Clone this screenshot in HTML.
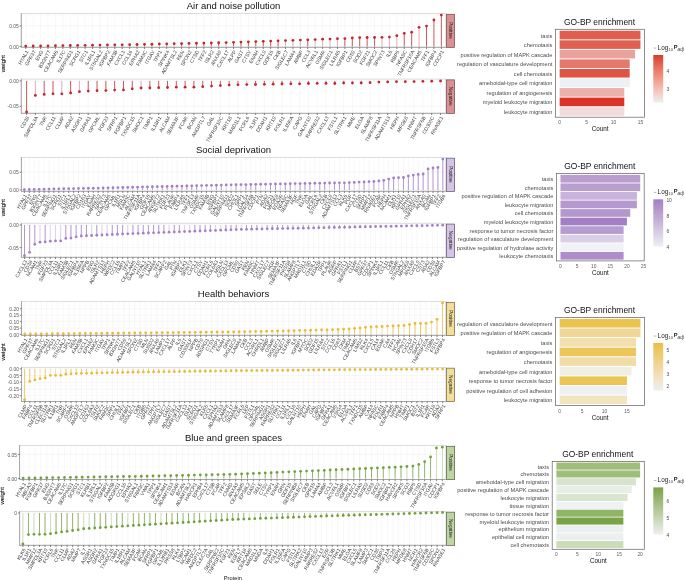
<!DOCTYPE html>
<html><head><meta charset="utf-8"><style>
html,body{margin:0;padding:0;background:#fff;}
body{width:685px;height:581px;overflow:hidden;font-family:"Liberation Sans", sans-serif;}
svg{display:block;}
#w{will-change:transform;}
</style></head><body>
<div id="w"><svg width="685" height="581" viewBox="0 0 685 581" font-family='"Liberation Sans", sans-serif'>
<rect width="685" height="581" fill="#ffffff"/>
<text x="233.50" y="8.80" font-size="9.5" text-anchor="middle" fill="#111" >Air and noise pollution</text>
<rect x="21.3" y="13.5" width="424.50" height="33.80" fill="#ffffff"/>
<line x1="21.3" x2="445.8" y1="15.65" y2="15.65" stroke="#f8f8f8" stroke-width="0.5"/>
<line x1="21.3" x2="445.8" y1="36.15" y2="36.15" stroke="#f8f8f8" stroke-width="0.5"/>
<line x1="21.3" x2="445.8" y1="25.90" y2="25.90" stroke="#f0f0f0" stroke-width="0.55"/>
<line x1="21.3" x2="445.8" y1="46.40" y2="46.40" stroke="#f0f0f0" stroke-width="0.55"/>
<line x1="25.75" x2="25.75" y1="13.5" y2="47.3" stroke="#f0f0f0" stroke-width="0.5"/>
<line x1="33.17" x2="33.17" y1="13.5" y2="47.3" stroke="#f0f0f0" stroke-width="0.5"/>
<line x1="40.60" x2="40.60" y1="13.5" y2="47.3" stroke="#f0f0f0" stroke-width="0.5"/>
<line x1="48.02" x2="48.02" y1="13.5" y2="47.3" stroke="#f0f0f0" stroke-width="0.5"/>
<line x1="55.44" x2="55.44" y1="13.5" y2="47.3" stroke="#f0f0f0" stroke-width="0.5"/>
<line x1="62.86" x2="62.86" y1="13.5" y2="47.3" stroke="#f0f0f0" stroke-width="0.5"/>
<line x1="70.28" x2="70.28" y1="13.5" y2="47.3" stroke="#f0f0f0" stroke-width="0.5"/>
<line x1="77.70" x2="77.70" y1="13.5" y2="47.3" stroke="#f0f0f0" stroke-width="0.5"/>
<line x1="85.12" x2="85.12" y1="13.5" y2="47.3" stroke="#f0f0f0" stroke-width="0.5"/>
<line x1="92.54" x2="92.54" y1="13.5" y2="47.3" stroke="#f0f0f0" stroke-width="0.5"/>
<line x1="99.97" x2="99.97" y1="13.5" y2="47.3" stroke="#f0f0f0" stroke-width="0.5"/>
<line x1="107.39" x2="107.39" y1="13.5" y2="47.3" stroke="#f0f0f0" stroke-width="0.5"/>
<line x1="114.81" x2="114.81" y1="13.5" y2="47.3" stroke="#f0f0f0" stroke-width="0.5"/>
<line x1="122.23" x2="122.23" y1="13.5" y2="47.3" stroke="#f0f0f0" stroke-width="0.5"/>
<line x1="129.65" x2="129.65" y1="13.5" y2="47.3" stroke="#f0f0f0" stroke-width="0.5"/>
<line x1="137.07" x2="137.07" y1="13.5" y2="47.3" stroke="#f0f0f0" stroke-width="0.5"/>
<line x1="144.49" x2="144.49" y1="13.5" y2="47.3" stroke="#f0f0f0" stroke-width="0.5"/>
<line x1="151.92" x2="151.92" y1="13.5" y2="47.3" stroke="#f0f0f0" stroke-width="0.5"/>
<line x1="159.34" x2="159.34" y1="13.5" y2="47.3" stroke="#f0f0f0" stroke-width="0.5"/>
<line x1="166.76" x2="166.76" y1="13.5" y2="47.3" stroke="#f0f0f0" stroke-width="0.5"/>
<line x1="174.18" x2="174.18" y1="13.5" y2="47.3" stroke="#f0f0f0" stroke-width="0.5"/>
<line x1="181.60" x2="181.60" y1="13.5" y2="47.3" stroke="#f0f0f0" stroke-width="0.5"/>
<line x1="189.02" x2="189.02" y1="13.5" y2="47.3" stroke="#f0f0f0" stroke-width="0.5"/>
<line x1="196.44" x2="196.44" y1="13.5" y2="47.3" stroke="#f0f0f0" stroke-width="0.5"/>
<line x1="203.86" x2="203.86" y1="13.5" y2="47.3" stroke="#f0f0f0" stroke-width="0.5"/>
<line x1="211.29" x2="211.29" y1="13.5" y2="47.3" stroke="#f0f0f0" stroke-width="0.5"/>
<line x1="218.71" x2="218.71" y1="13.5" y2="47.3" stroke="#f0f0f0" stroke-width="0.5"/>
<line x1="226.13" x2="226.13" y1="13.5" y2="47.3" stroke="#f0f0f0" stroke-width="0.5"/>
<line x1="233.55" x2="233.55" y1="13.5" y2="47.3" stroke="#f0f0f0" stroke-width="0.5"/>
<line x1="240.97" x2="240.97" y1="13.5" y2="47.3" stroke="#f0f0f0" stroke-width="0.5"/>
<line x1="248.39" x2="248.39" y1="13.5" y2="47.3" stroke="#f0f0f0" stroke-width="0.5"/>
<line x1="255.81" x2="255.81" y1="13.5" y2="47.3" stroke="#f0f0f0" stroke-width="0.5"/>
<line x1="263.24" x2="263.24" y1="13.5" y2="47.3" stroke="#f0f0f0" stroke-width="0.5"/>
<line x1="270.66" x2="270.66" y1="13.5" y2="47.3" stroke="#f0f0f0" stroke-width="0.5"/>
<line x1="278.08" x2="278.08" y1="13.5" y2="47.3" stroke="#f0f0f0" stroke-width="0.5"/>
<line x1="285.50" x2="285.50" y1="13.5" y2="47.3" stroke="#f0f0f0" stroke-width="0.5"/>
<line x1="292.92" x2="292.92" y1="13.5" y2="47.3" stroke="#f0f0f0" stroke-width="0.5"/>
<line x1="300.34" x2="300.34" y1="13.5" y2="47.3" stroke="#f0f0f0" stroke-width="0.5"/>
<line x1="307.76" x2="307.76" y1="13.5" y2="47.3" stroke="#f0f0f0" stroke-width="0.5"/>
<line x1="315.18" x2="315.18" y1="13.5" y2="47.3" stroke="#f0f0f0" stroke-width="0.5"/>
<line x1="322.61" x2="322.61" y1="13.5" y2="47.3" stroke="#f0f0f0" stroke-width="0.5"/>
<line x1="330.03" x2="330.03" y1="13.5" y2="47.3" stroke="#f0f0f0" stroke-width="0.5"/>
<line x1="337.45" x2="337.45" y1="13.5" y2="47.3" stroke="#f0f0f0" stroke-width="0.5"/>
<line x1="344.87" x2="344.87" y1="13.5" y2="47.3" stroke="#f0f0f0" stroke-width="0.5"/>
<line x1="352.29" x2="352.29" y1="13.5" y2="47.3" stroke="#f0f0f0" stroke-width="0.5"/>
<line x1="359.71" x2="359.71" y1="13.5" y2="47.3" stroke="#f0f0f0" stroke-width="0.5"/>
<line x1="367.13" x2="367.13" y1="13.5" y2="47.3" stroke="#f0f0f0" stroke-width="0.5"/>
<line x1="374.56" x2="374.56" y1="13.5" y2="47.3" stroke="#f0f0f0" stroke-width="0.5"/>
<line x1="381.98" x2="381.98" y1="13.5" y2="47.3" stroke="#f0f0f0" stroke-width="0.5"/>
<line x1="389.40" x2="389.40" y1="13.5" y2="47.3" stroke="#f0f0f0" stroke-width="0.5"/>
<line x1="396.82" x2="396.82" y1="13.5" y2="47.3" stroke="#f0f0f0" stroke-width="0.5"/>
<line x1="404.24" x2="404.24" y1="13.5" y2="47.3" stroke="#f0f0f0" stroke-width="0.5"/>
<line x1="411.66" x2="411.66" y1="13.5" y2="47.3" stroke="#f0f0f0" stroke-width="0.5"/>
<line x1="419.08" x2="419.08" y1="13.5" y2="47.3" stroke="#f0f0f0" stroke-width="0.5"/>
<line x1="426.50" x2="426.50" y1="13.5" y2="47.3" stroke="#f0f0f0" stroke-width="0.5"/>
<line x1="433.93" x2="433.93" y1="13.5" y2="47.3" stroke="#f0f0f0" stroke-width="0.5"/>
<line x1="441.35" x2="441.35" y1="13.5" y2="47.3" stroke="#f0f0f0" stroke-width="0.5"/>
<rect x="21.3" y="13.5" width="424.50" height="33.80" fill="none" stroke="#d9d9d9" stroke-width="0.9"/>
<line x1="21.3" x2="21.3" y1="13.05" y2="47.75" stroke="#a0a0a0" stroke-width="0.9"/>
<line x1="21.3" x2="445.8" y1="47.3" y2="47.3" stroke="#a0a0a0" stroke-width="0.9"/>
<line x1="25.75" x2="25.75" y1="46.40" y2="46.10" stroke="#c43c42" stroke-width="0.85"/>
<line x1="33.17" x2="33.17" y1="46.40" y2="46.00" stroke="#c43c42" stroke-width="0.85"/>
<line x1="40.60" x2="40.60" y1="46.40" y2="45.90" stroke="#c43c42" stroke-width="0.85"/>
<line x1="48.02" x2="48.02" y1="46.40" y2="45.80" stroke="#c43c42" stroke-width="0.85"/>
<line x1="55.44" x2="55.44" y1="46.40" y2="45.70" stroke="#c43c42" stroke-width="0.85"/>
<line x1="62.86" x2="62.86" y1="46.40" y2="45.60" stroke="#c43c42" stroke-width="0.85"/>
<line x1="70.28" x2="70.28" y1="46.40" y2="45.50" stroke="#e2a0a3" stroke-width="0.85"/>
<line x1="77.70" x2="77.70" y1="46.40" y2="45.40" stroke="#e2a0a3" stroke-width="0.85"/>
<line x1="85.12" x2="85.12" y1="46.40" y2="45.30" stroke="#c43c42" stroke-width="0.85"/>
<line x1="92.54" x2="92.54" y1="46.40" y2="45.20" stroke="#c43c42" stroke-width="0.85"/>
<line x1="99.97" x2="99.97" y1="46.40" y2="45.10" stroke="#c43c42" stroke-width="0.85"/>
<line x1="107.39" x2="107.39" y1="46.40" y2="45.00" stroke="#e2a0a3" stroke-width="0.85"/>
<line x1="114.81" x2="114.81" y1="46.40" y2="44.90" stroke="#c43c42" stroke-width="0.85"/>
<line x1="122.23" x2="122.23" y1="46.40" y2="44.80" stroke="#c43c42" stroke-width="0.85"/>
<line x1="129.65" x2="129.65" y1="46.40" y2="44.64" stroke="#c43c42" stroke-width="0.85"/>
<line x1="137.07" x2="137.07" y1="46.40" y2="44.49" stroke="#c43c42" stroke-width="0.85"/>
<line x1="144.49" x2="144.49" y1="46.40" y2="44.33" stroke="#c43c42" stroke-width="0.85"/>
<line x1="151.92" x2="151.92" y1="46.40" y2="44.17" stroke="#c43c42" stroke-width="0.85"/>
<line x1="159.34" x2="159.34" y1="46.40" y2="44.01" stroke="#e2a0a3" stroke-width="0.85"/>
<line x1="166.76" x2="166.76" y1="46.40" y2="43.86" stroke="#c43c42" stroke-width="0.85"/>
<line x1="174.18" x2="174.18" y1="46.40" y2="43.70" stroke="#e2a0a3" stroke-width="0.85"/>
<line x1="181.60" x2="181.60" y1="46.40" y2="43.54" stroke="#c43c42" stroke-width="0.85"/>
<line x1="189.02" x2="189.02" y1="46.40" y2="43.39" stroke="#e2a0a3" stroke-width="0.85"/>
<line x1="196.44" x2="196.44" y1="46.40" y2="43.23" stroke="#c43c42" stroke-width="0.85"/>
<line x1="203.86" x2="203.86" y1="46.40" y2="43.07" stroke="#c43c42" stroke-width="0.85"/>
<line x1="211.29" x2="211.29" y1="46.40" y2="42.91" stroke="#c43c42" stroke-width="0.85"/>
<line x1="218.71" x2="218.71" y1="46.40" y2="42.76" stroke="#c43c42" stroke-width="0.85"/>
<line x1="226.13" x2="226.13" y1="46.40" y2="42.60" stroke="#e2a0a3" stroke-width="0.85"/>
<line x1="233.55" x2="233.55" y1="46.40" y2="42.35" stroke="#c43c42" stroke-width="0.85"/>
<line x1="240.97" x2="240.97" y1="46.40" y2="42.09" stroke="#c43c42" stroke-width="0.85"/>
<line x1="248.39" x2="248.39" y1="46.40" y2="41.84" stroke="#c43c42" stroke-width="0.85"/>
<line x1="255.81" x2="255.81" y1="46.40" y2="41.58" stroke="#c43c42" stroke-width="0.85"/>
<line x1="263.24" x2="263.24" y1="46.40" y2="41.33" stroke="#c43c42" stroke-width="0.85"/>
<line x1="270.66" x2="270.66" y1="46.40" y2="41.08" stroke="#c43c42" stroke-width="0.85"/>
<line x1="278.08" x2="278.08" y1="46.40" y2="40.82" stroke="#c43c42" stroke-width="0.85"/>
<line x1="285.50" x2="285.50" y1="46.40" y2="40.57" stroke="#e2a0a3" stroke-width="0.85"/>
<line x1="292.92" x2="292.92" y1="46.40" y2="40.32" stroke="#e2a0a3" stroke-width="0.85"/>
<line x1="300.34" x2="300.34" y1="46.40" y2="40.06" stroke="#e2a0a3" stroke-width="0.85"/>
<line x1="307.76" x2="307.76" y1="46.40" y2="39.81" stroke="#c43c42" stroke-width="0.85"/>
<line x1="315.18" x2="315.18" y1="46.40" y2="39.55" stroke="#e2a0a3" stroke-width="0.85"/>
<line x1="322.61" x2="322.61" y1="46.40" y2="39.20" stroke="#e2a0a3" stroke-width="0.85"/>
<line x1="330.03" x2="330.03" y1="46.40" y2="39.10" stroke="#e2a0a3" stroke-width="0.85"/>
<line x1="337.45" x2="337.45" y1="46.40" y2="38.70" stroke="#e2a0a3" stroke-width="0.85"/>
<line x1="344.87" x2="344.87" y1="46.40" y2="38.60" stroke="#c43c42" stroke-width="0.85"/>
<line x1="352.29" x2="352.29" y1="46.40" y2="37.90" stroke="#c43c42" stroke-width="0.85"/>
<line x1="359.71" x2="359.71" y1="46.40" y2="37.60" stroke="#c43c42" stroke-width="0.85"/>
<line x1="367.13" x2="367.13" y1="46.40" y2="37.50" stroke="#c43c42" stroke-width="0.85"/>
<line x1="374.56" x2="374.56" y1="46.40" y2="37.50" stroke="#c43c42" stroke-width="0.85"/>
<line x1="381.98" x2="381.98" y1="46.40" y2="37.30" stroke="#e2a0a3" stroke-width="0.85"/>
<line x1="389.40" x2="389.40" y1="46.40" y2="37.10" stroke="#e2a0a3" stroke-width="0.85"/>
<line x1="396.82" x2="396.82" y1="46.40" y2="35.70" stroke="#e2a0a3" stroke-width="0.85"/>
<line x1="404.24" x2="404.24" y1="46.40" y2="33.30" stroke="#c43c42" stroke-width="0.85"/>
<line x1="411.66" x2="411.66" y1="46.40" y2="32.20" stroke="#c43c42" stroke-width="0.85"/>
<line x1="419.08" x2="419.08" y1="46.40" y2="27.30" stroke="#e2a0a3" stroke-width="0.85"/>
<line x1="426.50" x2="426.50" y1="46.40" y2="26.10" stroke="#c43c42" stroke-width="0.85"/>
<line x1="433.93" x2="433.93" y1="46.40" y2="20.00" stroke="#c43c42" stroke-width="0.85"/>
<line x1="441.35" x2="441.35" y1="46.40" y2="15.10" stroke="#c43c42" stroke-width="0.85"/>
<circle cx="25.75" cy="46.10" r="1.4" fill="#c2262c"/>
<circle cx="33.17" cy="46.00" r="1.4" fill="#c2262c"/>
<circle cx="40.60" cy="45.90" r="1.4" fill="#c2262c"/>
<circle cx="48.02" cy="45.80" r="1.4" fill="#c2262c"/>
<circle cx="55.44" cy="45.70" r="1.4" fill="#c2262c"/>
<circle cx="62.86" cy="45.60" r="1.4" fill="#c2262c"/>
<circle cx="70.28" cy="45.50" r="1.4" fill="#c2262c"/>
<circle cx="77.70" cy="45.40" r="1.4" fill="#c2262c"/>
<circle cx="85.12" cy="45.30" r="1.4" fill="#c2262c"/>
<circle cx="92.54" cy="45.20" r="1.4" fill="#c2262c"/>
<circle cx="99.97" cy="45.10" r="1.4" fill="#c2262c"/>
<circle cx="107.39" cy="45.00" r="1.4" fill="#c2262c"/>
<circle cx="114.81" cy="44.90" r="1.4" fill="#c2262c"/>
<circle cx="122.23" cy="44.80" r="1.4" fill="#c2262c"/>
<circle cx="129.65" cy="44.64" r="1.4" fill="#c2262c"/>
<circle cx="137.07" cy="44.49" r="1.4" fill="#c2262c"/>
<circle cx="144.49" cy="44.33" r="1.4" fill="#c2262c"/>
<circle cx="151.92" cy="44.17" r="1.4" fill="#c2262c"/>
<circle cx="159.34" cy="44.01" r="1.4" fill="#c2262c"/>
<circle cx="166.76" cy="43.86" r="1.4" fill="#c2262c"/>
<circle cx="174.18" cy="43.70" r="1.4" fill="#c2262c"/>
<circle cx="181.60" cy="43.54" r="1.4" fill="#c2262c"/>
<circle cx="189.02" cy="43.39" r="1.4" fill="#c2262c"/>
<circle cx="196.44" cy="43.23" r="1.4" fill="#c2262c"/>
<circle cx="203.86" cy="43.07" r="1.4" fill="#c2262c"/>
<circle cx="211.29" cy="42.91" r="1.4" fill="#c2262c"/>
<circle cx="218.71" cy="42.76" r="1.4" fill="#c2262c"/>
<circle cx="226.13" cy="42.60" r="1.4" fill="#c2262c"/>
<circle cx="233.55" cy="42.35" r="1.4" fill="#c2262c"/>
<circle cx="240.97" cy="42.09" r="1.4" fill="#c2262c"/>
<circle cx="248.39" cy="41.84" r="1.4" fill="#c2262c"/>
<circle cx="255.81" cy="41.58" r="1.4" fill="#c2262c"/>
<circle cx="263.24" cy="41.33" r="1.4" fill="#c2262c"/>
<circle cx="270.66" cy="41.08" r="1.4" fill="#c2262c"/>
<circle cx="278.08" cy="40.82" r="1.4" fill="#c2262c"/>
<circle cx="285.50" cy="40.57" r="1.4" fill="#c2262c"/>
<circle cx="292.92" cy="40.32" r="1.4" fill="#c2262c"/>
<circle cx="300.34" cy="40.06" r="1.4" fill="#c2262c"/>
<circle cx="307.76" cy="39.81" r="1.4" fill="#c2262c"/>
<circle cx="315.18" cy="39.55" r="1.4" fill="#c2262c"/>
<circle cx="322.61" cy="39.20" r="1.4" fill="#c2262c"/>
<circle cx="330.03" cy="39.10" r="1.4" fill="#c2262c"/>
<circle cx="337.45" cy="38.70" r="1.4" fill="#c2262c"/>
<circle cx="344.87" cy="38.60" r="1.4" fill="#c2262c"/>
<circle cx="352.29" cy="37.90" r="1.4" fill="#c2262c"/>
<circle cx="359.71" cy="37.60" r="1.4" fill="#c2262c"/>
<circle cx="367.13" cy="37.50" r="1.4" fill="#c2262c"/>
<circle cx="374.56" cy="37.50" r="1.4" fill="#c2262c"/>
<circle cx="381.98" cy="37.30" r="1.4" fill="#c2262c"/>
<circle cx="389.40" cy="37.10" r="1.4" fill="#c2262c"/>
<circle cx="396.82" cy="35.70" r="1.4" fill="#c2262c"/>
<circle cx="404.24" cy="33.30" r="1.4" fill="#c2262c"/>
<circle cx="411.66" cy="32.20" r="1.4" fill="#c2262c"/>
<circle cx="419.08" cy="27.30" r="1.4" fill="#c2262c"/>
<circle cx="426.50" cy="26.10" r="1.4" fill="#c2262c"/>
<circle cx="433.93" cy="20.00" r="1.4" fill="#c2262c"/>
<circle cx="441.35" cy="15.10" r="1.4" fill="#c2262c"/>
<line x1="19.60" x2="21.3" y1="25.9" y2="25.9" stroke="#333" stroke-width="0.6"/>
<text x="18.70" y="28.00" font-size="4.9" text-anchor="end" fill="#555555" >0.05</text>
<line x1="19.60" x2="21.3" y1="46.4" y2="46.4" stroke="#333" stroke-width="0.6"/>
<text x="18.70" y="48.50" font-size="4.9" text-anchor="end" fill="#555555" >0.00</text>
<line x1="25.75" x2="25.75" y1="47.3" y2="49.00" stroke="#333" stroke-width="0.6"/>
<text transform="translate(28.65,51.70) rotate(-60)" font-size="5.0" text-anchor="end" fill="#444444">HYAL1</text>
<line x1="33.17" x2="33.17" y1="47.3" y2="49.00" stroke="#333" stroke-width="0.6"/>
<text transform="translate(36.07,51.70) rotate(-60)" font-size="5.0" text-anchor="end" fill="#444444">GPR37</text>
<line x1="40.60" x2="40.60" y1="47.3" y2="49.00" stroke="#333" stroke-width="0.6"/>
<text transform="translate(43.50,51.70) rotate(-60)" font-size="5.0" text-anchor="end" fill="#444444">ENG</text>
<line x1="48.02" x2="48.02" y1="47.3" y2="49.00" stroke="#333" stroke-width="0.6"/>
<text transform="translate(50.92,51.70) rotate(-60)" font-size="5.0" text-anchor="end" fill="#444444">B3GNT7</text>
<line x1="55.44" x2="55.44" y1="47.3" y2="49.00" stroke="#333" stroke-width="0.6"/>
<text transform="translate(58.34,51.70) rotate(-60)" font-size="5.0" text-anchor="end" fill="#444444">CEACAM6</text>
<line x1="62.86" x2="62.86" y1="47.3" y2="49.00" stroke="#333" stroke-width="0.6"/>
<text transform="translate(65.76,51.70) rotate(-60)" font-size="5.0" text-anchor="end" fill="#444444">IL17C</text>
<line x1="70.28" x2="70.28" y1="47.3" y2="49.00" stroke="#333" stroke-width="0.6"/>
<text transform="translate(73.18,51.70) rotate(-60)" font-size="5.0" text-anchor="end" fill="#444444">SERPING1</text>
<line x1="77.70" x2="77.70" y1="47.3" y2="49.00" stroke="#333" stroke-width="0.6"/>
<text transform="translate(80.60,51.70) rotate(-60)" font-size="5.0" text-anchor="end" fill="#444444">SCRG1</text>
<line x1="85.12" x2="85.12" y1="47.3" y2="49.00" stroke="#333" stroke-width="0.6"/>
<text transform="translate(88.02,51.70) rotate(-60)" font-size="5.0" text-anchor="end" fill="#444444">STC1</text>
<line x1="92.54" x2="92.54" y1="47.3" y2="49.00" stroke="#333" stroke-width="0.6"/>
<text transform="translate(95.44,51.70) rotate(-60)" font-size="5.0" text-anchor="end" fill="#444444">IL1RL1</text>
<line x1="99.97" x2="99.97" y1="47.3" y2="49.00" stroke="#333" stroke-width="0.6"/>
<text transform="translate(102.87,51.70) rotate(-60)" font-size="5.0" text-anchor="end" fill="#444444">ST6GAL2</text>
<line x1="107.39" x2="107.39" y1="47.3" y2="49.00" stroke="#333" stroke-width="0.6"/>
<text transform="translate(110.29,51.70) rotate(-60)" font-size="5.0" text-anchor="end" fill="#444444">IGFBP2</text>
<line x1="114.81" x2="114.81" y1="47.3" y2="49.00" stroke="#333" stroke-width="0.6"/>
<text transform="translate(117.71,51.70) rotate(-60)" font-size="5.0" text-anchor="end" fill="#444444">FAM3B</text>
<line x1="122.23" x2="122.23" y1="47.3" y2="49.00" stroke="#333" stroke-width="0.6"/>
<text transform="translate(125.13,51.70) rotate(-60)" font-size="5.0" text-anchor="end" fill="#444444">CXCL1</text>
<line x1="129.65" x2="129.65" y1="47.3" y2="49.00" stroke="#333" stroke-width="0.6"/>
<text transform="translate(132.55,51.70) rotate(-60)" font-size="5.0" text-anchor="end" fill="#444444">CCL16</text>
<line x1="137.07" x2="137.07" y1="47.3" y2="49.00" stroke="#333" stroke-width="0.6"/>
<text transform="translate(139.97,51.70) rotate(-60)" font-size="5.0" text-anchor="end" fill="#444444">EPHA2</text>
<line x1="144.49" x2="144.49" y1="47.3" y2="49.00" stroke="#333" stroke-width="0.6"/>
<text transform="translate(147.39,51.70) rotate(-60)" font-size="5.0" text-anchor="end" fill="#444444">FAM3C</text>
<line x1="151.92" x2="151.92" y1="47.3" y2="49.00" stroke="#333" stroke-width="0.6"/>
<text transform="translate(154.82,51.70) rotate(-60)" font-size="5.0" text-anchor="end" fill="#444444">ITGAV</text>
<line x1="159.34" x2="159.34" y1="47.3" y2="49.00" stroke="#333" stroke-width="0.6"/>
<text transform="translate(162.24,51.70) rotate(-60)" font-size="5.0" text-anchor="end" fill="#444444">TPP1</text>
<line x1="166.76" x2="166.76" y1="47.3" y2="49.00" stroke="#333" stroke-width="0.6"/>
<text transform="translate(169.66,51.70) rotate(-60)" font-size="5.0" text-anchor="end" fill="#444444">SPINK4</text>
<line x1="174.18" x2="174.18" y1="47.3" y2="49.00" stroke="#333" stroke-width="0.6"/>
<text transform="translate(177.08,51.70) rotate(-60)" font-size="5.0" text-anchor="end" fill="#444444">ADAMTSL2</text>
<line x1="181.60" x2="181.60" y1="47.3" y2="49.00" stroke="#333" stroke-width="0.6"/>
<text transform="translate(184.50,51.70) rotate(-60)" font-size="5.0" text-anchor="end" fill="#444444">REN</text>
<line x1="189.02" x2="189.02" y1="47.3" y2="49.00" stroke="#333" stroke-width="0.6"/>
<text transform="translate(191.92,51.70) rotate(-60)" font-size="5.0" text-anchor="end" fill="#444444">SPON2</text>
<line x1="196.44" x2="196.44" y1="47.3" y2="49.00" stroke="#333" stroke-width="0.6"/>
<text transform="translate(199.34,51.70) rotate(-60)" font-size="5.0" text-anchor="end" fill="#444444">CTSD</text>
<line x1="203.86" x2="203.86" y1="47.3" y2="49.00" stroke="#333" stroke-width="0.6"/>
<text transform="translate(206.76,51.70) rotate(-60)" font-size="5.0" text-anchor="end" fill="#444444">TFF2</text>
<line x1="211.29" x2="211.29" y1="47.3" y2="49.00" stroke="#333" stroke-width="0.6"/>
<text transform="translate(214.19,51.70) rotate(-60)" font-size="5.0" text-anchor="end" fill="#444444">ISLR2</text>
<line x1="218.71" x2="218.71" y1="47.3" y2="49.00" stroke="#333" stroke-width="0.6"/>
<text transform="translate(221.61,51.70) rotate(-60)" font-size="5.0" text-anchor="end" fill="#444444">ANXA9</text>
<line x1="226.13" x2="226.13" y1="47.3" y2="49.00" stroke="#333" stroke-width="0.6"/>
<text transform="translate(229.03,51.70) rotate(-60)" font-size="5.0" text-anchor="end" fill="#444444">CXCL17</text>
<line x1="233.55" x2="233.55" y1="47.3" y2="49.00" stroke="#333" stroke-width="0.6"/>
<text transform="translate(236.45,51.70) rotate(-60)" font-size="5.0" text-anchor="end" fill="#444444">ALPP</text>
<line x1="240.97" x2="240.97" y1="47.3" y2="49.00" stroke="#333" stroke-width="0.6"/>
<text transform="translate(243.87,51.70) rotate(-60)" font-size="5.0" text-anchor="end" fill="#444444">GAST</text>
<line x1="248.39" x2="248.39" y1="47.3" y2="49.00" stroke="#333" stroke-width="0.6"/>
<text transform="translate(251.29,51.70) rotate(-60)" font-size="5.0" text-anchor="end" fill="#444444">CTSV</text>
<line x1="255.81" x2="255.81" y1="47.3" y2="49.00" stroke="#333" stroke-width="0.6"/>
<text transform="translate(258.71,51.70) rotate(-60)" font-size="5.0" text-anchor="end" fill="#444444">ENAH</text>
<line x1="263.24" x2="263.24" y1="47.3" y2="49.00" stroke="#333" stroke-width="0.6"/>
<text transform="translate(266.14,51.70) rotate(-60)" font-size="5.0" text-anchor="end" fill="#444444">CXCL9</text>
<line x1="270.66" x2="270.66" y1="47.3" y2="49.00" stroke="#333" stroke-width="0.6"/>
<text transform="translate(273.56,51.70) rotate(-60)" font-size="5.0" text-anchor="end" fill="#444444">GDF15</text>
<line x1="278.08" x2="278.08" y1="47.3" y2="49.00" stroke="#333" stroke-width="0.6"/>
<text transform="translate(280.98,51.70) rotate(-60)" font-size="5.0" text-anchor="end" fill="#444444">CKB</text>
<line x1="285.50" x2="285.50" y1="47.3" y2="49.00" stroke="#333" stroke-width="0.6"/>
<text transform="translate(288.40,51.70) rotate(-60)" font-size="5.0" text-anchor="end" fill="#444444">SIGLEC7</text>
<line x1="292.92" x2="292.92" y1="47.3" y2="49.00" stroke="#333" stroke-width="0.6"/>
<text transform="translate(295.82,51.70) rotate(-60)" font-size="5.0" text-anchor="end" fill="#444444">LAMA4</text>
<line x1="300.34" x2="300.34" y1="47.3" y2="49.00" stroke="#333" stroke-width="0.6"/>
<text transform="translate(303.24,51.70) rotate(-60)" font-size="5.0" text-anchor="end" fill="#444444">AMBP</text>
<line x1="307.76" x2="307.76" y1="47.3" y2="49.00" stroke="#333" stroke-width="0.6"/>
<text transform="translate(310.66,51.70) rotate(-60)" font-size="5.0" text-anchor="end" fill="#444444">CCL3</text>
<line x1="315.18" x2="315.18" y1="47.3" y2="49.00" stroke="#333" stroke-width="0.6"/>
<text transform="translate(318.08,51.70) rotate(-60)" font-size="5.0" text-anchor="end" fill="#444444">ACVRL1</text>
<line x1="322.61" x2="322.61" y1="47.3" y2="49.00" stroke="#333" stroke-width="0.6"/>
<text transform="translate(325.51,51.70) rotate(-60)" font-size="5.0" text-anchor="end" fill="#444444">OSMR</text>
<line x1="330.03" x2="330.03" y1="47.3" y2="49.00" stroke="#333" stroke-width="0.6"/>
<text transform="translate(332.93,51.70) rotate(-60)" font-size="5.0" text-anchor="end" fill="#444444">SIGLEC1</text>
<line x1="337.45" x2="337.45" y1="47.3" y2="49.00" stroke="#333" stroke-width="0.6"/>
<text transform="translate(340.35,51.70) rotate(-60)" font-size="5.0" text-anchor="end" fill="#444444">LILRA5</text>
<line x1="344.87" x2="344.87" y1="47.3" y2="49.00" stroke="#333" stroke-width="0.6"/>
<text transform="translate(347.77,51.70) rotate(-60)" font-size="5.0" text-anchor="end" fill="#444444">IGFBP1</text>
<line x1="352.29" x2="352.29" y1="47.3" y2="49.00" stroke="#333" stroke-width="0.6"/>
<text transform="translate(355.19,51.70) rotate(-60)" font-size="5.0" text-anchor="end" fill="#444444">CD59</text>
<line x1="359.71" x2="359.71" y1="47.3" y2="49.00" stroke="#333" stroke-width="0.6"/>
<text transform="translate(362.61,51.70) rotate(-60)" font-size="5.0" text-anchor="end" fill="#444444">SOD2</text>
<line x1="367.13" x2="367.13" y1="47.3" y2="49.00" stroke="#333" stroke-width="0.6"/>
<text transform="translate(370.03,51.70) rotate(-60)" font-size="5.0" text-anchor="end" fill="#444444">FGF21</text>
<line x1="374.56" x2="374.56" y1="47.3" y2="49.00" stroke="#333" stroke-width="0.6"/>
<text transform="translate(377.46,51.70) rotate(-60)" font-size="5.0" text-anchor="end" fill="#444444">SMOC2</text>
<line x1="381.98" x2="381.98" y1="47.3" y2="49.00" stroke="#333" stroke-width="0.6"/>
<text transform="translate(384.88,51.70) rotate(-60)" font-size="5.0" text-anchor="end" fill="#444444">SPINT3</text>
<line x1="389.40" x2="389.40" y1="47.3" y2="49.00" stroke="#333" stroke-width="0.6"/>
<text transform="translate(392.30,51.70) rotate(-60)" font-size="5.0" text-anchor="end" fill="#444444">IL6</text>
<line x1="396.82" x2="396.82" y1="47.3" y2="49.00" stroke="#333" stroke-width="0.6"/>
<text transform="translate(399.72,51.70) rotate(-60)" font-size="5.0" text-anchor="end" fill="#444444">RBP5</text>
<line x1="404.24" x2="404.24" y1="47.3" y2="49.00" stroke="#333" stroke-width="0.6"/>
<text transform="translate(407.14,51.70) rotate(-60)" font-size="5.0" text-anchor="end" fill="#444444">NFASC</text>
<line x1="411.66" x2="411.66" y1="47.3" y2="49.00" stroke="#333" stroke-width="0.6"/>
<text transform="translate(414.56,51.70) rotate(-60)" font-size="5.0" text-anchor="end" fill="#444444">TNFRSF10A</text>
<line x1="419.08" x2="419.08" y1="47.3" y2="49.00" stroke="#333" stroke-width="0.6"/>
<text transform="translate(421.98,51.70) rotate(-60)" font-size="5.0" text-anchor="end" fill="#444444">CEACAM5</text>
<line x1="426.50" x2="426.50" y1="47.3" y2="49.00" stroke="#333" stroke-width="0.6"/>
<text transform="translate(429.40,51.70) rotate(-60)" font-size="5.0" text-anchor="end" fill="#444444">TFF1</text>
<line x1="433.93" x2="433.93" y1="47.3" y2="49.00" stroke="#333" stroke-width="0.6"/>
<text transform="translate(436.83,51.70) rotate(-60)" font-size="5.0" text-anchor="end" fill="#444444">IGFBP4</text>
<line x1="441.35" x2="441.35" y1="47.3" y2="49.00" stroke="#333" stroke-width="0.6"/>
<text transform="translate(444.25,51.70) rotate(-60)" font-size="5.0" text-anchor="end" fill="#444444">CDCP1</text>
<rect x="446.55" y="14.25" width="8.00" height="33.10" fill="#d99194" stroke="#6b4546" stroke-width="0.7"/>
<text transform="translate(448.95,30.40) rotate(90)" font-size="4.8" text-anchor="middle" fill="#1a1a1a">Positive</text>
<rect x="21.3" y="79.1" width="424.50" height="34.20" fill="#ffffff"/>
<line x1="21.3" x2="445.8" y1="93.60" y2="93.60" stroke="#f8f8f8" stroke-width="0.5"/>
<line x1="21.3" x2="445.8" y1="80.90" y2="80.90" stroke="#f0f0f0" stroke-width="0.55"/>
<line x1="21.3" x2="445.8" y1="106.30" y2="106.30" stroke="#f0f0f0" stroke-width="0.55"/>
<line x1="26.58" x2="26.58" y1="79.1" y2="113.3" stroke="#f0f0f0" stroke-width="0.5"/>
<line x1="35.39" x2="35.39" y1="79.1" y2="113.3" stroke="#f0f0f0" stroke-width="0.5"/>
<line x1="44.20" x2="44.20" y1="79.1" y2="113.3" stroke="#f0f0f0" stroke-width="0.5"/>
<line x1="53.01" x2="53.01" y1="79.1" y2="113.3" stroke="#f0f0f0" stroke-width="0.5"/>
<line x1="61.81" x2="61.81" y1="79.1" y2="113.3" stroke="#f0f0f0" stroke-width="0.5"/>
<line x1="70.62" x2="70.62" y1="79.1" y2="113.3" stroke="#f0f0f0" stroke-width="0.5"/>
<line x1="79.43" x2="79.43" y1="79.1" y2="113.3" stroke="#f0f0f0" stroke-width="0.5"/>
<line x1="88.23" x2="88.23" y1="79.1" y2="113.3" stroke="#f0f0f0" stroke-width="0.5"/>
<line x1="97.04" x2="97.04" y1="79.1" y2="113.3" stroke="#f0f0f0" stroke-width="0.5"/>
<line x1="105.85" x2="105.85" y1="79.1" y2="113.3" stroke="#f0f0f0" stroke-width="0.5"/>
<line x1="114.65" x2="114.65" y1="79.1" y2="113.3" stroke="#f0f0f0" stroke-width="0.5"/>
<line x1="123.46" x2="123.46" y1="79.1" y2="113.3" stroke="#f0f0f0" stroke-width="0.5"/>
<line x1="132.27" x2="132.27" y1="79.1" y2="113.3" stroke="#f0f0f0" stroke-width="0.5"/>
<line x1="141.08" x2="141.08" y1="79.1" y2="113.3" stroke="#f0f0f0" stroke-width="0.5"/>
<line x1="149.88" x2="149.88" y1="79.1" y2="113.3" stroke="#f0f0f0" stroke-width="0.5"/>
<line x1="158.69" x2="158.69" y1="79.1" y2="113.3" stroke="#f0f0f0" stroke-width="0.5"/>
<line x1="167.50" x2="167.50" y1="79.1" y2="113.3" stroke="#f0f0f0" stroke-width="0.5"/>
<line x1="176.30" x2="176.30" y1="79.1" y2="113.3" stroke="#f0f0f0" stroke-width="0.5"/>
<line x1="185.11" x2="185.11" y1="79.1" y2="113.3" stroke="#f0f0f0" stroke-width="0.5"/>
<line x1="193.92" x2="193.92" y1="79.1" y2="113.3" stroke="#f0f0f0" stroke-width="0.5"/>
<line x1="202.73" x2="202.73" y1="79.1" y2="113.3" stroke="#f0f0f0" stroke-width="0.5"/>
<line x1="211.53" x2="211.53" y1="79.1" y2="113.3" stroke="#f0f0f0" stroke-width="0.5"/>
<line x1="220.34" x2="220.34" y1="79.1" y2="113.3" stroke="#f0f0f0" stroke-width="0.5"/>
<line x1="229.15" x2="229.15" y1="79.1" y2="113.3" stroke="#f0f0f0" stroke-width="0.5"/>
<line x1="237.95" x2="237.95" y1="79.1" y2="113.3" stroke="#f0f0f0" stroke-width="0.5"/>
<line x1="246.76" x2="246.76" y1="79.1" y2="113.3" stroke="#f0f0f0" stroke-width="0.5"/>
<line x1="255.57" x2="255.57" y1="79.1" y2="113.3" stroke="#f0f0f0" stroke-width="0.5"/>
<line x1="264.37" x2="264.37" y1="79.1" y2="113.3" stroke="#f0f0f0" stroke-width="0.5"/>
<line x1="273.18" x2="273.18" y1="79.1" y2="113.3" stroke="#f0f0f0" stroke-width="0.5"/>
<line x1="281.99" x2="281.99" y1="79.1" y2="113.3" stroke="#f0f0f0" stroke-width="0.5"/>
<line x1="290.80" x2="290.80" y1="79.1" y2="113.3" stroke="#f0f0f0" stroke-width="0.5"/>
<line x1="299.60" x2="299.60" y1="79.1" y2="113.3" stroke="#f0f0f0" stroke-width="0.5"/>
<line x1="308.41" x2="308.41" y1="79.1" y2="113.3" stroke="#f0f0f0" stroke-width="0.5"/>
<line x1="317.22" x2="317.22" y1="79.1" y2="113.3" stroke="#f0f0f0" stroke-width="0.5"/>
<line x1="326.02" x2="326.02" y1="79.1" y2="113.3" stroke="#f0f0f0" stroke-width="0.5"/>
<line x1="334.83" x2="334.83" y1="79.1" y2="113.3" stroke="#f0f0f0" stroke-width="0.5"/>
<line x1="343.64" x2="343.64" y1="79.1" y2="113.3" stroke="#f0f0f0" stroke-width="0.5"/>
<line x1="352.45" x2="352.45" y1="79.1" y2="113.3" stroke="#f0f0f0" stroke-width="0.5"/>
<line x1="361.25" x2="361.25" y1="79.1" y2="113.3" stroke="#f0f0f0" stroke-width="0.5"/>
<line x1="370.06" x2="370.06" y1="79.1" y2="113.3" stroke="#f0f0f0" stroke-width="0.5"/>
<line x1="378.87" x2="378.87" y1="79.1" y2="113.3" stroke="#f0f0f0" stroke-width="0.5"/>
<line x1="387.67" x2="387.67" y1="79.1" y2="113.3" stroke="#f0f0f0" stroke-width="0.5"/>
<line x1="396.48" x2="396.48" y1="79.1" y2="113.3" stroke="#f0f0f0" stroke-width="0.5"/>
<line x1="405.29" x2="405.29" y1="79.1" y2="113.3" stroke="#f0f0f0" stroke-width="0.5"/>
<line x1="414.09" x2="414.09" y1="79.1" y2="113.3" stroke="#f0f0f0" stroke-width="0.5"/>
<line x1="422.90" x2="422.90" y1="79.1" y2="113.3" stroke="#f0f0f0" stroke-width="0.5"/>
<line x1="431.71" x2="431.71" y1="79.1" y2="113.3" stroke="#f0f0f0" stroke-width="0.5"/>
<line x1="440.52" x2="440.52" y1="79.1" y2="113.3" stroke="#f0f0f0" stroke-width="0.5"/>
<rect x="21.3" y="79.1" width="424.50" height="34.20" fill="none" stroke="#d9d9d9" stroke-width="0.9"/>
<line x1="21.3" x2="21.3" y1="78.64999999999999" y2="113.75" stroke="#a0a0a0" stroke-width="0.9"/>
<line x1="21.3" x2="445.8" y1="113.3" y2="113.3" stroke="#a0a0a0" stroke-width="0.9"/>
<line x1="26.58" x2="26.58" y1="80.90" y2="111.90" stroke="#c43c42" stroke-width="0.85"/>
<line x1="35.39" x2="35.39" y1="80.90" y2="95.40" stroke="#e2a0a3" stroke-width="0.85"/>
<line x1="44.20" x2="44.20" y1="80.90" y2="94.40" stroke="#c43c42" stroke-width="0.85"/>
<line x1="53.01" x2="53.01" y1="80.90" y2="93.80" stroke="#c43c42" stroke-width="0.85"/>
<line x1="61.81" x2="61.81" y1="80.90" y2="93.80" stroke="#e2a0a3" stroke-width="0.85"/>
<line x1="70.62" x2="70.62" y1="80.90" y2="93.00" stroke="#c43c42" stroke-width="0.85"/>
<line x1="79.43" x2="79.43" y1="80.90" y2="91.70" stroke="#e2a0a3" stroke-width="0.85"/>
<line x1="88.23" x2="88.23" y1="80.90" y2="91.10" stroke="#c43c42" stroke-width="0.85"/>
<line x1="97.04" x2="97.04" y1="80.90" y2="90.70" stroke="#c43c42" stroke-width="0.85"/>
<line x1="105.85" x2="105.85" y1="80.90" y2="90.60" stroke="#c43c42" stroke-width="0.85"/>
<line x1="114.65" x2="114.65" y1="80.90" y2="90.10" stroke="#c43c42" stroke-width="0.85"/>
<line x1="123.46" x2="123.46" y1="80.90" y2="89.90" stroke="#c43c42" stroke-width="0.85"/>
<line x1="132.27" x2="132.27" y1="80.90" y2="88.80" stroke="#c43c42" stroke-width="0.85"/>
<line x1="141.08" x2="141.08" y1="80.90" y2="88.00" stroke="#e2a0a3" stroke-width="0.85"/>
<line x1="149.88" x2="149.88" y1="80.90" y2="88.00" stroke="#c43c42" stroke-width="0.85"/>
<line x1="158.69" x2="158.69" y1="80.90" y2="87.70" stroke="#c43c42" stroke-width="0.85"/>
<line x1="167.50" x2="167.50" y1="80.90" y2="87.50" stroke="#c43c42" stroke-width="0.85"/>
<line x1="176.30" x2="176.30" y1="80.90" y2="87.20" stroke="#c43c42" stroke-width="0.85"/>
<line x1="185.11" x2="185.11" y1="80.90" y2="87.20" stroke="#c43c42" stroke-width="0.85"/>
<line x1="193.92" x2="193.92" y1="80.90" y2="87.20" stroke="#c43c42" stroke-width="0.85"/>
<line x1="202.73" x2="202.73" y1="80.90" y2="86.70" stroke="#c43c42" stroke-width="0.85"/>
<line x1="211.53" x2="211.53" y1="80.90" y2="86.10" stroke="#c43c42" stroke-width="0.85"/>
<line x1="220.34" x2="220.34" y1="80.90" y2="85.60" stroke="#c43c42" stroke-width="0.85"/>
<line x1="229.15" x2="229.15" y1="80.90" y2="85.10" stroke="#c43c42" stroke-width="0.85"/>
<line x1="237.95" x2="237.95" y1="80.90" y2="84.80" stroke="#c43c42" stroke-width="0.85"/>
<line x1="246.76" x2="246.76" y1="80.90" y2="84.60" stroke="#e2a0a3" stroke-width="0.85"/>
<line x1="255.57" x2="255.57" y1="80.90" y2="84.50" stroke="#c43c42" stroke-width="0.85"/>
<line x1="264.37" x2="264.37" y1="80.90" y2="84.30" stroke="#c43c42" stroke-width="0.85"/>
<line x1="273.18" x2="273.18" y1="80.90" y2="84.20" stroke="#c43c42" stroke-width="0.85"/>
<line x1="281.99" x2="281.99" y1="80.90" y2="84.00" stroke="#c43c42" stroke-width="0.85"/>
<line x1="290.80" x2="290.80" y1="80.90" y2="83.80" stroke="#c43c42" stroke-width="0.85"/>
<line x1="299.60" x2="299.60" y1="80.90" y2="83.80" stroke="#e2a0a3" stroke-width="0.85"/>
<line x1="308.41" x2="308.41" y1="80.90" y2="83.50" stroke="#c43c42" stroke-width="0.85"/>
<line x1="317.22" x2="317.22" y1="80.90" y2="83.40" stroke="#e2a0a3" stroke-width="0.85"/>
<line x1="326.02" x2="326.02" y1="80.90" y2="83.40" stroke="#c43c42" stroke-width="0.85"/>
<line x1="334.83" x2="334.83" y1="80.90" y2="83.50" stroke="#c43c42" stroke-width="0.85"/>
<line x1="343.64" x2="343.64" y1="80.90" y2="83.00" stroke="#c43c42" stroke-width="0.85"/>
<line x1="352.45" x2="352.45" y1="80.90" y2="83.00" stroke="#e2a0a3" stroke-width="0.85"/>
<line x1="361.25" x2="361.25" y1="80.90" y2="83.00" stroke="#c43c42" stroke-width="0.85"/>
<line x1="370.06" x2="370.06" y1="80.90" y2="82.70" stroke="#e2a0a3" stroke-width="0.85"/>
<line x1="378.87" x2="378.87" y1="80.90" y2="82.10" stroke="#c43c42" stroke-width="0.85"/>
<line x1="387.67" x2="387.67" y1="80.90" y2="81.90" stroke="#e2a0a3" stroke-width="0.85"/>
<line x1="396.48" x2="396.48" y1="80.90" y2="81.70" stroke="#e2a0a3" stroke-width="0.85"/>
<line x1="405.29" x2="405.29" y1="80.90" y2="81.70" stroke="#e2a0a3" stroke-width="0.85"/>
<line x1="414.09" x2="414.09" y1="80.90" y2="81.60" stroke="#c43c42" stroke-width="0.85"/>
<line x1="422.90" x2="422.90" y1="80.90" y2="81.30" stroke="#c43c42" stroke-width="0.85"/>
<line x1="431.71" x2="431.71" y1="80.90" y2="81.20" stroke="#c43c42" stroke-width="0.85"/>
<line x1="440.52" x2="440.52" y1="80.90" y2="81.00" stroke="#e2a0a3" stroke-width="0.85"/>
<circle cx="26.58" cy="111.90" r="1.4" fill="#c2262c"/>
<circle cx="35.39" cy="95.40" r="1.4" fill="#c2262c"/>
<circle cx="44.20" cy="94.40" r="1.4" fill="#c2262c"/>
<circle cx="53.01" cy="93.80" r="1.4" fill="#c2262c"/>
<circle cx="61.81" cy="93.80" r="1.4" fill="#c2262c"/>
<circle cx="70.62" cy="93.00" r="1.4" fill="#c2262c"/>
<circle cx="79.43" cy="91.70" r="1.4" fill="#c2262c"/>
<circle cx="88.23" cy="91.10" r="1.4" fill="#c2262c"/>
<circle cx="97.04" cy="90.70" r="1.4" fill="#c2262c"/>
<circle cx="105.85" cy="90.60" r="1.4" fill="#c2262c"/>
<circle cx="114.65" cy="90.10" r="1.4" fill="#c2262c"/>
<circle cx="123.46" cy="89.90" r="1.4" fill="#c2262c"/>
<circle cx="132.27" cy="88.80" r="1.4" fill="#c2262c"/>
<circle cx="141.08" cy="88.00" r="1.4" fill="#c2262c"/>
<circle cx="149.88" cy="88.00" r="1.4" fill="#c2262c"/>
<circle cx="158.69" cy="87.70" r="1.4" fill="#c2262c"/>
<circle cx="167.50" cy="87.50" r="1.4" fill="#c2262c"/>
<circle cx="176.30" cy="87.20" r="1.4" fill="#c2262c"/>
<circle cx="185.11" cy="87.20" r="1.4" fill="#c2262c"/>
<circle cx="193.92" cy="87.20" r="1.4" fill="#c2262c"/>
<circle cx="202.73" cy="86.70" r="1.4" fill="#c2262c"/>
<circle cx="211.53" cy="86.10" r="1.4" fill="#c2262c"/>
<circle cx="220.34" cy="85.60" r="1.4" fill="#c2262c"/>
<circle cx="229.15" cy="85.10" r="1.4" fill="#c2262c"/>
<circle cx="237.95" cy="84.80" r="1.4" fill="#c2262c"/>
<circle cx="246.76" cy="84.60" r="1.4" fill="#c2262c"/>
<circle cx="255.57" cy="84.50" r="1.4" fill="#c2262c"/>
<circle cx="264.37" cy="84.30" r="1.4" fill="#c2262c"/>
<circle cx="273.18" cy="84.20" r="1.4" fill="#c2262c"/>
<circle cx="281.99" cy="84.00" r="1.4" fill="#c2262c"/>
<circle cx="290.80" cy="83.80" r="1.4" fill="#c2262c"/>
<circle cx="299.60" cy="83.80" r="1.4" fill="#c2262c"/>
<circle cx="308.41" cy="83.50" r="1.4" fill="#c2262c"/>
<circle cx="317.22" cy="83.40" r="1.4" fill="#c2262c"/>
<circle cx="326.02" cy="83.40" r="1.4" fill="#c2262c"/>
<circle cx="334.83" cy="83.50" r="1.4" fill="#c2262c"/>
<circle cx="343.64" cy="83.00" r="1.4" fill="#c2262c"/>
<circle cx="352.45" cy="83.00" r="1.4" fill="#c2262c"/>
<circle cx="361.25" cy="83.00" r="1.4" fill="#c2262c"/>
<circle cx="370.06" cy="82.70" r="1.4" fill="#c2262c"/>
<circle cx="378.87" cy="82.10" r="1.4" fill="#c2262c"/>
<circle cx="387.67" cy="81.90" r="1.4" fill="#c2262c"/>
<circle cx="396.48" cy="81.70" r="1.4" fill="#c2262c"/>
<circle cx="405.29" cy="81.70" r="1.4" fill="#c2262c"/>
<circle cx="414.09" cy="81.60" r="1.4" fill="#c2262c"/>
<circle cx="422.90" cy="81.30" r="1.4" fill="#c2262c"/>
<circle cx="431.71" cy="81.20" r="1.4" fill="#c2262c"/>
<circle cx="440.52" cy="81.00" r="1.4" fill="#c2262c"/>
<line x1="19.60" x2="21.3" y1="80.9" y2="80.9" stroke="#333" stroke-width="0.6"/>
<text x="18.70" y="83.00" font-size="4.9" text-anchor="end" fill="#555555" >0.00</text>
<line x1="19.60" x2="21.3" y1="106.3" y2="106.3" stroke="#333" stroke-width="0.6"/>
<text x="18.70" y="108.40" font-size="4.9" text-anchor="end" fill="#555555" >-0.05</text>
<line x1="26.58" x2="26.58" y1="113.3" y2="115.00" stroke="#333" stroke-width="0.6"/>
<text transform="translate(29.48,117.70) rotate(-60)" font-size="5.0" text-anchor="end" fill="#444444">CD38</text>
<line x1="35.39" x2="35.39" y1="113.3" y2="115.00" stroke="#333" stroke-width="0.6"/>
<text transform="translate(38.29,117.70) rotate(-60)" font-size="5.0" text-anchor="end" fill="#444444">SMPDL3A</text>
<line x1="44.20" x2="44.20" y1="113.3" y2="115.00" stroke="#333" stroke-width="0.6"/>
<text transform="translate(47.10,117.70) rotate(-60)" font-size="5.0" text-anchor="end" fill="#444444">TNR</text>
<line x1="53.01" x2="53.01" y1="113.3" y2="115.00" stroke="#333" stroke-width="0.6"/>
<text transform="translate(55.91,117.70) rotate(-60)" font-size="5.0" text-anchor="end" fill="#444444">CCL11</text>
<line x1="61.81" x2="61.81" y1="113.3" y2="115.00" stroke="#333" stroke-width="0.6"/>
<text transform="translate(64.71,117.70) rotate(-60)" font-size="5.0" text-anchor="end" fill="#444444">CLMP</text>
<line x1="70.62" x2="70.62" y1="113.3" y2="115.00" stroke="#333" stroke-width="0.6"/>
<text transform="translate(73.52,117.70) rotate(-60)" font-size="5.0" text-anchor="end" fill="#444444">ADA2</text>
<line x1="79.43" x2="79.43" y1="113.3" y2="115.00" stroke="#333" stroke-width="0.6"/>
<text transform="translate(82.33,117.70) rotate(-60)" font-size="5.0" text-anchor="end" fill="#444444">ASGR1</text>
<line x1="88.23" x2="88.23" y1="113.3" y2="115.00" stroke="#333" stroke-width="0.6"/>
<text transform="translate(91.13,117.70) rotate(-60)" font-size="5.0" text-anchor="end" fill="#444444">GFRA1</text>
<line x1="97.04" x2="97.04" y1="113.3" y2="115.00" stroke="#333" stroke-width="0.6"/>
<text transform="translate(99.94,117.70) rotate(-60)" font-size="5.0" text-anchor="end" fill="#444444">OPCML</text>
<line x1="105.85" x2="105.85" y1="113.3" y2="115.00" stroke="#333" stroke-width="0.6"/>
<text transform="translate(108.75,117.70) rotate(-60)" font-size="5.0" text-anchor="end" fill="#444444">FGF23</text>
<line x1="114.65" x2="114.65" y1="113.3" y2="115.00" stroke="#333" stroke-width="0.6"/>
<text transform="translate(117.55,117.70) rotate(-60)" font-size="5.0" text-anchor="end" fill="#444444">SFRP1</text>
<line x1="123.46" x2="123.46" y1="113.3" y2="115.00" stroke="#333" stroke-width="0.6"/>
<text transform="translate(126.36,117.70) rotate(-60)" font-size="5.0" text-anchor="end" fill="#444444">FGFBP1</text>
<line x1="132.27" x2="132.27" y1="113.3" y2="115.00" stroke="#333" stroke-width="0.6"/>
<text transform="translate(135.17,117.70) rotate(-60)" font-size="5.0" text-anchor="end" fill="#444444">TXNDC15</text>
<line x1="141.08" x2="141.08" y1="113.3" y2="115.00" stroke="#333" stroke-width="0.6"/>
<text transform="translate(143.98,117.70) rotate(-60)" font-size="5.0" text-anchor="end" fill="#444444">SMOC1</text>
<line x1="149.88" x2="149.88" y1="113.3" y2="115.00" stroke="#333" stroke-width="0.6"/>
<text transform="translate(152.78,117.70) rotate(-60)" font-size="5.0" text-anchor="end" fill="#444444">TIMP1</text>
<line x1="158.69" x2="158.69" y1="113.3" y2="115.00" stroke="#333" stroke-width="0.6"/>
<text transform="translate(161.59,117.70) rotate(-60)" font-size="5.0" text-anchor="end" fill="#444444">IL18R1</text>
<line x1="167.50" x2="167.50" y1="113.3" y2="115.00" stroke="#333" stroke-width="0.6"/>
<text transform="translate(170.40,117.70) rotate(-60)" font-size="5.0" text-anchor="end" fill="#444444">ALCAM</text>
<line x1="176.30" x2="176.30" y1="113.3" y2="115.00" stroke="#333" stroke-width="0.6"/>
<text transform="translate(179.20,117.70) rotate(-60)" font-size="5.0" text-anchor="end" fill="#444444">SEMA3F</text>
<line x1="185.11" x2="185.11" y1="113.3" y2="115.00" stroke="#333" stroke-width="0.6"/>
<text transform="translate(188.01,117.70) rotate(-60)" font-size="5.0" text-anchor="end" fill="#444444">FCAR</text>
<line x1="193.92" x2="193.92" y1="113.3" y2="115.00" stroke="#333" stroke-width="0.6"/>
<text transform="translate(196.82,117.70) rotate(-60)" font-size="5.0" text-anchor="end" fill="#444444">BCAN</text>
<line x1="202.73" x2="202.73" y1="113.3" y2="115.00" stroke="#333" stroke-width="0.6"/>
<text transform="translate(205.63,117.70) rotate(-60)" font-size="5.0" text-anchor="end" fill="#444444">ANGPTL7</text>
<line x1="211.53" x2="211.53" y1="113.3" y2="115.00" stroke="#333" stroke-width="0.6"/>
<text transform="translate(214.43,117.70) rotate(-60)" font-size="5.0" text-anchor="end" fill="#444444">GAL</text>
<line x1="220.34" x2="220.34" y1="113.3" y2="115.00" stroke="#333" stroke-width="0.6"/>
<text transform="translate(223.24,117.70) rotate(-60)" font-size="5.0" text-anchor="end" fill="#444444">TNFRSF10C</text>
<line x1="229.15" x2="229.15" y1="113.3" y2="115.00" stroke="#333" stroke-width="0.6"/>
<text transform="translate(232.05,117.70) rotate(-60)" font-size="5.0" text-anchor="end" fill="#444444">KRT18</text>
<line x1="237.95" x2="237.95" y1="113.3" y2="115.00" stroke="#333" stroke-width="0.6"/>
<text transform="translate(240.85,117.70) rotate(-60)" font-size="5.0" text-anchor="end" fill="#444444">MAD1L1</text>
<line x1="246.76" x2="246.76" y1="113.3" y2="115.00" stroke="#333" stroke-width="0.6"/>
<text transform="translate(249.66,117.70) rotate(-60)" font-size="5.0" text-anchor="end" fill="#444444">FCRL6</text>
<line x1="255.57" x2="255.57" y1="113.3" y2="115.00" stroke="#333" stroke-width="0.6"/>
<text transform="translate(258.47,117.70) rotate(-60)" font-size="5.0" text-anchor="end" fill="#444444">IL1R1</text>
<line x1="264.37" x2="264.37" y1="113.3" y2="115.00" stroke="#333" stroke-width="0.6"/>
<text transform="translate(267.27,117.70) rotate(-60)" font-size="5.0" text-anchor="end" fill="#444444">DDAH1</text>
<line x1="273.18" x2="273.18" y1="113.3" y2="115.00" stroke="#333" stroke-width="0.6"/>
<text transform="translate(276.08,117.70) rotate(-60)" font-size="5.0" text-anchor="end" fill="#444444">KRT19</text>
<line x1="281.99" x2="281.99" y1="113.3" y2="115.00" stroke="#333" stroke-width="0.6"/>
<text transform="translate(284.89,117.70) rotate(-60)" font-size="5.0" text-anchor="end" fill="#444444">FOLR1</text>
<line x1="290.80" x2="290.80" y1="113.3" y2="115.00" stroke="#333" stroke-width="0.6"/>
<text transform="translate(293.70,117.70) rotate(-60)" font-size="5.0" text-anchor="end" fill="#444444">IL15RA</text>
<line x1="299.60" x2="299.60" y1="113.3" y2="115.00" stroke="#333" stroke-width="0.6"/>
<text transform="translate(302.50,117.70) rotate(-60)" font-size="5.0" text-anchor="end" fill="#444444">CAPG</text>
<line x1="308.41" x2="308.41" y1="113.3" y2="115.00" stroke="#333" stroke-width="0.6"/>
<text transform="translate(311.31,117.70) rotate(-60)" font-size="5.0" text-anchor="end" fill="#444444">GALNT10</text>
<line x1="317.22" x2="317.22" y1="113.3" y2="115.00" stroke="#333" stroke-width="0.6"/>
<text transform="translate(320.12,117.70) rotate(-60)" font-size="5.0" text-anchor="end" fill="#444444">RARRES2</text>
<line x1="326.02" x2="326.02" y1="113.3" y2="115.00" stroke="#333" stroke-width="0.6"/>
<text transform="translate(328.92,117.70) rotate(-60)" font-size="5.0" text-anchor="end" fill="#444444">CXCL13</text>
<line x1="334.83" x2="334.83" y1="113.3" y2="115.00" stroke="#333" stroke-width="0.6"/>
<text transform="translate(337.73,117.70) rotate(-60)" font-size="5.0" text-anchor="end" fill="#444444">FSTL1</text>
<line x1="343.64" x2="343.64" y1="113.3" y2="115.00" stroke="#333" stroke-width="0.6"/>
<text transform="translate(346.54,117.70) rotate(-60)" font-size="5.0" text-anchor="end" fill="#444444">SLITRK1</text>
<line x1="352.45" x2="352.45" y1="113.3" y2="115.00" stroke="#333" stroke-width="0.6"/>
<text transform="translate(355.35,117.70) rotate(-60)" font-size="5.0" text-anchor="end" fill="#444444">MME</text>
<line x1="361.25" x2="361.25" y1="113.3" y2="115.00" stroke="#333" stroke-width="0.6"/>
<text transform="translate(364.15,117.70) rotate(-60)" font-size="5.0" text-anchor="end" fill="#444444">ELOA</text>
<line x1="370.06" x2="370.06" y1="113.3" y2="115.00" stroke="#333" stroke-width="0.6"/>
<text transform="translate(372.96,117.70) rotate(-60)" font-size="5.0" text-anchor="end" fill="#444444">SLAMF8</text>
<line x1="378.87" x2="378.87" y1="113.3" y2="115.00" stroke="#333" stroke-width="0.6"/>
<text transform="translate(381.77,117.70) rotate(-60)" font-size="5.0" text-anchor="end" fill="#444444">TNFRSF11A</text>
<line x1="387.67" x2="387.67" y1="113.3" y2="115.00" stroke="#333" stroke-width="0.6"/>
<text transform="translate(390.57,117.70) rotate(-60)" font-size="5.0" text-anchor="end" fill="#444444">ADAMTS13</text>
<line x1="396.48" x2="396.48" y1="113.3" y2="115.00" stroke="#333" stroke-width="0.6"/>
<text transform="translate(399.38,117.70) rotate(-60)" font-size="5.0" text-anchor="end" fill="#444444">HEPH</text>
<line x1="405.29" x2="405.29" y1="113.3" y2="115.00" stroke="#333" stroke-width="0.6"/>
<text transform="translate(408.19,117.70) rotate(-60)" font-size="5.0" text-anchor="end" fill="#444444">MFGE8</text>
<line x1="414.09" x2="414.09" y1="113.3" y2="115.00" stroke="#333" stroke-width="0.6"/>
<text transform="translate(416.99,117.70) rotate(-60)" font-size="5.0" text-anchor="end" fill="#444444">HNMT</text>
<line x1="422.90" x2="422.90" y1="113.3" y2="115.00" stroke="#333" stroke-width="0.6"/>
<text transform="translate(425.80,117.70) rotate(-60)" font-size="5.0" text-anchor="end" fill="#444444">TNFRSF6B</text>
<line x1="431.71" x2="431.71" y1="113.3" y2="115.00" stroke="#333" stroke-width="0.6"/>
<text transform="translate(434.61,117.70) rotate(-60)" font-size="5.0" text-anchor="end" fill="#444444">CD300C</text>
<line x1="440.52" x2="440.52" y1="113.3" y2="115.00" stroke="#333" stroke-width="0.6"/>
<text transform="translate(443.42,117.70) rotate(-60)" font-size="5.0" text-anchor="end" fill="#444444">RNASE1</text>
<rect x="446.55" y="79.85" width="8.00" height="33.50" fill="#d99194" stroke="#6b4546" stroke-width="0.7"/>
<text transform="translate(448.95,96.20) rotate(90)" font-size="4.8" text-anchor="middle" fill="#1a1a1a">Negative</text>
<text transform="translate(5.35,63.70) rotate(-90)" font-size="6.0" text-anchor="middle" fill="#000" stroke="#000" stroke-width="0.08">weight</text>
<text x="599.55" y="24.80" font-size="8.45" text-anchor="middle" fill="#111" >GO-BP enrichment</text>
<rect x="555.6" y="29.3" width="88.90" height="87.90" fill="#fff"/>
<rect x="559.64" y="30.73" width="80.82" height="8.60" fill="#e0604f"/>
<text x="552.40" y="37.53" font-size="5.65" text-anchor="end" fill="#4d4d4d" >taxis</text>
<rect x="559.64" y="40.29" width="80.82" height="8.60" fill="#e0604f"/>
<text x="552.40" y="47.09" font-size="5.65" text-anchor="end" fill="#4d4d4d" >chemotaxis</text>
<rect x="559.64" y="49.84" width="75.43" height="8.60" fill="#e8a49c"/>
<text x="552.40" y="56.64" font-size="5.65" text-anchor="end" fill="#4d4d4d" >positive regulation of MAPK cascade</text>
<rect x="559.64" y="59.40" width="70.04" height="8.60" fill="#e3786c"/>
<text x="552.40" y="66.20" font-size="5.65" text-anchor="end" fill="#4d4d4d" >regulation of vasculature development</text>
<rect x="559.64" y="68.95" width="70.04" height="8.60" fill="#df5545"/>
<text x="552.40" y="75.75" font-size="5.65" text-anchor="end" fill="#4d4d4d" >cell chemotaxis</text>
<rect x="559.64" y="78.50" width="70.04" height="8.60" fill="#eef0f3"/>
<text x="552.40" y="85.30" font-size="5.65" text-anchor="end" fill="#4d4d4d" >ameboidal-type cell migration</text>
<rect x="559.64" y="88.06" width="64.65" height="8.60" fill="#eab0aa"/>
<text x="552.40" y="94.86" font-size="5.65" text-anchor="end" fill="#4d4d4d" >regulation of angiogenesis</text>
<rect x="559.64" y="97.61" width="64.65" height="8.60" fill="#da3327"/>
<text x="552.40" y="104.41" font-size="5.65" text-anchor="end" fill="#4d4d4d" >myeloid leukocyte migration</text>
<rect x="559.64" y="107.17" width="64.65" height="8.60" fill="#efdcdb"/>
<text x="552.40" y="113.97" font-size="5.65" text-anchor="end" fill="#4d4d4d" >leukocyte migration</text>
<rect x="555.6" y="29.3" width="88.90" height="87.90" fill="none" stroke="#6a6a6a" stroke-width="0.75"/>
<text x="559.64" y="124.30" font-size="4.9" text-anchor="middle" fill="#5e5e5e" >0</text>
<text x="586.58" y="124.30" font-size="4.9" text-anchor="middle" fill="#5e5e5e" >5</text>
<text x="613.52" y="124.30" font-size="4.9" text-anchor="middle" fill="#5e5e5e" >10</text>
<text x="640.46" y="124.30" font-size="4.9" text-anchor="middle" fill="#5e5e5e" >15</text>
<text x="600.15" y="131.20" font-size="6.3" text-anchor="middle" fill="#111" >Count</text>
<line x1="653.8" x2="656.4" y1="48.10" y2="48.10" stroke="#8a8a8a" stroke-width="0.6"/>
<text x="657.60" y="49.90" font-size="6.4" text-anchor="start" fill="#1a1a1a" >Log</text>
<text x="668.50" y="50.90" font-size="3.9" text-anchor="start" fill="#333" >10</text>
<text x="673.70" y="48.90" font-size="5.7" text-anchor="start" fill="#1a1a1a" font-weight="bold">P</text>
<text x="677.60" y="50.50" font-size="4.6" text-anchor="start" fill="#333" font-style="italic">adj</text>
<defs><linearGradient id="g140446482541632" x1="0" y1="0" x2="0" y2="1"><stop offset="0.000" stop-color="#da3a2d"/><stop offset="0.143" stop-color="#e25947"/><stop offset="0.286" stop-color="#e97461"/><stop offset="0.429" stop-color="#ee8e7c"/><stop offset="0.571" stop-color="#f2a697"/><stop offset="0.714" stop-color="#f3beb4"/><stop offset="0.857" stop-color="#f2d6d1"/><stop offset="1.000" stop-color="#eeeeef"/></linearGradient></defs>
<rect x="653.3" y="55.0" width="9.9" height="47.40" fill="url(#g140446482541632)"/>
<line x1="653.3" x2="655.3" y1="71.1" y2="71.1" stroke="#fff" stroke-width="0.4" opacity="0.35"/>
<line x1="661.1999999999999" x2="663.1999999999999" y1="71.1" y2="71.1" stroke="#fff" stroke-width="0.4" opacity="0.35"/>
<text x="666.40" y="73.10" font-size="4.9" text-anchor="start" fill="#4d4d4d" >4</text>
<line x1="653.3" x2="655.3" y1="88.9" y2="88.9" stroke="#fff" stroke-width="0.4" opacity="0.35"/>
<line x1="661.1999999999999" x2="663.1999999999999" y1="88.9" y2="88.9" stroke="#fff" stroke-width="0.4" opacity="0.35"/>
<text x="666.40" y="90.90" font-size="4.9" text-anchor="start" fill="#4d4d4d" >3</text>
<text x="233.50" y="152.60" font-size="9.5" text-anchor="middle" fill="#111" >Social deprivation</text>
<rect x="21.4" y="157.4" width="424.40" height="33.90" fill="#ffffff"/>
<line x1="21.4" x2="445.8" y1="163.30" y2="163.30" stroke="#f8f8f8" stroke-width="0.5"/>
<line x1="21.4" x2="445.8" y1="181.10" y2="181.10" stroke="#f8f8f8" stroke-width="0.5"/>
<line x1="21.4" x2="445.8" y1="172.20" y2="172.20" stroke="#f0f0f0" stroke-width="0.55"/>
<line x1="21.4" x2="445.8" y1="190.00" y2="190.00" stroke="#f0f0f0" stroke-width="0.55"/>
<line x1="24.35" x2="24.35" y1="157.4" y2="191.3" stroke="#f0f0f0" stroke-width="0.5"/>
<line x1="29.28" x2="29.28" y1="157.4" y2="191.3" stroke="#f0f0f0" stroke-width="0.5"/>
<line x1="34.20" x2="34.20" y1="157.4" y2="191.3" stroke="#f0f0f0" stroke-width="0.5"/>
<line x1="39.12" x2="39.12" y1="157.4" y2="191.3" stroke="#f0f0f0" stroke-width="0.5"/>
<line x1="44.05" x2="44.05" y1="157.4" y2="191.3" stroke="#f0f0f0" stroke-width="0.5"/>
<line x1="48.97" x2="48.97" y1="157.4" y2="191.3" stroke="#f0f0f0" stroke-width="0.5"/>
<line x1="53.89" x2="53.89" y1="157.4" y2="191.3" stroke="#f0f0f0" stroke-width="0.5"/>
<line x1="58.82" x2="58.82" y1="157.4" y2="191.3" stroke="#f0f0f0" stroke-width="0.5"/>
<line x1="63.74" x2="63.74" y1="157.4" y2="191.3" stroke="#f0f0f0" stroke-width="0.5"/>
<line x1="68.66" x2="68.66" y1="157.4" y2="191.3" stroke="#f0f0f0" stroke-width="0.5"/>
<line x1="73.59" x2="73.59" y1="157.4" y2="191.3" stroke="#f0f0f0" stroke-width="0.5"/>
<line x1="78.51" x2="78.51" y1="157.4" y2="191.3" stroke="#f0f0f0" stroke-width="0.5"/>
<line x1="83.44" x2="83.44" y1="157.4" y2="191.3" stroke="#f0f0f0" stroke-width="0.5"/>
<line x1="88.36" x2="88.36" y1="157.4" y2="191.3" stroke="#f0f0f0" stroke-width="0.5"/>
<line x1="93.28" x2="93.28" y1="157.4" y2="191.3" stroke="#f0f0f0" stroke-width="0.5"/>
<line x1="98.21" x2="98.21" y1="157.4" y2="191.3" stroke="#f0f0f0" stroke-width="0.5"/>
<line x1="103.13" x2="103.13" y1="157.4" y2="191.3" stroke="#f0f0f0" stroke-width="0.5"/>
<line x1="108.05" x2="108.05" y1="157.4" y2="191.3" stroke="#f0f0f0" stroke-width="0.5"/>
<line x1="112.98" x2="112.98" y1="157.4" y2="191.3" stroke="#f0f0f0" stroke-width="0.5"/>
<line x1="117.90" x2="117.90" y1="157.4" y2="191.3" stroke="#f0f0f0" stroke-width="0.5"/>
<line x1="122.82" x2="122.82" y1="157.4" y2="191.3" stroke="#f0f0f0" stroke-width="0.5"/>
<line x1="127.75" x2="127.75" y1="157.4" y2="191.3" stroke="#f0f0f0" stroke-width="0.5"/>
<line x1="132.67" x2="132.67" y1="157.4" y2="191.3" stroke="#f0f0f0" stroke-width="0.5"/>
<line x1="137.59" x2="137.59" y1="157.4" y2="191.3" stroke="#f0f0f0" stroke-width="0.5"/>
<line x1="142.52" x2="142.52" y1="157.4" y2="191.3" stroke="#f0f0f0" stroke-width="0.5"/>
<line x1="147.44" x2="147.44" y1="157.4" y2="191.3" stroke="#f0f0f0" stroke-width="0.5"/>
<line x1="152.36" x2="152.36" y1="157.4" y2="191.3" stroke="#f0f0f0" stroke-width="0.5"/>
<line x1="157.29" x2="157.29" y1="157.4" y2="191.3" stroke="#f0f0f0" stroke-width="0.5"/>
<line x1="162.21" x2="162.21" y1="157.4" y2="191.3" stroke="#f0f0f0" stroke-width="0.5"/>
<line x1="167.13" x2="167.13" y1="157.4" y2="191.3" stroke="#f0f0f0" stroke-width="0.5"/>
<line x1="172.06" x2="172.06" y1="157.4" y2="191.3" stroke="#f0f0f0" stroke-width="0.5"/>
<line x1="176.98" x2="176.98" y1="157.4" y2="191.3" stroke="#f0f0f0" stroke-width="0.5"/>
<line x1="181.90" x2="181.90" y1="157.4" y2="191.3" stroke="#f0f0f0" stroke-width="0.5"/>
<line x1="186.83" x2="186.83" y1="157.4" y2="191.3" stroke="#f0f0f0" stroke-width="0.5"/>
<line x1="191.75" x2="191.75" y1="157.4" y2="191.3" stroke="#f0f0f0" stroke-width="0.5"/>
<line x1="196.67" x2="196.67" y1="157.4" y2="191.3" stroke="#f0f0f0" stroke-width="0.5"/>
<line x1="201.60" x2="201.60" y1="157.4" y2="191.3" stroke="#f0f0f0" stroke-width="0.5"/>
<line x1="206.52" x2="206.52" y1="157.4" y2="191.3" stroke="#f0f0f0" stroke-width="0.5"/>
<line x1="211.44" x2="211.44" y1="157.4" y2="191.3" stroke="#f0f0f0" stroke-width="0.5"/>
<line x1="216.37" x2="216.37" y1="157.4" y2="191.3" stroke="#f0f0f0" stroke-width="0.5"/>
<line x1="221.29" x2="221.29" y1="157.4" y2="191.3" stroke="#f0f0f0" stroke-width="0.5"/>
<line x1="226.21" x2="226.21" y1="157.4" y2="191.3" stroke="#f0f0f0" stroke-width="0.5"/>
<line x1="231.14" x2="231.14" y1="157.4" y2="191.3" stroke="#f0f0f0" stroke-width="0.5"/>
<line x1="236.06" x2="236.06" y1="157.4" y2="191.3" stroke="#f0f0f0" stroke-width="0.5"/>
<line x1="240.99" x2="240.99" y1="157.4" y2="191.3" stroke="#f0f0f0" stroke-width="0.5"/>
<line x1="245.91" x2="245.91" y1="157.4" y2="191.3" stroke="#f0f0f0" stroke-width="0.5"/>
<line x1="250.83" x2="250.83" y1="157.4" y2="191.3" stroke="#f0f0f0" stroke-width="0.5"/>
<line x1="255.76" x2="255.76" y1="157.4" y2="191.3" stroke="#f0f0f0" stroke-width="0.5"/>
<line x1="260.68" x2="260.68" y1="157.4" y2="191.3" stroke="#f0f0f0" stroke-width="0.5"/>
<line x1="265.60" x2="265.60" y1="157.4" y2="191.3" stroke="#f0f0f0" stroke-width="0.5"/>
<line x1="270.53" x2="270.53" y1="157.4" y2="191.3" stroke="#f0f0f0" stroke-width="0.5"/>
<line x1="275.45" x2="275.45" y1="157.4" y2="191.3" stroke="#f0f0f0" stroke-width="0.5"/>
<line x1="280.37" x2="280.37" y1="157.4" y2="191.3" stroke="#f0f0f0" stroke-width="0.5"/>
<line x1="285.30" x2="285.30" y1="157.4" y2="191.3" stroke="#f0f0f0" stroke-width="0.5"/>
<line x1="290.22" x2="290.22" y1="157.4" y2="191.3" stroke="#f0f0f0" stroke-width="0.5"/>
<line x1="295.14" x2="295.14" y1="157.4" y2="191.3" stroke="#f0f0f0" stroke-width="0.5"/>
<line x1="300.07" x2="300.07" y1="157.4" y2="191.3" stroke="#f0f0f0" stroke-width="0.5"/>
<line x1="304.99" x2="304.99" y1="157.4" y2="191.3" stroke="#f0f0f0" stroke-width="0.5"/>
<line x1="309.91" x2="309.91" y1="157.4" y2="191.3" stroke="#f0f0f0" stroke-width="0.5"/>
<line x1="314.84" x2="314.84" y1="157.4" y2="191.3" stroke="#f0f0f0" stroke-width="0.5"/>
<line x1="319.76" x2="319.76" y1="157.4" y2="191.3" stroke="#f0f0f0" stroke-width="0.5"/>
<line x1="324.68" x2="324.68" y1="157.4" y2="191.3" stroke="#f0f0f0" stroke-width="0.5"/>
<line x1="329.61" x2="329.61" y1="157.4" y2="191.3" stroke="#f0f0f0" stroke-width="0.5"/>
<line x1="334.53" x2="334.53" y1="157.4" y2="191.3" stroke="#f0f0f0" stroke-width="0.5"/>
<line x1="339.45" x2="339.45" y1="157.4" y2="191.3" stroke="#f0f0f0" stroke-width="0.5"/>
<line x1="344.38" x2="344.38" y1="157.4" y2="191.3" stroke="#f0f0f0" stroke-width="0.5"/>
<line x1="349.30" x2="349.30" y1="157.4" y2="191.3" stroke="#f0f0f0" stroke-width="0.5"/>
<line x1="354.22" x2="354.22" y1="157.4" y2="191.3" stroke="#f0f0f0" stroke-width="0.5"/>
<line x1="359.15" x2="359.15" y1="157.4" y2="191.3" stroke="#f0f0f0" stroke-width="0.5"/>
<line x1="364.07" x2="364.07" y1="157.4" y2="191.3" stroke="#f0f0f0" stroke-width="0.5"/>
<line x1="368.99" x2="368.99" y1="157.4" y2="191.3" stroke="#f0f0f0" stroke-width="0.5"/>
<line x1="373.92" x2="373.92" y1="157.4" y2="191.3" stroke="#f0f0f0" stroke-width="0.5"/>
<line x1="378.84" x2="378.84" y1="157.4" y2="191.3" stroke="#f0f0f0" stroke-width="0.5"/>
<line x1="383.76" x2="383.76" y1="157.4" y2="191.3" stroke="#f0f0f0" stroke-width="0.5"/>
<line x1="388.69" x2="388.69" y1="157.4" y2="191.3" stroke="#f0f0f0" stroke-width="0.5"/>
<line x1="393.61" x2="393.61" y1="157.4" y2="191.3" stroke="#f0f0f0" stroke-width="0.5"/>
<line x1="398.54" x2="398.54" y1="157.4" y2="191.3" stroke="#f0f0f0" stroke-width="0.5"/>
<line x1="403.46" x2="403.46" y1="157.4" y2="191.3" stroke="#f0f0f0" stroke-width="0.5"/>
<line x1="408.38" x2="408.38" y1="157.4" y2="191.3" stroke="#f0f0f0" stroke-width="0.5"/>
<line x1="413.31" x2="413.31" y1="157.4" y2="191.3" stroke="#f0f0f0" stroke-width="0.5"/>
<line x1="418.23" x2="418.23" y1="157.4" y2="191.3" stroke="#f0f0f0" stroke-width="0.5"/>
<line x1="423.15" x2="423.15" y1="157.4" y2="191.3" stroke="#f0f0f0" stroke-width="0.5"/>
<line x1="428.08" x2="428.08" y1="157.4" y2="191.3" stroke="#f0f0f0" stroke-width="0.5"/>
<line x1="433.00" x2="433.00" y1="157.4" y2="191.3" stroke="#f0f0f0" stroke-width="0.5"/>
<line x1="437.92" x2="437.92" y1="157.4" y2="191.3" stroke="#f0f0f0" stroke-width="0.5"/>
<line x1="442.85" x2="442.85" y1="157.4" y2="191.3" stroke="#f0f0f0" stroke-width="0.5"/>
<rect x="21.4" y="157.4" width="424.40" height="33.90" fill="none" stroke="#d9d9d9" stroke-width="0.9"/>
<line x1="21.4" x2="21.4" y1="156.95000000000002" y2="191.75" stroke="#a0a0a0" stroke-width="0.9"/>
<line x1="21.4" x2="445.8" y1="191.3" y2="191.3" stroke="#a0a0a0" stroke-width="0.9"/>
<line x1="24.35" x2="24.35" y1="190.00" y2="189.60" stroke="#a884cc" stroke-width="0.85"/>
<line x1="29.28" x2="29.28" y1="190.00" y2="189.50" stroke="#a884cc" stroke-width="0.85"/>
<line x1="34.20" x2="34.20" y1="190.00" y2="189.39" stroke="#a884cc" stroke-width="0.85"/>
<line x1="39.12" x2="39.12" y1="190.00" y2="189.28" stroke="#d9c9e8" stroke-width="0.85"/>
<line x1="44.05" x2="44.05" y1="190.00" y2="189.18" stroke="#a884cc" stroke-width="0.85"/>
<line x1="48.97" x2="48.97" y1="190.00" y2="189.07" stroke="#d9c9e8" stroke-width="0.85"/>
<line x1="53.89" x2="53.89" y1="190.00" y2="188.97" stroke="#a884cc" stroke-width="0.85"/>
<line x1="58.82" x2="58.82" y1="190.00" y2="188.87" stroke="#a884cc" stroke-width="0.85"/>
<line x1="63.74" x2="63.74" y1="190.00" y2="188.76" stroke="#d9c9e8" stroke-width="0.85"/>
<line x1="68.66" x2="68.66" y1="190.00" y2="188.66" stroke="#a884cc" stroke-width="0.85"/>
<line x1="73.59" x2="73.59" y1="190.00" y2="188.55" stroke="#a884cc" stroke-width="0.85"/>
<line x1="78.51" x2="78.51" y1="190.00" y2="188.44" stroke="#d9c9e8" stroke-width="0.85"/>
<line x1="83.44" x2="83.44" y1="190.00" y2="188.34" stroke="#d9c9e8" stroke-width="0.85"/>
<line x1="88.36" x2="88.36" y1="190.00" y2="188.23" stroke="#d9c9e8" stroke-width="0.85"/>
<line x1="93.28" x2="93.28" y1="190.00" y2="188.13" stroke="#d9c9e8" stroke-width="0.85"/>
<line x1="98.21" x2="98.21" y1="190.00" y2="188.03" stroke="#a884cc" stroke-width="0.85"/>
<line x1="103.13" x2="103.13" y1="190.00" y2="187.92" stroke="#a884cc" stroke-width="0.85"/>
<line x1="108.05" x2="108.05" y1="190.00" y2="187.81" stroke="#a884cc" stroke-width="0.85"/>
<line x1="112.98" x2="112.98" y1="190.00" y2="187.71" stroke="#a884cc" stroke-width="0.85"/>
<line x1="117.90" x2="117.90" y1="190.00" y2="187.60" stroke="#d9c9e8" stroke-width="0.85"/>
<line x1="122.82" x2="122.82" y1="190.00" y2="187.50" stroke="#a884cc" stroke-width="0.85"/>
<line x1="127.75" x2="127.75" y1="190.00" y2="187.38" stroke="#d9c9e8" stroke-width="0.85"/>
<line x1="132.67" x2="132.67" y1="190.00" y2="187.25" stroke="#d9c9e8" stroke-width="0.85"/>
<line x1="137.59" x2="137.59" y1="190.00" y2="187.13" stroke="#a884cc" stroke-width="0.85"/>
<line x1="142.52" x2="142.52" y1="190.00" y2="187.01" stroke="#a884cc" stroke-width="0.85"/>
<line x1="147.44" x2="147.44" y1="190.00" y2="186.89" stroke="#a884cc" stroke-width="0.85"/>
<line x1="152.36" x2="152.36" y1="190.00" y2="186.76" stroke="#a884cc" stroke-width="0.85"/>
<line x1="157.29" x2="157.29" y1="190.00" y2="186.64" stroke="#d9c9e8" stroke-width="0.85"/>
<line x1="162.21" x2="162.21" y1="190.00" y2="186.52" stroke="#a884cc" stroke-width="0.85"/>
<line x1="167.13" x2="167.13" y1="190.00" y2="186.40" stroke="#a884cc" stroke-width="0.85"/>
<line x1="172.06" x2="172.06" y1="190.00" y2="186.27" stroke="#a884cc" stroke-width="0.85"/>
<line x1="176.98" x2="176.98" y1="190.00" y2="186.15" stroke="#d9c9e8" stroke-width="0.85"/>
<line x1="181.90" x2="181.90" y1="190.00" y2="186.03" stroke="#a884cc" stroke-width="0.85"/>
<line x1="186.83" x2="186.83" y1="190.00" y2="185.90" stroke="#a884cc" stroke-width="0.85"/>
<line x1="191.75" x2="191.75" y1="190.00" y2="185.78" stroke="#a884cc" stroke-width="0.85"/>
<line x1="196.67" x2="196.67" y1="190.00" y2="185.66" stroke="#a884cc" stroke-width="0.85"/>
<line x1="201.60" x2="201.60" y1="190.00" y2="185.54" stroke="#d9c9e8" stroke-width="0.85"/>
<line x1="206.52" x2="206.52" y1="190.00" y2="185.41" stroke="#d9c9e8" stroke-width="0.85"/>
<line x1="211.44" x2="211.44" y1="190.00" y2="185.29" stroke="#d9c9e8" stroke-width="0.85"/>
<line x1="216.37" x2="216.37" y1="190.00" y2="185.17" stroke="#a884cc" stroke-width="0.85"/>
<line x1="221.29" x2="221.29" y1="190.00" y2="185.05" stroke="#a884cc" stroke-width="0.85"/>
<line x1="226.21" x2="226.21" y1="190.00" y2="184.92" stroke="#d9c9e8" stroke-width="0.85"/>
<line x1="231.14" x2="231.14" y1="190.00" y2="184.80" stroke="#d9c9e8" stroke-width="0.85"/>
<line x1="236.06" x2="236.06" y1="190.00" y2="184.71" stroke="#a884cc" stroke-width="0.85"/>
<line x1="240.99" x2="240.99" y1="190.00" y2="184.62" stroke="#d9c9e8" stroke-width="0.85"/>
<line x1="245.91" x2="245.91" y1="190.00" y2="184.53" stroke="#a884cc" stroke-width="0.85"/>
<line x1="250.83" x2="250.83" y1="190.00" y2="184.44" stroke="#a884cc" stroke-width="0.85"/>
<line x1="255.76" x2="255.76" y1="190.00" y2="184.35" stroke="#a884cc" stroke-width="0.85"/>
<line x1="260.68" x2="260.68" y1="190.00" y2="184.26" stroke="#d9c9e8" stroke-width="0.85"/>
<line x1="265.60" x2="265.60" y1="190.00" y2="184.17" stroke="#d9c9e8" stroke-width="0.85"/>
<line x1="270.53" x2="270.53" y1="190.00" y2="184.08" stroke="#a884cc" stroke-width="0.85"/>
<line x1="275.45" x2="275.45" y1="190.00" y2="183.99" stroke="#a884cc" stroke-width="0.85"/>
<line x1="280.37" x2="280.37" y1="190.00" y2="183.90" stroke="#d9c9e8" stroke-width="0.85"/>
<line x1="285.30" x2="285.30" y1="190.00" y2="183.80" stroke="#a884cc" stroke-width="0.85"/>
<line x1="290.22" x2="290.22" y1="190.00" y2="183.71" stroke="#a884cc" stroke-width="0.85"/>
<line x1="295.14" x2="295.14" y1="190.00" y2="183.62" stroke="#d9c9e8" stroke-width="0.85"/>
<line x1="300.07" x2="300.07" y1="190.00" y2="183.53" stroke="#a884cc" stroke-width="0.85"/>
<line x1="304.99" x2="304.99" y1="190.00" y2="183.44" stroke="#a884cc" stroke-width="0.85"/>
<line x1="309.91" x2="309.91" y1="190.00" y2="183.35" stroke="#a884cc" stroke-width="0.85"/>
<line x1="314.84" x2="314.84" y1="190.00" y2="183.26" stroke="#d9c9e8" stroke-width="0.85"/>
<line x1="319.76" x2="319.76" y1="190.00" y2="183.17" stroke="#a884cc" stroke-width="0.85"/>
<line x1="324.68" x2="324.68" y1="190.00" y2="183.08" stroke="#a884cc" stroke-width="0.85"/>
<line x1="329.61" x2="329.61" y1="190.00" y2="182.99" stroke="#d9c9e8" stroke-width="0.85"/>
<line x1="334.53" x2="334.53" y1="190.00" y2="182.90" stroke="#a884cc" stroke-width="0.85"/>
<line x1="339.45" x2="339.45" y1="190.00" y2="182.80" stroke="#a884cc" stroke-width="0.85"/>
<line x1="344.38" x2="344.38" y1="190.00" y2="182.80" stroke="#a884cc" stroke-width="0.85"/>
<line x1="349.30" x2="349.30" y1="190.00" y2="182.60" stroke="#a884cc" stroke-width="0.85"/>
<line x1="354.22" x2="354.22" y1="190.00" y2="182.40" stroke="#d9c9e8" stroke-width="0.85"/>
<line x1="359.15" x2="359.15" y1="190.00" y2="182.10" stroke="#d9c9e8" stroke-width="0.85"/>
<line x1="364.07" x2="364.07" y1="190.00" y2="181.90" stroke="#a884cc" stroke-width="0.85"/>
<line x1="368.99" x2="368.99" y1="190.00" y2="181.70" stroke="#d9c9e8" stroke-width="0.85"/>
<line x1="373.92" x2="373.92" y1="190.00" y2="181.40" stroke="#a884cc" stroke-width="0.85"/>
<line x1="378.84" x2="378.84" y1="190.00" y2="181.00" stroke="#d9c9e8" stroke-width="0.85"/>
<line x1="383.76" x2="383.76" y1="190.00" y2="180.30" stroke="#a884cc" stroke-width="0.85"/>
<line x1="388.69" x2="388.69" y1="190.00" y2="179.10" stroke="#a884cc" stroke-width="0.85"/>
<line x1="393.61" x2="393.61" y1="190.00" y2="178.00" stroke="#a884cc" stroke-width="0.85"/>
<line x1="398.54" x2="398.54" y1="190.00" y2="177.70" stroke="#d9c9e8" stroke-width="0.85"/>
<line x1="403.46" x2="403.46" y1="190.00" y2="177.50" stroke="#a884cc" stroke-width="0.85"/>
<line x1="408.38" x2="408.38" y1="190.00" y2="175.90" stroke="#a884cc" stroke-width="0.85"/>
<line x1="413.31" x2="413.31" y1="190.00" y2="175.10" stroke="#a884cc" stroke-width="0.85"/>
<line x1="418.23" x2="418.23" y1="190.00" y2="174.40" stroke="#a884cc" stroke-width="0.85"/>
<line x1="423.15" x2="423.15" y1="190.00" y2="174.00" stroke="#a884cc" stroke-width="0.85"/>
<line x1="428.08" x2="428.08" y1="190.00" y2="168.90" stroke="#a884cc" stroke-width="0.85"/>
<line x1="433.00" x2="433.00" y1="190.00" y2="168.00" stroke="#a884cc" stroke-width="0.85"/>
<line x1="437.92" x2="437.92" y1="190.00" y2="167.50" stroke="#a884cc" stroke-width="0.85"/>
<line x1="442.85" x2="442.85" y1="190.00" y2="159.10" stroke="#a884cc" stroke-width="0.85"/>
<circle cx="24.35" cy="189.60" r="1.4" fill="#a47ecb"/>
<circle cx="29.28" cy="189.50" r="1.4" fill="#a47ecb"/>
<circle cx="34.20" cy="189.39" r="1.4" fill="#a47ecb"/>
<circle cx="39.12" cy="189.28" r="1.4" fill="#a47ecb"/>
<circle cx="44.05" cy="189.18" r="1.4" fill="#a47ecb"/>
<circle cx="48.97" cy="189.07" r="1.4" fill="#a47ecb"/>
<circle cx="53.89" cy="188.97" r="1.4" fill="#a47ecb"/>
<circle cx="58.82" cy="188.87" r="1.4" fill="#a47ecb"/>
<circle cx="63.74" cy="188.76" r="1.4" fill="#a47ecb"/>
<circle cx="68.66" cy="188.66" r="1.4" fill="#a47ecb"/>
<circle cx="73.59" cy="188.55" r="1.4" fill="#a47ecb"/>
<circle cx="78.51" cy="188.44" r="1.4" fill="#a47ecb"/>
<circle cx="83.44" cy="188.34" r="1.4" fill="#a47ecb"/>
<circle cx="88.36" cy="188.23" r="1.4" fill="#a47ecb"/>
<circle cx="93.28" cy="188.13" r="1.4" fill="#a47ecb"/>
<circle cx="98.21" cy="188.03" r="1.4" fill="#a47ecb"/>
<circle cx="103.13" cy="187.92" r="1.4" fill="#a47ecb"/>
<circle cx="108.05" cy="187.81" r="1.4" fill="#a47ecb"/>
<circle cx="112.98" cy="187.71" r="1.4" fill="#a47ecb"/>
<circle cx="117.90" cy="187.60" r="1.4" fill="#a47ecb"/>
<circle cx="122.82" cy="187.50" r="1.4" fill="#a47ecb"/>
<circle cx="127.75" cy="187.38" r="1.4" fill="#a47ecb"/>
<circle cx="132.67" cy="187.25" r="1.4" fill="#a47ecb"/>
<circle cx="137.59" cy="187.13" r="1.4" fill="#a47ecb"/>
<circle cx="142.52" cy="187.01" r="1.4" fill="#a47ecb"/>
<circle cx="147.44" cy="186.89" r="1.4" fill="#a47ecb"/>
<circle cx="152.36" cy="186.76" r="1.4" fill="#a47ecb"/>
<circle cx="157.29" cy="186.64" r="1.4" fill="#a47ecb"/>
<circle cx="162.21" cy="186.52" r="1.4" fill="#a47ecb"/>
<circle cx="167.13" cy="186.40" r="1.4" fill="#a47ecb"/>
<circle cx="172.06" cy="186.27" r="1.4" fill="#a47ecb"/>
<circle cx="176.98" cy="186.15" r="1.4" fill="#a47ecb"/>
<circle cx="181.90" cy="186.03" r="1.4" fill="#a47ecb"/>
<circle cx="186.83" cy="185.90" r="1.4" fill="#a47ecb"/>
<circle cx="191.75" cy="185.78" r="1.4" fill="#a47ecb"/>
<circle cx="196.67" cy="185.66" r="1.4" fill="#a47ecb"/>
<circle cx="201.60" cy="185.54" r="1.4" fill="#a47ecb"/>
<circle cx="206.52" cy="185.41" r="1.4" fill="#a47ecb"/>
<circle cx="211.44" cy="185.29" r="1.4" fill="#a47ecb"/>
<circle cx="216.37" cy="185.17" r="1.4" fill="#a47ecb"/>
<circle cx="221.29" cy="185.05" r="1.4" fill="#a47ecb"/>
<circle cx="226.21" cy="184.92" r="1.4" fill="#a47ecb"/>
<circle cx="231.14" cy="184.80" r="1.4" fill="#a47ecb"/>
<circle cx="236.06" cy="184.71" r="1.4" fill="#a47ecb"/>
<circle cx="240.99" cy="184.62" r="1.4" fill="#a47ecb"/>
<circle cx="245.91" cy="184.53" r="1.4" fill="#a47ecb"/>
<circle cx="250.83" cy="184.44" r="1.4" fill="#a47ecb"/>
<circle cx="255.76" cy="184.35" r="1.4" fill="#a47ecb"/>
<circle cx="260.68" cy="184.26" r="1.4" fill="#a47ecb"/>
<circle cx="265.60" cy="184.17" r="1.4" fill="#a47ecb"/>
<circle cx="270.53" cy="184.08" r="1.4" fill="#a47ecb"/>
<circle cx="275.45" cy="183.99" r="1.4" fill="#a47ecb"/>
<circle cx="280.37" cy="183.90" r="1.4" fill="#a47ecb"/>
<circle cx="285.30" cy="183.80" r="1.4" fill="#a47ecb"/>
<circle cx="290.22" cy="183.71" r="1.4" fill="#a47ecb"/>
<circle cx="295.14" cy="183.62" r="1.4" fill="#a47ecb"/>
<circle cx="300.07" cy="183.53" r="1.4" fill="#a47ecb"/>
<circle cx="304.99" cy="183.44" r="1.4" fill="#a47ecb"/>
<circle cx="309.91" cy="183.35" r="1.4" fill="#a47ecb"/>
<circle cx="314.84" cy="183.26" r="1.4" fill="#a47ecb"/>
<circle cx="319.76" cy="183.17" r="1.4" fill="#a47ecb"/>
<circle cx="324.68" cy="183.08" r="1.4" fill="#a47ecb"/>
<circle cx="329.61" cy="182.99" r="1.4" fill="#a47ecb"/>
<circle cx="334.53" cy="182.90" r="1.4" fill="#a47ecb"/>
<circle cx="339.45" cy="182.80" r="1.4" fill="#a47ecb"/>
<circle cx="344.38" cy="182.80" r="1.4" fill="#a47ecb"/>
<circle cx="349.30" cy="182.60" r="1.4" fill="#a47ecb"/>
<circle cx="354.22" cy="182.40" r="1.4" fill="#a47ecb"/>
<circle cx="359.15" cy="182.10" r="1.4" fill="#a47ecb"/>
<circle cx="364.07" cy="181.90" r="1.4" fill="#a47ecb"/>
<circle cx="368.99" cy="181.70" r="1.4" fill="#a47ecb"/>
<circle cx="373.92" cy="181.40" r="1.4" fill="#a47ecb"/>
<circle cx="378.84" cy="181.00" r="1.4" fill="#a47ecb"/>
<circle cx="383.76" cy="180.30" r="1.4" fill="#a47ecb"/>
<circle cx="388.69" cy="179.10" r="1.4" fill="#a47ecb"/>
<circle cx="393.61" cy="178.00" r="1.4" fill="#a47ecb"/>
<circle cx="398.54" cy="177.70" r="1.4" fill="#a47ecb"/>
<circle cx="403.46" cy="177.50" r="1.4" fill="#a47ecb"/>
<circle cx="408.38" cy="175.90" r="1.4" fill="#a47ecb"/>
<circle cx="413.31" cy="175.10" r="1.4" fill="#a47ecb"/>
<circle cx="418.23" cy="174.40" r="1.4" fill="#a47ecb"/>
<circle cx="423.15" cy="174.00" r="1.4" fill="#a47ecb"/>
<circle cx="428.08" cy="168.90" r="1.4" fill="#a47ecb"/>
<circle cx="433.00" cy="168.00" r="1.4" fill="#a47ecb"/>
<circle cx="437.92" cy="167.50" r="1.4" fill="#a47ecb"/>
<circle cx="442.85" cy="159.10" r="1.4" fill="#a47ecb"/>
<line x1="19.70" x2="21.4" y1="172.2" y2="172.2" stroke="#333" stroke-width="0.6"/>
<text x="18.80" y="174.30" font-size="4.9" text-anchor="end" fill="#555555" >0.05</text>
<line x1="19.70" x2="21.4" y1="190.0" y2="190.0" stroke="#333" stroke-width="0.6"/>
<text x="18.80" y="192.10" font-size="4.9" text-anchor="end" fill="#555555" >0.00</text>
<line x1="24.35" x2="24.35" y1="191.3" y2="193.00" stroke="#333" stroke-width="0.6"/>
<text transform="translate(27.25,195.70) rotate(-60)" font-size="5.0" text-anchor="end" fill="#444444">HYAL1</text>
<line x1="29.28" x2="29.28" y1="191.3" y2="193.00" stroke="#333" stroke-width="0.6"/>
<text transform="translate(32.18,195.70) rotate(-60)" font-size="5.0" text-anchor="end" fill="#444444">GPR37</text>
<line x1="34.20" x2="34.20" y1="191.3" y2="193.00" stroke="#333" stroke-width="0.6"/>
<text transform="translate(37.10,195.70) rotate(-60)" font-size="5.0" text-anchor="end" fill="#444444">ENG</text>
<line x1="39.12" x2="39.12" y1="191.3" y2="193.00" stroke="#333" stroke-width="0.6"/>
<text transform="translate(42.02,195.70) rotate(-60)" font-size="5.0" text-anchor="end" fill="#444444">B3GNT7</text>
<line x1="44.05" x2="44.05" y1="191.3" y2="193.00" stroke="#333" stroke-width="0.6"/>
<text transform="translate(46.95,195.70) rotate(-60)" font-size="5.0" text-anchor="end" fill="#444444">CEACAM6</text>
<line x1="48.97" x2="48.97" y1="191.3" y2="193.00" stroke="#333" stroke-width="0.6"/>
<text transform="translate(51.87,195.70) rotate(-60)" font-size="5.0" text-anchor="end" fill="#444444">IL17C</text>
<line x1="53.89" x2="53.89" y1="191.3" y2="193.00" stroke="#333" stroke-width="0.6"/>
<text transform="translate(56.79,195.70) rotate(-60)" font-size="5.0" text-anchor="end" fill="#444444">SERPING1</text>
<line x1="58.82" x2="58.82" y1="191.3" y2="193.00" stroke="#333" stroke-width="0.6"/>
<text transform="translate(61.72,195.70) rotate(-60)" font-size="5.0" text-anchor="end" fill="#444444">SCRG1</text>
<line x1="63.74" x2="63.74" y1="191.3" y2="193.00" stroke="#333" stroke-width="0.6"/>
<text transform="translate(66.64,195.70) rotate(-60)" font-size="5.0" text-anchor="end" fill="#444444">STC1</text>
<line x1="68.66" x2="68.66" y1="191.3" y2="193.00" stroke="#333" stroke-width="0.6"/>
<text transform="translate(71.56,195.70) rotate(-60)" font-size="5.0" text-anchor="end" fill="#444444">IL1RL1</text>
<line x1="73.59" x2="73.59" y1="191.3" y2="193.00" stroke="#333" stroke-width="0.6"/>
<text transform="translate(76.49,195.70) rotate(-60)" font-size="5.0" text-anchor="end" fill="#444444">ST6GAL2</text>
<line x1="78.51" x2="78.51" y1="191.3" y2="193.00" stroke="#333" stroke-width="0.6"/>
<text transform="translate(81.41,195.70) rotate(-60)" font-size="5.0" text-anchor="end" fill="#444444">IGFBP2</text>
<line x1="83.44" x2="83.44" y1="191.3" y2="193.00" stroke="#333" stroke-width="0.6"/>
<text transform="translate(86.34,195.70) rotate(-60)" font-size="5.0" text-anchor="end" fill="#444444">CD163</text>
<line x1="88.36" x2="88.36" y1="191.3" y2="193.00" stroke="#333" stroke-width="0.6"/>
<text transform="translate(91.26,195.70) rotate(-60)" font-size="5.0" text-anchor="end" fill="#444444">ITGAV</text>
<line x1="93.28" x2="93.28" y1="191.3" y2="193.00" stroke="#333" stroke-width="0.6"/>
<text transform="translate(96.18,195.70) rotate(-60)" font-size="5.0" text-anchor="end" fill="#444444">ENAH</text>
<line x1="98.21" x2="98.21" y1="191.3" y2="193.00" stroke="#333" stroke-width="0.6"/>
<text transform="translate(101.11,195.70) rotate(-60)" font-size="5.0" text-anchor="end" fill="#444444">RARRES2</text>
<line x1="103.13" x2="103.13" y1="191.3" y2="193.00" stroke="#333" stroke-width="0.6"/>
<text transform="translate(106.03,195.70) rotate(-60)" font-size="5.0" text-anchor="end" fill="#444444">SPINT3</text>
<line x1="108.05" x2="108.05" y1="191.3" y2="193.00" stroke="#333" stroke-width="0.6"/>
<text transform="translate(110.95,195.70) rotate(-60)" font-size="5.0" text-anchor="end" fill="#444444">CEACAM5</text>
<line x1="112.98" x2="112.98" y1="191.3" y2="193.00" stroke="#333" stroke-width="0.6"/>
<text transform="translate(115.88,195.70) rotate(-60)" font-size="5.0" text-anchor="end" fill="#444444">OPCML</text>
<line x1="117.90" x2="117.90" y1="191.3" y2="193.00" stroke="#333" stroke-width="0.6"/>
<text transform="translate(120.80,195.70) rotate(-60)" font-size="5.0" text-anchor="end" fill="#444444">IL1R1</text>
<line x1="122.82" x2="122.82" y1="191.3" y2="193.00" stroke="#333" stroke-width="0.6"/>
<text transform="translate(125.72,195.70) rotate(-60)" font-size="5.0" text-anchor="end" fill="#444444">MSLN</text>
<line x1="127.75" x2="127.75" y1="191.3" y2="193.00" stroke="#333" stroke-width="0.6"/>
<text transform="translate(130.65,195.70) rotate(-60)" font-size="5.0" text-anchor="end" fill="#444444">FAM3C</text>
<line x1="132.67" x2="132.67" y1="191.3" y2="193.00" stroke="#333" stroke-width="0.6"/>
<text transform="translate(135.57,195.70) rotate(-60)" font-size="5.0" text-anchor="end" fill="#444444">ALCAM</text>
<line x1="137.59" x2="137.59" y1="191.3" y2="193.00" stroke="#333" stroke-width="0.6"/>
<text transform="translate(140.49,195.70) rotate(-60)" font-size="5.0" text-anchor="end" fill="#444444">TNFRSF11A</text>
<line x1="142.52" x2="142.52" y1="191.3" y2="193.00" stroke="#333" stroke-width="0.6"/>
<text transform="translate(145.42,195.70) rotate(-60)" font-size="5.0" text-anchor="end" fill="#444444">IGFBP4</text>
<line x1="147.44" x2="147.44" y1="191.3" y2="193.00" stroke="#333" stroke-width="0.6"/>
<text transform="translate(150.34,195.70) rotate(-60)" font-size="5.0" text-anchor="end" fill="#444444">GDF15</text>
<line x1="152.36" x2="152.36" y1="191.3" y2="193.00" stroke="#333" stroke-width="0.6"/>
<text transform="translate(155.26,195.70) rotate(-60)" font-size="5.0" text-anchor="end" fill="#444444">CEACAM6</text>
<line x1="157.29" x2="157.29" y1="191.3" y2="193.00" stroke="#333" stroke-width="0.6"/>
<text transform="translate(160.19,195.70) rotate(-60)" font-size="5.0" text-anchor="end" fill="#444444">ANGPT2</text>
<line x1="162.21" x2="162.21" y1="191.3" y2="193.00" stroke="#333" stroke-width="0.6"/>
<text transform="translate(165.11,195.70) rotate(-60)" font-size="5.0" text-anchor="end" fill="#444444">SLITRK1</text>
<line x1="167.13" x2="167.13" y1="191.3" y2="193.00" stroke="#333" stroke-width="0.6"/>
<text transform="translate(170.03,195.70) rotate(-60)" font-size="5.0" text-anchor="end" fill="#444444">FGF23</text>
<line x1="172.06" x2="172.06" y1="191.3" y2="193.00" stroke="#333" stroke-width="0.6"/>
<text transform="translate(174.96,195.70) rotate(-60)" font-size="5.0" text-anchor="end" fill="#444444">PLAUR</text>
<line x1="176.98" x2="176.98" y1="191.3" y2="193.00" stroke="#333" stroke-width="0.6"/>
<text transform="translate(179.88,195.70) rotate(-60)" font-size="5.0" text-anchor="end" fill="#444444">FABP4</text>
<line x1="181.90" x2="181.90" y1="191.3" y2="193.00" stroke="#333" stroke-width="0.6"/>
<text transform="translate(184.80,195.70) rotate(-60)" font-size="5.0" text-anchor="end" fill="#444444">LILRA5</text>
<line x1="186.83" x2="186.83" y1="191.3" y2="193.00" stroke="#333" stroke-width="0.6"/>
<text transform="translate(189.73,195.70) rotate(-60)" font-size="5.0" text-anchor="end" fill="#444444">TFF1</text>
<line x1="191.75" x2="191.75" y1="191.3" y2="193.00" stroke="#333" stroke-width="0.6"/>
<text transform="translate(194.65,195.70) rotate(-60)" font-size="5.0" text-anchor="end" fill="#444444">TNFSF13</text>
<line x1="196.67" x2="196.67" y1="191.3" y2="193.00" stroke="#333" stroke-width="0.6"/>
<text transform="translate(199.57,195.70) rotate(-60)" font-size="5.0" text-anchor="end" fill="#444444">OSMR</text>
<line x1="201.60" x2="201.60" y1="191.3" y2="193.00" stroke="#333" stroke-width="0.6"/>
<text transform="translate(204.50,195.70) rotate(-60)" font-size="5.0" text-anchor="end" fill="#444444">TXNDC15</text>
<line x1="206.52" x2="206.52" y1="191.3" y2="193.00" stroke="#333" stroke-width="0.6"/>
<text transform="translate(209.42,195.70) rotate(-60)" font-size="5.0" text-anchor="end" fill="#444444">FAM3B</text>
<line x1="211.44" x2="211.44" y1="191.3" y2="193.00" stroke="#333" stroke-width="0.6"/>
<text transform="translate(214.34,195.70) rotate(-60)" font-size="5.0" text-anchor="end" fill="#444444">ENG</text>
<line x1="216.37" x2="216.37" y1="191.3" y2="193.00" stroke="#333" stroke-width="0.6"/>
<text transform="translate(219.27,195.70) rotate(-60)" font-size="5.0" text-anchor="end" fill="#444444">IGFBP7</text>
<line x1="221.29" x2="221.29" y1="191.3" y2="193.00" stroke="#333" stroke-width="0.6"/>
<text transform="translate(224.19,195.70) rotate(-60)" font-size="5.0" text-anchor="end" fill="#444444">GALNT10</text>
<line x1="226.21" x2="226.21" y1="191.3" y2="193.00" stroke="#333" stroke-width="0.6"/>
<text transform="translate(229.11,195.70) rotate(-60)" font-size="5.0" text-anchor="end" fill="#444444">SERPING1</text>
<line x1="231.14" x2="231.14" y1="191.3" y2="193.00" stroke="#333" stroke-width="0.6"/>
<text transform="translate(234.04,195.70) rotate(-60)" font-size="5.0" text-anchor="end" fill="#444444">SOD2</text>
<line x1="236.06" x2="236.06" y1="191.3" y2="193.00" stroke="#333" stroke-width="0.6"/>
<text transform="translate(238.96,195.70) rotate(-60)" font-size="5.0" text-anchor="end" fill="#444444">CHI3L1</text>
<line x1="240.99" x2="240.99" y1="191.3" y2="193.00" stroke="#333" stroke-width="0.6"/>
<text transform="translate(243.89,195.70) rotate(-60)" font-size="5.0" text-anchor="end" fill="#444444">SPP1</text>
<line x1="245.91" x2="245.91" y1="191.3" y2="193.00" stroke="#333" stroke-width="0.6"/>
<text transform="translate(248.81,195.70) rotate(-60)" font-size="5.0" text-anchor="end" fill="#444444">LGALS4</text>
<line x1="250.83" x2="250.83" y1="191.3" y2="193.00" stroke="#333" stroke-width="0.6"/>
<text transform="translate(253.73,195.70) rotate(-60)" font-size="5.0" text-anchor="end" fill="#444444">TNFRSF6B</text>
<line x1="255.76" x2="255.76" y1="191.3" y2="193.00" stroke="#333" stroke-width="0.6"/>
<text transform="translate(258.66,195.70) rotate(-60)" font-size="5.0" text-anchor="end" fill="#444444">CDCP1</text>
<line x1="260.68" x2="260.68" y1="191.3" y2="193.00" stroke="#333" stroke-width="0.6"/>
<text transform="translate(263.58,195.70) rotate(-60)" font-size="5.0" text-anchor="end" fill="#444444">PTN</text>
<line x1="265.60" x2="265.60" y1="191.3" y2="193.00" stroke="#333" stroke-width="0.6"/>
<text transform="translate(268.50,195.70) rotate(-60)" font-size="5.0" text-anchor="end" fill="#444444">ADA2</text>
<line x1="270.53" x2="270.53" y1="191.3" y2="193.00" stroke="#333" stroke-width="0.6"/>
<text transform="translate(273.43,195.70) rotate(-60)" font-size="5.0" text-anchor="end" fill="#444444">FGF21</text>
<line x1="275.45" x2="275.45" y1="191.3" y2="193.00" stroke="#333" stroke-width="0.6"/>
<text transform="translate(278.35,195.70) rotate(-60)" font-size="5.0" text-anchor="end" fill="#444444">MFGE8</text>
<line x1="280.37" x2="280.37" y1="191.3" y2="193.00" stroke="#333" stroke-width="0.6"/>
<text transform="translate(283.27,195.70) rotate(-60)" font-size="5.0" text-anchor="end" fill="#444444">EDA2R</text>
<line x1="285.30" x2="285.30" y1="191.3" y2="193.00" stroke="#333" stroke-width="0.6"/>
<text transform="translate(288.20,195.70) rotate(-60)" font-size="5.0" text-anchor="end" fill="#444444">NFASC</text>
<line x1="290.22" x2="290.22" y1="191.3" y2="193.00" stroke="#333" stroke-width="0.6"/>
<text transform="translate(293.12,195.70) rotate(-60)" font-size="5.0" text-anchor="end" fill="#444444">SEMA3F</text>
<line x1="295.14" x2="295.14" y1="191.3" y2="193.00" stroke="#333" stroke-width="0.6"/>
<text transform="translate(298.04,195.70) rotate(-60)" font-size="5.0" text-anchor="end" fill="#444444">HGF</text>
<line x1="300.07" x2="300.07" y1="191.3" y2="193.00" stroke="#333" stroke-width="0.6"/>
<text transform="translate(302.97,195.70) rotate(-60)" font-size="5.0" text-anchor="end" fill="#444444">TNR</text>
<line x1="304.99" x2="304.99" y1="191.3" y2="193.00" stroke="#333" stroke-width="0.6"/>
<text transform="translate(307.89,195.70) rotate(-60)" font-size="5.0" text-anchor="end" fill="#444444">ELOA</text>
<line x1="309.91" x2="309.91" y1="191.3" y2="193.00" stroke="#333" stroke-width="0.6"/>
<text transform="translate(312.81,195.70) rotate(-60)" font-size="5.0" text-anchor="end" fill="#444444">GAL</text>
<line x1="314.84" x2="314.84" y1="191.3" y2="193.00" stroke="#333" stroke-width="0.6"/>
<text transform="translate(317.74,195.70) rotate(-60)" font-size="5.0" text-anchor="end" fill="#444444">FCRL6</text>
<line x1="319.76" x2="319.76" y1="191.3" y2="193.00" stroke="#333" stroke-width="0.6"/>
<text transform="translate(322.66,195.70) rotate(-60)" font-size="5.0" text-anchor="end" fill="#444444">ST6GAL2</text>
<line x1="324.68" x2="324.68" y1="191.3" y2="193.00" stroke="#333" stroke-width="0.6"/>
<text transform="translate(327.58,195.70) rotate(-60)" font-size="5.0" text-anchor="end" fill="#444444">CKB</text>
<line x1="329.61" x2="329.61" y1="191.3" y2="193.00" stroke="#333" stroke-width="0.6"/>
<text transform="translate(332.51,195.70) rotate(-60)" font-size="5.0" text-anchor="end" fill="#444444">CXCL9</text>
<line x1="334.53" x2="334.53" y1="191.3" y2="193.00" stroke="#333" stroke-width="0.6"/>
<text transform="translate(337.43,195.70) rotate(-60)" font-size="5.0" text-anchor="end" fill="#444444">ADAMTS13</text>
<line x1="339.45" x2="339.45" y1="191.3" y2="193.00" stroke="#333" stroke-width="0.6"/>
<text transform="translate(342.35,195.70) rotate(-60)" font-size="5.0" text-anchor="end" fill="#444444">CCL3</text>
<line x1="344.38" x2="344.38" y1="191.3" y2="193.00" stroke="#333" stroke-width="0.6"/>
<text transform="translate(347.28,195.70) rotate(-60)" font-size="5.0" text-anchor="end" fill="#444444">KLK6</text>
<line x1="349.30" x2="349.30" y1="191.3" y2="193.00" stroke="#333" stroke-width="0.6"/>
<text transform="translate(352.20,195.70) rotate(-60)" font-size="5.0" text-anchor="end" fill="#444444">PGF</text>
<line x1="354.22" x2="354.22" y1="191.3" y2="193.00" stroke="#333" stroke-width="0.6"/>
<text transform="translate(357.12,195.70) rotate(-60)" font-size="5.0" text-anchor="end" fill="#444444">CXCL17</text>
<line x1="359.15" x2="359.15" y1="191.3" y2="193.00" stroke="#333" stroke-width="0.6"/>
<text transform="translate(362.05,195.70) rotate(-60)" font-size="5.0" text-anchor="end" fill="#444444">CTSD</text>
<line x1="364.07" x2="364.07" y1="191.3" y2="193.00" stroke="#333" stroke-width="0.6"/>
<text transform="translate(366.97,195.70) rotate(-60)" font-size="5.0" text-anchor="end" fill="#444444">SFRP1</text>
<line x1="368.99" x2="368.99" y1="191.3" y2="193.00" stroke="#333" stroke-width="0.6"/>
<text transform="translate(371.89,195.70) rotate(-60)" font-size="5.0" text-anchor="end" fill="#444444">MMP12</text>
<line x1="373.92" x2="373.92" y1="191.3" y2="193.00" stroke="#333" stroke-width="0.6"/>
<text transform="translate(376.82,195.70) rotate(-60)" font-size="5.0" text-anchor="end" fill="#444444">RNASE1</text>
<line x1="378.84" x2="378.84" y1="191.3" y2="193.00" stroke="#333" stroke-width="0.6"/>
<text transform="translate(381.74,195.70) rotate(-60)" font-size="5.0" text-anchor="end" fill="#444444">FCAR</text>
<line x1="383.76" x2="383.76" y1="191.3" y2="193.00" stroke="#333" stroke-width="0.6"/>
<text transform="translate(386.66,195.70) rotate(-60)" font-size="5.0" text-anchor="end" fill="#444444">HEPH</text>
<line x1="388.69" x2="388.69" y1="191.3" y2="193.00" stroke="#333" stroke-width="0.6"/>
<text transform="translate(391.59,195.70) rotate(-60)" font-size="5.0" text-anchor="end" fill="#444444">NCAM1</text>
<line x1="393.61" x2="393.61" y1="191.3" y2="193.00" stroke="#333" stroke-width="0.6"/>
<text transform="translate(396.51,195.70) rotate(-60)" font-size="5.0" text-anchor="end" fill="#444444">DLK1</text>
<line x1="398.54" x2="398.54" y1="191.3" y2="193.00" stroke="#333" stroke-width="0.6"/>
<text transform="translate(401.44,195.70) rotate(-60)" font-size="5.0" text-anchor="end" fill="#444444">KRT19</text>
<line x1="403.46" x2="403.46" y1="191.3" y2="193.00" stroke="#333" stroke-width="0.6"/>
<text transform="translate(406.36,195.70) rotate(-60)" font-size="5.0" text-anchor="end" fill="#444444">GFRA1</text>
<line x1="408.38" x2="408.38" y1="191.3" y2="193.00" stroke="#333" stroke-width="0.6"/>
<text transform="translate(411.28,195.70) rotate(-60)" font-size="5.0" text-anchor="end" fill="#444444">EPHA2</text>
<line x1="413.31" x2="413.31" y1="191.3" y2="193.00" stroke="#333" stroke-width="0.6"/>
<text transform="translate(416.21,195.70) rotate(-60)" font-size="5.0" text-anchor="end" fill="#444444">SIGLEC1</text>
<line x1="418.23" x2="418.23" y1="191.3" y2="193.00" stroke="#333" stroke-width="0.6"/>
<text transform="translate(421.13,195.70) rotate(-60)" font-size="5.0" text-anchor="end" fill="#444444">TNFRSF10A</text>
<line x1="423.15" x2="423.15" y1="191.3" y2="193.00" stroke="#333" stroke-width="0.6"/>
<text transform="translate(426.05,195.70) rotate(-60)" font-size="5.0" text-anchor="end" fill="#444444">ANXA9</text>
<line x1="428.08" x2="428.08" y1="191.3" y2="193.00" stroke="#333" stroke-width="0.6"/>
<text transform="translate(430.98,195.70) rotate(-60)" font-size="5.0" text-anchor="end" fill="#444444">BCAN</text>
<line x1="433.00" x2="433.00" y1="191.3" y2="193.00" stroke="#333" stroke-width="0.6"/>
<text transform="translate(435.90,195.70) rotate(-60)" font-size="5.0" text-anchor="end" fill="#444444">IGFBP1</text>
<line x1="437.92" x2="437.92" y1="191.3" y2="193.00" stroke="#333" stroke-width="0.6"/>
<text transform="translate(440.82,195.70) rotate(-60)" font-size="5.0" text-anchor="end" fill="#444444">TFF2</text>
<line x1="442.85" x2="442.85" y1="191.3" y2="193.00" stroke="#333" stroke-width="0.6"/>
<text transform="translate(445.75,195.70) rotate(-60)" font-size="5.0" text-anchor="end" fill="#444444">ITGB6</text>
<rect x="446.55" y="158.15" width="8.00" height="33.20" fill="#d6c4e6" stroke="#5a4a66" stroke-width="0.7"/>
<text transform="translate(448.95,174.35) rotate(90)" font-size="4.8" text-anchor="middle" fill="#1a1a1a">Positive</text>
<rect x="21.4" y="223.3" width="424.40" height="34.00" fill="#ffffff"/>
<line x1="21.4" x2="445.8" y1="236.30" y2="236.30" stroke="#f8f8f8" stroke-width="0.5"/>
<line x1="21.4" x2="445.8" y1="225.00" y2="225.00" stroke="#f0f0f0" stroke-width="0.55"/>
<line x1="21.4" x2="445.8" y1="247.60" y2="247.60" stroke="#f0f0f0" stroke-width="0.55"/>
<line x1="24.50" x2="24.50" y1="223.3" y2="257.3" stroke="#f0f0f0" stroke-width="0.5"/>
<line x1="29.66" x2="29.66" y1="223.3" y2="257.3" stroke="#f0f0f0" stroke-width="0.5"/>
<line x1="34.82" x2="34.82" y1="223.3" y2="257.3" stroke="#f0f0f0" stroke-width="0.5"/>
<line x1="39.99" x2="39.99" y1="223.3" y2="257.3" stroke="#f0f0f0" stroke-width="0.5"/>
<line x1="45.15" x2="45.15" y1="223.3" y2="257.3" stroke="#f0f0f0" stroke-width="0.5"/>
<line x1="50.31" x2="50.31" y1="223.3" y2="257.3" stroke="#f0f0f0" stroke-width="0.5"/>
<line x1="55.48" x2="55.48" y1="223.3" y2="257.3" stroke="#f0f0f0" stroke-width="0.5"/>
<line x1="60.64" x2="60.64" y1="223.3" y2="257.3" stroke="#f0f0f0" stroke-width="0.5"/>
<line x1="65.80" x2="65.80" y1="223.3" y2="257.3" stroke="#f0f0f0" stroke-width="0.5"/>
<line x1="70.96" x2="70.96" y1="223.3" y2="257.3" stroke="#f0f0f0" stroke-width="0.5"/>
<line x1="76.13" x2="76.13" y1="223.3" y2="257.3" stroke="#f0f0f0" stroke-width="0.5"/>
<line x1="81.29" x2="81.29" y1="223.3" y2="257.3" stroke="#f0f0f0" stroke-width="0.5"/>
<line x1="86.45" x2="86.45" y1="223.3" y2="257.3" stroke="#f0f0f0" stroke-width="0.5"/>
<line x1="91.62" x2="91.62" y1="223.3" y2="257.3" stroke="#f0f0f0" stroke-width="0.5"/>
<line x1="96.78" x2="96.78" y1="223.3" y2="257.3" stroke="#f0f0f0" stroke-width="0.5"/>
<line x1="101.94" x2="101.94" y1="223.3" y2="257.3" stroke="#f0f0f0" stroke-width="0.5"/>
<line x1="107.11" x2="107.11" y1="223.3" y2="257.3" stroke="#f0f0f0" stroke-width="0.5"/>
<line x1="112.27" x2="112.27" y1="223.3" y2="257.3" stroke="#f0f0f0" stroke-width="0.5"/>
<line x1="117.43" x2="117.43" y1="223.3" y2="257.3" stroke="#f0f0f0" stroke-width="0.5"/>
<line x1="122.60" x2="122.60" y1="223.3" y2="257.3" stroke="#f0f0f0" stroke-width="0.5"/>
<line x1="127.76" x2="127.76" y1="223.3" y2="257.3" stroke="#f0f0f0" stroke-width="0.5"/>
<line x1="132.92" x2="132.92" y1="223.3" y2="257.3" stroke="#f0f0f0" stroke-width="0.5"/>
<line x1="138.08" x2="138.08" y1="223.3" y2="257.3" stroke="#f0f0f0" stroke-width="0.5"/>
<line x1="143.25" x2="143.25" y1="223.3" y2="257.3" stroke="#f0f0f0" stroke-width="0.5"/>
<line x1="148.41" x2="148.41" y1="223.3" y2="257.3" stroke="#f0f0f0" stroke-width="0.5"/>
<line x1="153.57" x2="153.57" y1="223.3" y2="257.3" stroke="#f0f0f0" stroke-width="0.5"/>
<line x1="158.74" x2="158.74" y1="223.3" y2="257.3" stroke="#f0f0f0" stroke-width="0.5"/>
<line x1="163.90" x2="163.90" y1="223.3" y2="257.3" stroke="#f0f0f0" stroke-width="0.5"/>
<line x1="169.06" x2="169.06" y1="223.3" y2="257.3" stroke="#f0f0f0" stroke-width="0.5"/>
<line x1="174.23" x2="174.23" y1="223.3" y2="257.3" stroke="#f0f0f0" stroke-width="0.5"/>
<line x1="179.39" x2="179.39" y1="223.3" y2="257.3" stroke="#f0f0f0" stroke-width="0.5"/>
<line x1="184.55" x2="184.55" y1="223.3" y2="257.3" stroke="#f0f0f0" stroke-width="0.5"/>
<line x1="189.71" x2="189.71" y1="223.3" y2="257.3" stroke="#f0f0f0" stroke-width="0.5"/>
<line x1="194.88" x2="194.88" y1="223.3" y2="257.3" stroke="#f0f0f0" stroke-width="0.5"/>
<line x1="200.04" x2="200.04" y1="223.3" y2="257.3" stroke="#f0f0f0" stroke-width="0.5"/>
<line x1="205.20" x2="205.20" y1="223.3" y2="257.3" stroke="#f0f0f0" stroke-width="0.5"/>
<line x1="210.37" x2="210.37" y1="223.3" y2="257.3" stroke="#f0f0f0" stroke-width="0.5"/>
<line x1="215.53" x2="215.53" y1="223.3" y2="257.3" stroke="#f0f0f0" stroke-width="0.5"/>
<line x1="220.69" x2="220.69" y1="223.3" y2="257.3" stroke="#f0f0f0" stroke-width="0.5"/>
<line x1="225.86" x2="225.86" y1="223.3" y2="257.3" stroke="#f0f0f0" stroke-width="0.5"/>
<line x1="231.02" x2="231.02" y1="223.3" y2="257.3" stroke="#f0f0f0" stroke-width="0.5"/>
<line x1="236.18" x2="236.18" y1="223.3" y2="257.3" stroke="#f0f0f0" stroke-width="0.5"/>
<line x1="241.34" x2="241.34" y1="223.3" y2="257.3" stroke="#f0f0f0" stroke-width="0.5"/>
<line x1="246.51" x2="246.51" y1="223.3" y2="257.3" stroke="#f0f0f0" stroke-width="0.5"/>
<line x1="251.67" x2="251.67" y1="223.3" y2="257.3" stroke="#f0f0f0" stroke-width="0.5"/>
<line x1="256.83" x2="256.83" y1="223.3" y2="257.3" stroke="#f0f0f0" stroke-width="0.5"/>
<line x1="262.00" x2="262.00" y1="223.3" y2="257.3" stroke="#f0f0f0" stroke-width="0.5"/>
<line x1="267.16" x2="267.16" y1="223.3" y2="257.3" stroke="#f0f0f0" stroke-width="0.5"/>
<line x1="272.32" x2="272.32" y1="223.3" y2="257.3" stroke="#f0f0f0" stroke-width="0.5"/>
<line x1="277.49" x2="277.49" y1="223.3" y2="257.3" stroke="#f0f0f0" stroke-width="0.5"/>
<line x1="282.65" x2="282.65" y1="223.3" y2="257.3" stroke="#f0f0f0" stroke-width="0.5"/>
<line x1="287.81" x2="287.81" y1="223.3" y2="257.3" stroke="#f0f0f0" stroke-width="0.5"/>
<line x1="292.97" x2="292.97" y1="223.3" y2="257.3" stroke="#f0f0f0" stroke-width="0.5"/>
<line x1="298.14" x2="298.14" y1="223.3" y2="257.3" stroke="#f0f0f0" stroke-width="0.5"/>
<line x1="303.30" x2="303.30" y1="223.3" y2="257.3" stroke="#f0f0f0" stroke-width="0.5"/>
<line x1="308.46" x2="308.46" y1="223.3" y2="257.3" stroke="#f0f0f0" stroke-width="0.5"/>
<line x1="313.63" x2="313.63" y1="223.3" y2="257.3" stroke="#f0f0f0" stroke-width="0.5"/>
<line x1="318.79" x2="318.79" y1="223.3" y2="257.3" stroke="#f0f0f0" stroke-width="0.5"/>
<line x1="323.95" x2="323.95" y1="223.3" y2="257.3" stroke="#f0f0f0" stroke-width="0.5"/>
<line x1="329.12" x2="329.12" y1="223.3" y2="257.3" stroke="#f0f0f0" stroke-width="0.5"/>
<line x1="334.28" x2="334.28" y1="223.3" y2="257.3" stroke="#f0f0f0" stroke-width="0.5"/>
<line x1="339.44" x2="339.44" y1="223.3" y2="257.3" stroke="#f0f0f0" stroke-width="0.5"/>
<line x1="344.60" x2="344.60" y1="223.3" y2="257.3" stroke="#f0f0f0" stroke-width="0.5"/>
<line x1="349.77" x2="349.77" y1="223.3" y2="257.3" stroke="#f0f0f0" stroke-width="0.5"/>
<line x1="354.93" x2="354.93" y1="223.3" y2="257.3" stroke="#f0f0f0" stroke-width="0.5"/>
<line x1="360.09" x2="360.09" y1="223.3" y2="257.3" stroke="#f0f0f0" stroke-width="0.5"/>
<line x1="365.26" x2="365.26" y1="223.3" y2="257.3" stroke="#f0f0f0" stroke-width="0.5"/>
<line x1="370.42" x2="370.42" y1="223.3" y2="257.3" stroke="#f0f0f0" stroke-width="0.5"/>
<line x1="375.58" x2="375.58" y1="223.3" y2="257.3" stroke="#f0f0f0" stroke-width="0.5"/>
<line x1="380.75" x2="380.75" y1="223.3" y2="257.3" stroke="#f0f0f0" stroke-width="0.5"/>
<line x1="385.91" x2="385.91" y1="223.3" y2="257.3" stroke="#f0f0f0" stroke-width="0.5"/>
<line x1="391.07" x2="391.07" y1="223.3" y2="257.3" stroke="#f0f0f0" stroke-width="0.5"/>
<line x1="396.24" x2="396.24" y1="223.3" y2="257.3" stroke="#f0f0f0" stroke-width="0.5"/>
<line x1="401.40" x2="401.40" y1="223.3" y2="257.3" stroke="#f0f0f0" stroke-width="0.5"/>
<line x1="406.56" x2="406.56" y1="223.3" y2="257.3" stroke="#f0f0f0" stroke-width="0.5"/>
<line x1="411.72" x2="411.72" y1="223.3" y2="257.3" stroke="#f0f0f0" stroke-width="0.5"/>
<line x1="416.89" x2="416.89" y1="223.3" y2="257.3" stroke="#f0f0f0" stroke-width="0.5"/>
<line x1="422.05" x2="422.05" y1="223.3" y2="257.3" stroke="#f0f0f0" stroke-width="0.5"/>
<line x1="427.21" x2="427.21" y1="223.3" y2="257.3" stroke="#f0f0f0" stroke-width="0.5"/>
<line x1="432.38" x2="432.38" y1="223.3" y2="257.3" stroke="#f0f0f0" stroke-width="0.5"/>
<line x1="437.54" x2="437.54" y1="223.3" y2="257.3" stroke="#f0f0f0" stroke-width="0.5"/>
<line x1="442.70" x2="442.70" y1="223.3" y2="257.3" stroke="#f0f0f0" stroke-width="0.5"/>
<rect x="21.4" y="223.3" width="424.40" height="34.00" fill="none" stroke="#d9d9d9" stroke-width="0.9"/>
<line x1="21.4" x2="21.4" y1="222.85000000000002" y2="257.75" stroke="#a0a0a0" stroke-width="0.9"/>
<line x1="21.4" x2="445.8" y1="257.3" y2="257.3" stroke="#a0a0a0" stroke-width="0.9"/>
<line x1="24.50" x2="24.50" y1="225.00" y2="255.70" stroke="#a884cc" stroke-width="0.85"/>
<line x1="29.66" x2="29.66" y1="225.00" y2="252.30" stroke="#a884cc" stroke-width="0.85"/>
<line x1="34.82" x2="34.82" y1="225.00" y2="244.30" stroke="#a884cc" stroke-width="0.85"/>
<line x1="39.99" x2="39.99" y1="225.00" y2="242.20" stroke="#d9c9e8" stroke-width="0.85"/>
<line x1="45.15" x2="45.15" y1="225.00" y2="241.90" stroke="#a884cc" stroke-width="0.85"/>
<line x1="50.31" x2="50.31" y1="225.00" y2="241.20" stroke="#d9c9e8" stroke-width="0.85"/>
<line x1="55.48" x2="55.48" y1="225.00" y2="240.90" stroke="#d9c9e8" stroke-width="0.85"/>
<line x1="60.64" x2="60.64" y1="225.00" y2="240.90" stroke="#d9c9e8" stroke-width="0.85"/>
<line x1="65.80" x2="65.80" y1="225.00" y2="238.40" stroke="#a884cc" stroke-width="0.85"/>
<line x1="70.96" x2="70.96" y1="225.00" y2="238.10" stroke="#a884cc" stroke-width="0.85"/>
<line x1="76.13" x2="76.13" y1="225.00" y2="236.80" stroke="#a884cc" stroke-width="0.85"/>
<line x1="81.29" x2="81.29" y1="225.00" y2="236.00" stroke="#a884cc" stroke-width="0.85"/>
<line x1="86.45" x2="86.45" y1="225.00" y2="235.75" stroke="#a884cc" stroke-width="0.85"/>
<line x1="91.62" x2="91.62" y1="225.00" y2="235.50" stroke="#d9c9e8" stroke-width="0.85"/>
<line x1="96.78" x2="96.78" y1="225.00" y2="235.25" stroke="#a884cc" stroke-width="0.85"/>
<line x1="101.94" x2="101.94" y1="225.00" y2="235.00" stroke="#d9c9e8" stroke-width="0.85"/>
<line x1="107.11" x2="107.11" y1="225.00" y2="234.75" stroke="#d9c9e8" stroke-width="0.85"/>
<line x1="112.27" x2="112.27" y1="225.00" y2="234.50" stroke="#a884cc" stroke-width="0.85"/>
<line x1="117.43" x2="117.43" y1="225.00" y2="234.25" stroke="#a884cc" stroke-width="0.85"/>
<line x1="122.60" x2="122.60" y1="225.00" y2="234.00" stroke="#a884cc" stroke-width="0.85"/>
<line x1="127.76" x2="127.76" y1="225.00" y2="233.80" stroke="#d9c9e8" stroke-width="0.85"/>
<line x1="132.92" x2="132.92" y1="225.00" y2="233.60" stroke="#a884cc" stroke-width="0.85"/>
<line x1="138.08" x2="138.08" y1="225.00" y2="233.40" stroke="#a884cc" stroke-width="0.85"/>
<line x1="143.25" x2="143.25" y1="225.00" y2="233.20" stroke="#a884cc" stroke-width="0.85"/>
<line x1="148.41" x2="148.41" y1="225.00" y2="233.00" stroke="#a884cc" stroke-width="0.85"/>
<line x1="153.57" x2="153.57" y1="225.00" y2="232.80" stroke="#a884cc" stroke-width="0.85"/>
<line x1="158.74" x2="158.74" y1="225.00" y2="232.60" stroke="#a884cc" stroke-width="0.85"/>
<line x1="163.90" x2="163.90" y1="225.00" y2="232.40" stroke="#a884cc" stroke-width="0.85"/>
<line x1="169.06" x2="169.06" y1="225.00" y2="232.20" stroke="#d9c9e8" stroke-width="0.85"/>
<line x1="174.23" x2="174.23" y1="225.00" y2="232.00" stroke="#a884cc" stroke-width="0.85"/>
<line x1="179.39" x2="179.39" y1="225.00" y2="231.80" stroke="#a884cc" stroke-width="0.85"/>
<line x1="184.55" x2="184.55" y1="225.00" y2="231.60" stroke="#d9c9e8" stroke-width="0.85"/>
<line x1="189.71" x2="189.71" y1="225.00" y2="231.40" stroke="#d9c9e8" stroke-width="0.85"/>
<line x1="194.88" x2="194.88" y1="225.00" y2="231.20" stroke="#a884cc" stroke-width="0.85"/>
<line x1="200.04" x2="200.04" y1="225.00" y2="231.00" stroke="#a884cc" stroke-width="0.85"/>
<line x1="205.20" x2="205.20" y1="225.00" y2="230.80" stroke="#a884cc" stroke-width="0.85"/>
<line x1="210.37" x2="210.37" y1="225.00" y2="230.60" stroke="#a884cc" stroke-width="0.85"/>
<line x1="215.53" x2="215.53" y1="225.00" y2="230.40" stroke="#d9c9e8" stroke-width="0.85"/>
<line x1="220.69" x2="220.69" y1="225.00" y2="230.20" stroke="#d9c9e8" stroke-width="0.85"/>
<line x1="225.86" x2="225.86" y1="225.00" y2="230.00" stroke="#a884cc" stroke-width="0.85"/>
<line x1="231.02" x2="231.02" y1="225.00" y2="229.80" stroke="#a884cc" stroke-width="0.85"/>
<line x1="236.18" x2="236.18" y1="225.00" y2="229.60" stroke="#a884cc" stroke-width="0.85"/>
<line x1="241.34" x2="241.34" y1="225.00" y2="229.40" stroke="#d9c9e8" stroke-width="0.85"/>
<line x1="246.51" x2="246.51" y1="225.00" y2="229.29" stroke="#a884cc" stroke-width="0.85"/>
<line x1="251.67" x2="251.67" y1="225.00" y2="229.19" stroke="#a884cc" stroke-width="0.85"/>
<line x1="256.83" x2="256.83" y1="225.00" y2="229.08" stroke="#a884cc" stroke-width="0.85"/>
<line x1="262.00" x2="262.00" y1="225.00" y2="228.98" stroke="#d9c9e8" stroke-width="0.85"/>
<line x1="267.16" x2="267.16" y1="225.00" y2="228.87" stroke="#a884cc" stroke-width="0.85"/>
<line x1="272.32" x2="272.32" y1="225.00" y2="228.77" stroke="#a884cc" stroke-width="0.85"/>
<line x1="277.49" x2="277.49" y1="225.00" y2="228.66" stroke="#a884cc" stroke-width="0.85"/>
<line x1="282.65" x2="282.65" y1="225.00" y2="228.56" stroke="#a884cc" stroke-width="0.85"/>
<line x1="287.81" x2="287.81" y1="225.00" y2="228.45" stroke="#a884cc" stroke-width="0.85"/>
<line x1="292.97" x2="292.97" y1="225.00" y2="228.34" stroke="#a884cc" stroke-width="0.85"/>
<line x1="298.14" x2="298.14" y1="225.00" y2="228.24" stroke="#d9c9e8" stroke-width="0.85"/>
<line x1="303.30" x2="303.30" y1="225.00" y2="228.13" stroke="#a884cc" stroke-width="0.85"/>
<line x1="308.46" x2="308.46" y1="225.00" y2="228.03" stroke="#a884cc" stroke-width="0.85"/>
<line x1="313.63" x2="313.63" y1="225.00" y2="227.92" stroke="#d9c9e8" stroke-width="0.85"/>
<line x1="318.79" x2="318.79" y1="225.00" y2="227.82" stroke="#a884cc" stroke-width="0.85"/>
<line x1="323.95" x2="323.95" y1="225.00" y2="227.71" stroke="#d9c9e8" stroke-width="0.85"/>
<line x1="329.12" x2="329.12" y1="225.00" y2="227.61" stroke="#a884cc" stroke-width="0.85"/>
<line x1="334.28" x2="334.28" y1="225.00" y2="227.50" stroke="#a884cc" stroke-width="0.85"/>
<line x1="339.44" x2="339.44" y1="225.00" y2="227.39" stroke="#a884cc" stroke-width="0.85"/>
<line x1="344.60" x2="344.60" y1="225.00" y2="227.28" stroke="#a884cc" stroke-width="0.85"/>
<line x1="349.77" x2="349.77" y1="225.00" y2="227.17" stroke="#d9c9e8" stroke-width="0.85"/>
<line x1="354.93" x2="354.93" y1="225.00" y2="227.06" stroke="#a884cc" stroke-width="0.85"/>
<line x1="360.09" x2="360.09" y1="225.00" y2="226.95" stroke="#a884cc" stroke-width="0.85"/>
<line x1="365.26" x2="365.26" y1="225.00" y2="226.84" stroke="#a884cc" stroke-width="0.85"/>
<line x1="370.42" x2="370.42" y1="225.00" y2="226.73" stroke="#d9c9e8" stroke-width="0.85"/>
<line x1="375.58" x2="375.58" y1="225.00" y2="226.62" stroke="#a884cc" stroke-width="0.85"/>
<line x1="380.75" x2="380.75" y1="225.00" y2="226.51" stroke="#d9c9e8" stroke-width="0.85"/>
<line x1="385.91" x2="385.91" y1="225.00" y2="226.40" stroke="#a884cc" stroke-width="0.85"/>
<line x1="391.07" x2="391.07" y1="225.00" y2="226.30" stroke="#a884cc" stroke-width="0.85"/>
<line x1="396.24" x2="396.24" y1="225.00" y2="226.19" stroke="#a884cc" stroke-width="0.85"/>
<line x1="401.40" x2="401.40" y1="225.00" y2="226.08" stroke="#a884cc" stroke-width="0.85"/>
<line x1="406.56" x2="406.56" y1="225.00" y2="225.97" stroke="#d9c9e8" stroke-width="0.85"/>
<line x1="411.72" x2="411.72" y1="225.00" y2="225.86" stroke="#a884cc" stroke-width="0.85"/>
<line x1="416.89" x2="416.89" y1="225.00" y2="225.75" stroke="#a884cc" stroke-width="0.85"/>
<line x1="422.05" x2="422.05" y1="225.00" y2="225.64" stroke="#a884cc" stroke-width="0.85"/>
<line x1="427.21" x2="427.21" y1="225.00" y2="225.53" stroke="#a884cc" stroke-width="0.85"/>
<line x1="432.38" x2="432.38" y1="225.00" y2="225.42" stroke="#a884cc" stroke-width="0.85"/>
<line x1="437.54" x2="437.54" y1="225.00" y2="225.31" stroke="#d9c9e8" stroke-width="0.85"/>
<line x1="442.70" x2="442.70" y1="225.00" y2="225.20" stroke="#a884cc" stroke-width="0.85"/>
<circle cx="24.50" cy="255.70" r="1.4" fill="#a47ecb"/>
<circle cx="29.66" cy="252.30" r="1.4" fill="#a47ecb"/>
<circle cx="34.82" cy="244.30" r="1.4" fill="#a47ecb"/>
<circle cx="39.99" cy="242.20" r="1.4" fill="#a47ecb"/>
<circle cx="45.15" cy="241.90" r="1.4" fill="#a47ecb"/>
<circle cx="50.31" cy="241.20" r="1.4" fill="#a47ecb"/>
<circle cx="55.48" cy="240.90" r="1.4" fill="#a47ecb"/>
<circle cx="60.64" cy="240.90" r="1.4" fill="#a47ecb"/>
<circle cx="65.80" cy="238.40" r="1.4" fill="#a47ecb"/>
<circle cx="70.96" cy="238.10" r="1.4" fill="#a47ecb"/>
<circle cx="76.13" cy="236.80" r="1.4" fill="#a47ecb"/>
<circle cx="81.29" cy="236.00" r="1.4" fill="#a47ecb"/>
<circle cx="86.45" cy="235.75" r="1.4" fill="#a47ecb"/>
<circle cx="91.62" cy="235.50" r="1.4" fill="#a47ecb"/>
<circle cx="96.78" cy="235.25" r="1.4" fill="#a47ecb"/>
<circle cx="101.94" cy="235.00" r="1.4" fill="#a47ecb"/>
<circle cx="107.11" cy="234.75" r="1.4" fill="#a47ecb"/>
<circle cx="112.27" cy="234.50" r="1.4" fill="#a47ecb"/>
<circle cx="117.43" cy="234.25" r="1.4" fill="#a47ecb"/>
<circle cx="122.60" cy="234.00" r="1.4" fill="#a47ecb"/>
<circle cx="127.76" cy="233.80" r="1.4" fill="#a47ecb"/>
<circle cx="132.92" cy="233.60" r="1.4" fill="#a47ecb"/>
<circle cx="138.08" cy="233.40" r="1.4" fill="#a47ecb"/>
<circle cx="143.25" cy="233.20" r="1.4" fill="#a47ecb"/>
<circle cx="148.41" cy="233.00" r="1.4" fill="#a47ecb"/>
<circle cx="153.57" cy="232.80" r="1.4" fill="#a47ecb"/>
<circle cx="158.74" cy="232.60" r="1.4" fill="#a47ecb"/>
<circle cx="163.90" cy="232.40" r="1.4" fill="#a47ecb"/>
<circle cx="169.06" cy="232.20" r="1.4" fill="#a47ecb"/>
<circle cx="174.23" cy="232.00" r="1.4" fill="#a47ecb"/>
<circle cx="179.39" cy="231.80" r="1.4" fill="#a47ecb"/>
<circle cx="184.55" cy="231.60" r="1.4" fill="#a47ecb"/>
<circle cx="189.71" cy="231.40" r="1.4" fill="#a47ecb"/>
<circle cx="194.88" cy="231.20" r="1.4" fill="#a47ecb"/>
<circle cx="200.04" cy="231.00" r="1.4" fill="#a47ecb"/>
<circle cx="205.20" cy="230.80" r="1.4" fill="#a47ecb"/>
<circle cx="210.37" cy="230.60" r="1.4" fill="#a47ecb"/>
<circle cx="215.53" cy="230.40" r="1.4" fill="#a47ecb"/>
<circle cx="220.69" cy="230.20" r="1.4" fill="#a47ecb"/>
<circle cx="225.86" cy="230.00" r="1.4" fill="#a47ecb"/>
<circle cx="231.02" cy="229.80" r="1.4" fill="#a47ecb"/>
<circle cx="236.18" cy="229.60" r="1.4" fill="#a47ecb"/>
<circle cx="241.34" cy="229.40" r="1.4" fill="#a47ecb"/>
<circle cx="246.51" cy="229.29" r="1.4" fill="#a47ecb"/>
<circle cx="251.67" cy="229.19" r="1.4" fill="#a47ecb"/>
<circle cx="256.83" cy="229.08" r="1.4" fill="#a47ecb"/>
<circle cx="262.00" cy="228.98" r="1.4" fill="#a47ecb"/>
<circle cx="267.16" cy="228.87" r="1.4" fill="#a47ecb"/>
<circle cx="272.32" cy="228.77" r="1.4" fill="#a47ecb"/>
<circle cx="277.49" cy="228.66" r="1.4" fill="#a47ecb"/>
<circle cx="282.65" cy="228.56" r="1.4" fill="#a47ecb"/>
<circle cx="287.81" cy="228.45" r="1.4" fill="#a47ecb"/>
<circle cx="292.97" cy="228.34" r="1.4" fill="#a47ecb"/>
<circle cx="298.14" cy="228.24" r="1.4" fill="#a47ecb"/>
<circle cx="303.30" cy="228.13" r="1.4" fill="#a47ecb"/>
<circle cx="308.46" cy="228.03" r="1.4" fill="#a47ecb"/>
<circle cx="313.63" cy="227.92" r="1.4" fill="#a47ecb"/>
<circle cx="318.79" cy="227.82" r="1.4" fill="#a47ecb"/>
<circle cx="323.95" cy="227.71" r="1.4" fill="#a47ecb"/>
<circle cx="329.12" cy="227.61" r="1.4" fill="#a47ecb"/>
<circle cx="334.28" cy="227.50" r="1.4" fill="#a47ecb"/>
<circle cx="339.44" cy="227.39" r="1.4" fill="#a47ecb"/>
<circle cx="344.60" cy="227.28" r="1.4" fill="#a47ecb"/>
<circle cx="349.77" cy="227.17" r="1.4" fill="#a47ecb"/>
<circle cx="354.93" cy="227.06" r="1.4" fill="#a47ecb"/>
<circle cx="360.09" cy="226.95" r="1.4" fill="#a47ecb"/>
<circle cx="365.26" cy="226.84" r="1.4" fill="#a47ecb"/>
<circle cx="370.42" cy="226.73" r="1.4" fill="#a47ecb"/>
<circle cx="375.58" cy="226.62" r="1.4" fill="#a47ecb"/>
<circle cx="380.75" cy="226.51" r="1.4" fill="#a47ecb"/>
<circle cx="385.91" cy="226.40" r="1.4" fill="#a47ecb"/>
<circle cx="391.07" cy="226.30" r="1.4" fill="#a47ecb"/>
<circle cx="396.24" cy="226.19" r="1.4" fill="#a47ecb"/>
<circle cx="401.40" cy="226.08" r="1.4" fill="#a47ecb"/>
<circle cx="406.56" cy="225.97" r="1.4" fill="#a47ecb"/>
<circle cx="411.72" cy="225.86" r="1.4" fill="#a47ecb"/>
<circle cx="416.89" cy="225.75" r="1.4" fill="#a47ecb"/>
<circle cx="422.05" cy="225.64" r="1.4" fill="#a47ecb"/>
<circle cx="427.21" cy="225.53" r="1.4" fill="#a47ecb"/>
<circle cx="432.38" cy="225.42" r="1.4" fill="#a47ecb"/>
<circle cx="437.54" cy="225.31" r="1.4" fill="#a47ecb"/>
<circle cx="442.70" cy="225.20" r="1.4" fill="#a47ecb"/>
<line x1="19.70" x2="21.4" y1="225.0" y2="225.0" stroke="#333" stroke-width="0.6"/>
<text x="18.80" y="227.10" font-size="4.9" text-anchor="end" fill="#555555" >0.00</text>
<line x1="19.70" x2="21.4" y1="247.6" y2="247.6" stroke="#333" stroke-width="0.6"/>
<text x="18.80" y="249.70" font-size="4.9" text-anchor="end" fill="#555555" >-0.05</text>
<line x1="24.50" x2="24.50" y1="257.3" y2="259.00" stroke="#333" stroke-width="0.6"/>
<text transform="translate(27.40,261.70) rotate(-60)" font-size="5.0" text-anchor="end" fill="#444444">CXCL13</text>
<line x1="29.66" x2="29.66" y1="257.3" y2="259.00" stroke="#333" stroke-width="0.6"/>
<text transform="translate(32.56,261.70) rotate(-60)" font-size="5.0" text-anchor="end" fill="#444444">CD38</text>
<line x1="34.82" x2="34.82" y1="257.3" y2="259.00" stroke="#333" stroke-width="0.6"/>
<text transform="translate(37.72,261.70) rotate(-60)" font-size="5.0" text-anchor="end" fill="#444444">NCAM1</text>
<line x1="39.99" x2="39.99" y1="257.3" y2="259.00" stroke="#333" stroke-width="0.6"/>
<text transform="translate(42.89,261.70) rotate(-60)" font-size="5.0" text-anchor="end" fill="#444444">TNR</text>
<line x1="45.15" x2="45.15" y1="257.3" y2="259.00" stroke="#333" stroke-width="0.6"/>
<text transform="translate(48.05,261.70) rotate(-60)" font-size="5.0" text-anchor="end" fill="#444444">FGF23</text>
<line x1="50.31" x2="50.31" y1="257.3" y2="259.00" stroke="#333" stroke-width="0.6"/>
<text transform="translate(53.21,261.70) rotate(-60)" font-size="5.0" text-anchor="end" fill="#444444">SMPDL3A</text>
<line x1="55.48" x2="55.48" y1="257.3" y2="259.00" stroke="#333" stroke-width="0.6"/>
<text transform="translate(58.38,261.70) rotate(-60)" font-size="5.0" text-anchor="end" fill="#444444">CCL11</text>
<line x1="60.64" x2="60.64" y1="257.3" y2="259.00" stroke="#333" stroke-width="0.6"/>
<text transform="translate(63.54,261.70) rotate(-60)" font-size="5.0" text-anchor="end" fill="#444444">IL18R1</text>
<line x1="65.80" x2="65.80" y1="257.3" y2="259.00" stroke="#333" stroke-width="0.6"/>
<text transform="translate(68.70,261.70) rotate(-60)" font-size="5.0" text-anchor="end" fill="#444444">FAM3B</text>
<line x1="70.96" x2="70.96" y1="257.3" y2="259.00" stroke="#333" stroke-width="0.6"/>
<text transform="translate(73.86,261.70) rotate(-60)" font-size="5.0" text-anchor="end" fill="#444444">SIGLEC1</text>
<line x1="76.13" x2="76.13" y1="257.3" y2="259.00" stroke="#333" stroke-width="0.6"/>
<text transform="translate(79.03,261.70) rotate(-60)" font-size="5.0" text-anchor="end" fill="#444444">IGFBP4</text>
<line x1="81.29" x2="81.29" y1="257.3" y2="259.00" stroke="#333" stroke-width="0.6"/>
<text transform="translate(84.19,261.70) rotate(-60)" font-size="5.0" text-anchor="end" fill="#444444">IL15RA</text>
<line x1="86.45" x2="86.45" y1="257.3" y2="259.00" stroke="#333" stroke-width="0.6"/>
<text transform="translate(89.35,261.70) rotate(-60)" font-size="5.0" text-anchor="end" fill="#444444">NPPB</text>
<line x1="91.62" x2="91.62" y1="257.3" y2="259.00" stroke="#333" stroke-width="0.6"/>
<text transform="translate(94.52,261.70) rotate(-60)" font-size="5.0" text-anchor="end" fill="#444444">ENG</text>
<line x1="96.78" x2="96.78" y1="257.3" y2="259.00" stroke="#333" stroke-width="0.6"/>
<text transform="translate(99.68,261.70) rotate(-60)" font-size="5.0" text-anchor="end" fill="#444444">ISLR2</text>
<line x1="101.94" x2="101.94" y1="257.3" y2="259.00" stroke="#333" stroke-width="0.6"/>
<text transform="translate(104.84,261.70) rotate(-60)" font-size="5.0" text-anchor="end" fill="#444444">ADAMTS13</text>
<line x1="107.11" x2="107.11" y1="257.3" y2="259.00" stroke="#333" stroke-width="0.6"/>
<text transform="translate(110.01,261.70) rotate(-60)" font-size="5.0" text-anchor="end" fill="#444444">HEPH</text>
<line x1="112.27" x2="112.27" y1="257.3" y2="259.00" stroke="#333" stroke-width="0.6"/>
<text transform="translate(115.17,261.70) rotate(-60)" font-size="5.0" text-anchor="end" fill="#444444">WFDC2</text>
<line x1="117.43" x2="117.43" y1="257.3" y2="259.00" stroke="#333" stroke-width="0.6"/>
<text transform="translate(120.33,261.70) rotate(-60)" font-size="5.0" text-anchor="end" fill="#444444">CCL16</text>
<line x1="122.60" x2="122.60" y1="257.3" y2="259.00" stroke="#333" stroke-width="0.6"/>
<text transform="translate(125.50,261.70) rotate(-60)" font-size="5.0" text-anchor="end" fill="#444444">TIMP1</text>
<line x1="127.76" x2="127.76" y1="257.3" y2="259.00" stroke="#333" stroke-width="0.6"/>
<text transform="translate(130.66,261.70) rotate(-60)" font-size="5.0" text-anchor="end" fill="#444444">TFF2</text>
<line x1="132.92" x2="132.92" y1="257.3" y2="259.00" stroke="#333" stroke-width="0.6"/>
<text transform="translate(135.82,261.70) rotate(-60)" font-size="5.0" text-anchor="end" fill="#444444">CEACAM5</text>
<line x1="138.08" x2="138.08" y1="257.3" y2="259.00" stroke="#333" stroke-width="0.6"/>
<text transform="translate(140.98,261.70) rotate(-60)" font-size="5.0" text-anchor="end" fill="#444444">GALNT10</text>
<line x1="143.25" x2="143.25" y1="257.3" y2="259.00" stroke="#333" stroke-width="0.6"/>
<text transform="translate(146.15,261.70) rotate(-60)" font-size="5.0" text-anchor="end" fill="#444444">HYAL1</text>
<line x1="148.41" x2="148.41" y1="257.3" y2="259.00" stroke="#333" stroke-width="0.6"/>
<text transform="translate(151.31,261.70) rotate(-60)" font-size="5.0" text-anchor="end" fill="#444444">SLITRK1</text>
<line x1="153.57" x2="153.57" y1="257.3" y2="259.00" stroke="#333" stroke-width="0.6"/>
<text transform="translate(156.47,261.70) rotate(-60)" font-size="5.0" text-anchor="end" fill="#444444">LAMA4</text>
<line x1="158.74" x2="158.74" y1="257.3" y2="259.00" stroke="#333" stroke-width="0.6"/>
<text transform="translate(161.64,261.70) rotate(-60)" font-size="5.0" text-anchor="end" fill="#444444">TFF1</text>
<line x1="163.90" x2="163.90" y1="257.3" y2="259.00" stroke="#333" stroke-width="0.6"/>
<text transform="translate(166.80,261.70) rotate(-60)" font-size="5.0" text-anchor="end" fill="#444444">SCARF2</text>
<line x1="169.06" x2="169.06" y1="257.3" y2="259.00" stroke="#333" stroke-width="0.6"/>
<text transform="translate(171.96,261.70) rotate(-60)" font-size="5.0" text-anchor="end" fill="#444444">GAL</text>
<line x1="174.23" x2="174.23" y1="257.3" y2="259.00" stroke="#333" stroke-width="0.6"/>
<text transform="translate(177.13,261.70) rotate(-60)" font-size="5.0" text-anchor="end" fill="#444444">PTN</text>
<line x1="179.39" x2="179.39" y1="257.3" y2="259.00" stroke="#333" stroke-width="0.6"/>
<text transform="translate(182.29,261.70) rotate(-60)" font-size="5.0" text-anchor="end" fill="#444444">IGFBP2</text>
<line x1="184.55" x2="184.55" y1="257.3" y2="259.00" stroke="#333" stroke-width="0.6"/>
<text transform="translate(187.45,261.70) rotate(-60)" font-size="5.0" text-anchor="end" fill="#444444">DLK1</text>
<line x1="189.71" x2="189.71" y1="257.3" y2="259.00" stroke="#333" stroke-width="0.6"/>
<text transform="translate(192.61,261.70) rotate(-60)" font-size="5.0" text-anchor="end" fill="#444444">SPINT3</text>
<line x1="194.88" x2="194.88" y1="257.3" y2="259.00" stroke="#333" stroke-width="0.6"/>
<text transform="translate(197.78,261.70) rotate(-60)" font-size="5.0" text-anchor="end" fill="#444444">CXCL1</text>
<line x1="200.04" x2="200.04" y1="257.3" y2="259.00" stroke="#333" stroke-width="0.6"/>
<text transform="translate(202.94,261.70) rotate(-60)" font-size="5.0" text-anchor="end" fill="#444444">CTSV</text>
<line x1="205.20" x2="205.20" y1="257.3" y2="259.00" stroke="#333" stroke-width="0.6"/>
<text transform="translate(208.10,261.70) rotate(-60)" font-size="5.0" text-anchor="end" fill="#444444">DDAH1</text>
<line x1="210.37" x2="210.37" y1="257.3" y2="259.00" stroke="#333" stroke-width="0.6"/>
<text transform="translate(213.27,261.70) rotate(-60)" font-size="5.0" text-anchor="end" fill="#444444">FCRL6</text>
<line x1="215.53" x2="215.53" y1="257.3" y2="259.00" stroke="#333" stroke-width="0.6"/>
<text transform="translate(218.43,261.70) rotate(-60)" font-size="5.0" text-anchor="end" fill="#444444">COL6A3</text>
<line x1="220.69" x2="220.69" y1="257.3" y2="259.00" stroke="#333" stroke-width="0.6"/>
<text transform="translate(223.59,261.70) rotate(-60)" font-size="5.0" text-anchor="end" fill="#444444">MSLN</text>
<line x1="225.86" x2="225.86" y1="257.3" y2="259.00" stroke="#333" stroke-width="0.6"/>
<text transform="translate(228.76,261.70) rotate(-60)" font-size="5.0" text-anchor="end" fill="#444444">CXCL13</text>
<line x1="231.02" x2="231.02" y1="257.3" y2="259.00" stroke="#333" stroke-width="0.6"/>
<text transform="translate(233.92,261.70) rotate(-60)" font-size="5.0" text-anchor="end" fill="#444444">OPCML</text>
<line x1="236.18" x2="236.18" y1="257.3" y2="259.00" stroke="#333" stroke-width="0.6"/>
<text transform="translate(239.08,261.70) rotate(-60)" font-size="5.0" text-anchor="end" fill="#444444">CD59</text>
<line x1="241.34" x2="241.34" y1="257.3" y2="259.00" stroke="#333" stroke-width="0.6"/>
<text transform="translate(244.24,261.70) rotate(-60)" font-size="5.0" text-anchor="end" fill="#444444">GAST</text>
<line x1="246.51" x2="246.51" y1="257.3" y2="259.00" stroke="#333" stroke-width="0.6"/>
<text transform="translate(249.41,261.70) rotate(-60)" font-size="5.0" text-anchor="end" fill="#444444">REN</text>
<line x1="251.67" x2="251.67" y1="257.3" y2="259.00" stroke="#333" stroke-width="0.6"/>
<text transform="translate(254.57,261.70) rotate(-60)" font-size="5.0" text-anchor="end" fill="#444444">FAM3C</text>
<line x1="256.83" x2="256.83" y1="257.3" y2="259.00" stroke="#333" stroke-width="0.6"/>
<text transform="translate(259.73,261.70) rotate(-60)" font-size="5.0" text-anchor="end" fill="#444444">HNMT</text>
<line x1="262.00" x2="262.00" y1="257.3" y2="259.00" stroke="#333" stroke-width="0.6"/>
<text transform="translate(264.90,261.70) rotate(-60)" font-size="5.0" text-anchor="end" fill="#444444">CXCL17</text>
<line x1="267.16" x2="267.16" y1="257.3" y2="259.00" stroke="#333" stroke-width="0.6"/>
<text transform="translate(270.06,261.70) rotate(-60)" font-size="5.0" text-anchor="end" fill="#444444">SIGLEC7</text>
<line x1="272.32" x2="272.32" y1="257.3" y2="259.00" stroke="#333" stroke-width="0.6"/>
<text transform="translate(275.22,261.70) rotate(-60)" font-size="5.0" text-anchor="end" fill="#444444">HGF</text>
<line x1="277.49" x2="277.49" y1="257.3" y2="259.00" stroke="#333" stroke-width="0.6"/>
<text transform="translate(280.39,261.70) rotate(-60)" font-size="5.0" text-anchor="end" fill="#444444">SEMA3F</text>
<line x1="282.65" x2="282.65" y1="257.3" y2="259.00" stroke="#333" stroke-width="0.6"/>
<text transform="translate(285.55,261.70) rotate(-60)" font-size="5.0" text-anchor="end" fill="#444444">TNFRSF11A</text>
<line x1="287.81" x2="287.81" y1="257.3" y2="259.00" stroke="#333" stroke-width="0.6"/>
<text transform="translate(290.71,261.70) rotate(-60)" font-size="5.0" text-anchor="end" fill="#444444">PRSS8</text>
<line x1="292.97" x2="292.97" y1="257.3" y2="259.00" stroke="#333" stroke-width="0.6"/>
<text transform="translate(295.87,261.70) rotate(-60)" font-size="5.0" text-anchor="end" fill="#444444">SLAMF8</text>
<line x1="298.14" x2="298.14" y1="257.3" y2="259.00" stroke="#333" stroke-width="0.6"/>
<text transform="translate(301.04,261.70) rotate(-60)" font-size="5.0" text-anchor="end" fill="#444444">ANGPTL7</text>
<line x1="303.30" x2="303.30" y1="257.3" y2="259.00" stroke="#333" stroke-width="0.6"/>
<text transform="translate(306.20,261.70) rotate(-60)" font-size="5.0" text-anchor="end" fill="#444444">MAD1L1</text>
<line x1="308.46" x2="308.46" y1="257.3" y2="259.00" stroke="#333" stroke-width="0.6"/>
<text transform="translate(311.36,261.70) rotate(-60)" font-size="5.0" text-anchor="end" fill="#444444">CTSD</text>
<line x1="313.63" x2="313.63" y1="257.3" y2="259.00" stroke="#333" stroke-width="0.6"/>
<text transform="translate(316.53,261.70) rotate(-60)" font-size="5.0" text-anchor="end" fill="#444444">CHI3L1</text>
<line x1="318.79" x2="318.79" y1="257.3" y2="259.00" stroke="#333" stroke-width="0.6"/>
<text transform="translate(321.69,261.70) rotate(-60)" font-size="5.0" text-anchor="end" fill="#444444">EDA2R</text>
<line x1="323.95" x2="323.95" y1="257.3" y2="259.00" stroke="#333" stroke-width="0.6"/>
<text transform="translate(326.85,261.70) rotate(-60)" font-size="5.0" text-anchor="end" fill="#444444">TPP1</text>
<line x1="329.12" x2="329.12" y1="257.3" y2="259.00" stroke="#333" stroke-width="0.6"/>
<text transform="translate(332.02,261.70) rotate(-60)" font-size="5.0" text-anchor="end" fill="#444444">PLAUR</text>
<line x1="334.28" x2="334.28" y1="257.3" y2="259.00" stroke="#333" stroke-width="0.6"/>
<text transform="translate(337.18,261.70) rotate(-60)" font-size="5.0" text-anchor="end" fill="#444444">AGRP</text>
<line x1="339.44" x2="339.44" y1="257.3" y2="259.00" stroke="#333" stroke-width="0.6"/>
<text transform="translate(342.34,261.70) rotate(-60)" font-size="5.0" text-anchor="end" fill="#444444">GFRA1</text>
<line x1="344.60" x2="344.60" y1="257.3" y2="259.00" stroke="#333" stroke-width="0.6"/>
<text transform="translate(347.50,261.70) rotate(-60)" font-size="5.0" text-anchor="end" fill="#444444">FSTL1</text>
<line x1="349.77" x2="349.77" y1="257.3" y2="259.00" stroke="#333" stroke-width="0.6"/>
<text transform="translate(352.67,261.70) rotate(-60)" font-size="5.0" text-anchor="end" fill="#444444">SERPING1</text>
<line x1="354.93" x2="354.93" y1="257.3" y2="259.00" stroke="#333" stroke-width="0.6"/>
<text transform="translate(357.83,261.70) rotate(-60)" font-size="5.0" text-anchor="end" fill="#444444">CLMP</text>
<line x1="360.09" x2="360.09" y1="257.3" y2="259.00" stroke="#333" stroke-width="0.6"/>
<text transform="translate(362.99,261.70) rotate(-60)" font-size="5.0" text-anchor="end" fill="#444444">BST2</text>
<line x1="365.26" x2="365.26" y1="257.3" y2="259.00" stroke="#333" stroke-width="0.6"/>
<text transform="translate(368.16,261.70) rotate(-60)" font-size="5.0" text-anchor="end" fill="#444444">GPR37</text>
<line x1="370.42" x2="370.42" y1="257.3" y2="259.00" stroke="#333" stroke-width="0.6"/>
<text transform="translate(373.32,261.70) rotate(-60)" font-size="5.0" text-anchor="end" fill="#444444">CDCP1</text>
<line x1="375.58" x2="375.58" y1="257.3" y2="259.00" stroke="#333" stroke-width="0.6"/>
<text transform="translate(378.48,261.70) rotate(-60)" font-size="5.0" text-anchor="end" fill="#444444">SPINK4</text>
<line x1="380.75" x2="380.75" y1="257.3" y2="259.00" stroke="#333" stroke-width="0.6"/>
<text transform="translate(383.65,261.70) rotate(-60)" font-size="5.0" text-anchor="end" fill="#444444">IL1RL1</text>
<line x1="385.91" x2="385.91" y1="257.3" y2="259.00" stroke="#333" stroke-width="0.6"/>
<text transform="translate(388.81,261.70) rotate(-60)" font-size="5.0" text-anchor="end" fill="#444444">CCL11</text>
<line x1="391.07" x2="391.07" y1="257.3" y2="259.00" stroke="#333" stroke-width="0.6"/>
<text transform="translate(393.97,261.70) rotate(-60)" font-size="5.0" text-anchor="end" fill="#444444">CKB</text>
<line x1="396.24" x2="396.24" y1="257.3" y2="259.00" stroke="#333" stroke-width="0.6"/>
<text transform="translate(399.14,261.70) rotate(-60)" font-size="5.0" text-anchor="end" fill="#444444">OSMR</text>
<line x1="401.40" x2="401.40" y1="257.3" y2="259.00" stroke="#333" stroke-width="0.6"/>
<text transform="translate(404.30,261.70) rotate(-60)" font-size="5.0" text-anchor="end" fill="#444444">ST6GAL2</text>
<line x1="406.56" x2="406.56" y1="257.3" y2="259.00" stroke="#333" stroke-width="0.6"/>
<text transform="translate(409.46,261.70) rotate(-60)" font-size="5.0" text-anchor="end" fill="#444444">MFGE8</text>
<line x1="411.72" x2="411.72" y1="257.3" y2="259.00" stroke="#333" stroke-width="0.6"/>
<text transform="translate(414.62,261.70) rotate(-60)" font-size="5.0" text-anchor="end" fill="#444444">ANXA9</text>
<line x1="416.89" x2="416.89" y1="257.3" y2="259.00" stroke="#333" stroke-width="0.6"/>
<text transform="translate(419.79,261.70) rotate(-60)" font-size="5.0" text-anchor="end" fill="#444444">CXCL9</text>
<line x1="422.05" x2="422.05" y1="257.3" y2="259.00" stroke="#333" stroke-width="0.6"/>
<text transform="translate(424.95,261.70) rotate(-60)" font-size="5.0" text-anchor="end" fill="#444444">CST3</text>
<line x1="427.21" x2="427.21" y1="257.3" y2="259.00" stroke="#333" stroke-width="0.6"/>
<text transform="translate(430.11,261.70) rotate(-60)" font-size="5.0" text-anchor="end" fill="#444444">ADA2</text>
<line x1="432.38" x2="432.38" y1="257.3" y2="259.00" stroke="#333" stroke-width="0.6"/>
<text transform="translate(435.28,261.70) rotate(-60)" font-size="5.0" text-anchor="end" fill="#444444">CD38</text>
<line x1="437.54" x2="437.54" y1="257.3" y2="259.00" stroke="#333" stroke-width="0.6"/>
<text transform="translate(440.44,261.70) rotate(-60)" font-size="5.0" text-anchor="end" fill="#444444">ALCAM</text>
<line x1="442.70" x2="442.70" y1="257.3" y2="259.00" stroke="#333" stroke-width="0.6"/>
<text transform="translate(445.60,261.70) rotate(-60)" font-size="5.0" text-anchor="end" fill="#444444">IGFBP7</text>
<rect x="446.55" y="224.05" width="8.00" height="33.30" fill="#d6c4e6" stroke="#5a4a66" stroke-width="0.7"/>
<text transform="translate(448.95,240.30) rotate(90)" font-size="4.8" text-anchor="middle" fill="#1a1a1a">Negative</text>
<text transform="translate(5.35,207.70) rotate(-90)" font-size="6.0" text-anchor="middle" fill="#000" stroke="#000" stroke-width="0.08">weight</text>
<text x="599.85" y="168.80" font-size="8.45" text-anchor="middle" fill="#111" >GO-BP enrichment</text>
<rect x="556.5" y="173.6" width="87.70" height="87.30" fill="#fff"/>
<rect x="560.49" y="174.88" width="79.73" height="7.70" fill="#b99ecf"/>
<text x="553.30" y="181.24" font-size="5.65" text-anchor="end" fill="#4d4d4d" >taxis</text>
<rect x="560.49" y="183.44" width="79.73" height="7.70" fill="#b99ecf"/>
<text x="553.30" y="189.79" font-size="5.65" text-anchor="end" fill="#4d4d4d" >chemotaxis</text>
<rect x="560.49" y="192.00" width="76.41" height="7.70" fill="#c8b4db"/>
<text x="553.30" y="198.35" font-size="5.65" text-anchor="end" fill="#4d4d4d" >positive regulation of MAPK cascade</text>
<rect x="560.49" y="200.56" width="76.41" height="7.70" fill="#b598cd"/>
<text x="553.30" y="206.91" font-size="5.65" text-anchor="end" fill="#4d4d4d" >leukocyte migration</text>
<rect x="560.49" y="209.12" width="69.76" height="7.70" fill="#b498cd"/>
<text x="553.30" y="215.47" font-size="5.65" text-anchor="end" fill="#4d4d4d" >cell chemotaxis</text>
<rect x="560.49" y="217.68" width="66.44" height="7.70" fill="#a47fc3"/>
<text x="553.30" y="224.03" font-size="5.65" text-anchor="end" fill="#4d4d4d" >myeloid leukocyte migration</text>
<rect x="560.49" y="226.24" width="63.12" height="7.70" fill="#b79dcf"/>
<text x="553.30" y="232.59" font-size="5.65" text-anchor="end" fill="#4d4d4d" >response to tumor necrosis factor</text>
<rect x="560.49" y="234.80" width="63.12" height="7.70" fill="#d9cfe7"/>
<text x="553.30" y="241.15" font-size="5.65" text-anchor="end" fill="#4d4d4d" >regulation of vasculature development</text>
<rect x="560.49" y="243.35" width="63.12" height="7.70" fill="#f0f2f5"/>
<text x="553.30" y="249.71" font-size="5.65" text-anchor="end" fill="#4d4d4d" >positive regulation of hydrolase activity</text>
<rect x="560.49" y="251.91" width="63.12" height="7.70" fill="#ae8eca"/>
<text x="553.30" y="258.26" font-size="5.65" text-anchor="end" fill="#4d4d4d" >leukocyte chemotaxis</text>
<rect x="556.5" y="173.6" width="87.70" height="87.30" fill="none" stroke="#6a6a6a" stroke-width="0.75"/>
<text x="560.49" y="268.00" font-size="4.9" text-anchor="middle" fill="#5e5e5e" >0</text>
<text x="577.10" y="268.00" font-size="4.9" text-anchor="middle" fill="#5e5e5e" >5</text>
<text x="593.71" y="268.00" font-size="4.9" text-anchor="middle" fill="#5e5e5e" >10</text>
<text x="610.32" y="268.00" font-size="4.9" text-anchor="middle" fill="#5e5e5e" >15</text>
<text x="626.93" y="268.00" font-size="4.9" text-anchor="middle" fill="#5e5e5e" >20</text>
<text x="643.54" y="268.00" font-size="4.9" text-anchor="middle" fill="#5e5e5e" >25</text>
<text x="600.45" y="274.90" font-size="6.3" text-anchor="middle" fill="#111" >Count</text>
<line x1="653.8" x2="656.4" y1="192.40" y2="192.40" stroke="#8a8a8a" stroke-width="0.6"/>
<text x="657.60" y="194.20" font-size="6.4" text-anchor="start" fill="#1a1a1a" >Log</text>
<text x="668.50" y="195.20" font-size="3.9" text-anchor="start" fill="#333" >10</text>
<text x="673.70" y="193.20" font-size="5.7" text-anchor="start" fill="#1a1a1a" font-weight="bold">P</text>
<text x="677.60" y="194.80" font-size="4.6" text-anchor="start" fill="#333" font-style="italic">adj</text>
<defs><linearGradient id="g140446482525696" x1="0" y1="0" x2="0" y2="1"><stop offset="0.000" stop-color="#a47fc3"/><stop offset="0.143" stop-color="#af8fca"/><stop offset="0.286" stop-color="#ba9ed0"/><stop offset="0.429" stop-color="#c4aed7"/><stop offset="0.571" stop-color="#cfbedd"/><stop offset="0.714" stop-color="#d9cee4"/><stop offset="0.857" stop-color="#e4dfeb"/><stop offset="1.000" stop-color="#eeeff1"/></linearGradient></defs>
<rect x="653.3" y="199.3" width="9.9" height="47.20" fill="url(#g140446482525696)"/>
<line x1="653.3" x2="655.3" y1="200.3" y2="200.3" stroke="#fff" stroke-width="0.4" opacity="0.35"/>
<line x1="661.1999999999999" x2="663.1999999999999" y1="200.3" y2="200.3" stroke="#fff" stroke-width="0.4" opacity="0.35"/>
<text x="666.40" y="202.30" font-size="4.9" text-anchor="start" fill="#4d4d4d" >10</text>
<line x1="653.3" x2="655.3" y1="215.7" y2="215.7" stroke="#fff" stroke-width="0.4" opacity="0.35"/>
<line x1="661.1999999999999" x2="663.1999999999999" y1="215.7" y2="215.7" stroke="#fff" stroke-width="0.4" opacity="0.35"/>
<text x="666.40" y="217.70" font-size="4.9" text-anchor="start" fill="#4d4d4d" >8</text>
<line x1="653.3" x2="655.3" y1="231.1" y2="231.1" stroke="#fff" stroke-width="0.4" opacity="0.35"/>
<line x1="661.1999999999999" x2="663.1999999999999" y1="231.1" y2="231.1" stroke="#fff" stroke-width="0.4" opacity="0.35"/>
<text x="666.40" y="233.10" font-size="4.9" text-anchor="start" fill="#4d4d4d" >6</text>
<line x1="653.3" x2="655.3" y1="246.5" y2="246.5" stroke="#fff" stroke-width="0.4" opacity="0.35"/>
<line x1="661.1999999999999" x2="663.1999999999999" y1="246.5" y2="246.5" stroke="#fff" stroke-width="0.4" opacity="0.35"/>
<text x="666.40" y="248.50" font-size="4.9" text-anchor="start" fill="#4d4d4d" >4</text>
<text x="233.50" y="296.90" font-size="9.5" text-anchor="middle" fill="#111" >Health behaviors</text>
<rect x="21.5" y="301.6" width="424.30" height="33.70" fill="#ffffff"/>
<line x1="21.5" x2="445.8" y1="305.40" y2="305.40" stroke="#f8f8f8" stroke-width="0.5"/>
<line x1="21.5" x2="445.8" y1="302.10" y2="302.10" stroke="#f8f8f8" stroke-width="0.5"/>
<line x1="21.5" x2="445.8" y1="312.00" y2="312.00" stroke="#f8f8f8" stroke-width="0.5"/>
<line x1="21.5" x2="445.8" y1="318.60" y2="318.60" stroke="#f8f8f8" stroke-width="0.5"/>
<line x1="21.5" x2="445.8" y1="325.20" y2="325.20" stroke="#f8f8f8" stroke-width="0.5"/>
<line x1="21.5" x2="445.8" y1="331.80" y2="331.80" stroke="#f8f8f8" stroke-width="0.5"/>
<line x1="21.5" x2="445.8" y1="308.70" y2="308.70" stroke="#f0f0f0" stroke-width="0.55"/>
<line x1="21.5" x2="445.8" y1="315.30" y2="315.30" stroke="#f0f0f0" stroke-width="0.55"/>
<line x1="21.5" x2="445.8" y1="321.40" y2="321.40" stroke="#f0f0f0" stroke-width="0.55"/>
<line x1="21.5" x2="445.8" y1="328.10" y2="328.10" stroke="#f0f0f0" stroke-width="0.55"/>
<line x1="21.5" x2="445.8" y1="334.40" y2="334.40" stroke="#f0f0f0" stroke-width="0.55"/>
<line x1="24.80" x2="24.80" y1="301.6" y2="335.3" stroke="#f0f0f0" stroke-width="0.5"/>
<line x1="30.29" x2="30.29" y1="301.6" y2="335.3" stroke="#f0f0f0" stroke-width="0.5"/>
<line x1="35.79" x2="35.79" y1="301.6" y2="335.3" stroke="#f0f0f0" stroke-width="0.5"/>
<line x1="41.29" x2="41.29" y1="301.6" y2="335.3" stroke="#f0f0f0" stroke-width="0.5"/>
<line x1="46.78" x2="46.78" y1="301.6" y2="335.3" stroke="#f0f0f0" stroke-width="0.5"/>
<line x1="52.28" x2="52.28" y1="301.6" y2="335.3" stroke="#f0f0f0" stroke-width="0.5"/>
<line x1="57.77" x2="57.77" y1="301.6" y2="335.3" stroke="#f0f0f0" stroke-width="0.5"/>
<line x1="63.27" x2="63.27" y1="301.6" y2="335.3" stroke="#f0f0f0" stroke-width="0.5"/>
<line x1="68.77" x2="68.77" y1="301.6" y2="335.3" stroke="#f0f0f0" stroke-width="0.5"/>
<line x1="74.26" x2="74.26" y1="301.6" y2="335.3" stroke="#f0f0f0" stroke-width="0.5"/>
<line x1="79.76" x2="79.76" y1="301.6" y2="335.3" stroke="#f0f0f0" stroke-width="0.5"/>
<line x1="85.25" x2="85.25" y1="301.6" y2="335.3" stroke="#f0f0f0" stroke-width="0.5"/>
<line x1="90.75" x2="90.75" y1="301.6" y2="335.3" stroke="#f0f0f0" stroke-width="0.5"/>
<line x1="96.25" x2="96.25" y1="301.6" y2="335.3" stroke="#f0f0f0" stroke-width="0.5"/>
<line x1="101.74" x2="101.74" y1="301.6" y2="335.3" stroke="#f0f0f0" stroke-width="0.5"/>
<line x1="107.24" x2="107.24" y1="301.6" y2="335.3" stroke="#f0f0f0" stroke-width="0.5"/>
<line x1="112.74" x2="112.74" y1="301.6" y2="335.3" stroke="#f0f0f0" stroke-width="0.5"/>
<line x1="118.23" x2="118.23" y1="301.6" y2="335.3" stroke="#f0f0f0" stroke-width="0.5"/>
<line x1="123.73" x2="123.73" y1="301.6" y2="335.3" stroke="#f0f0f0" stroke-width="0.5"/>
<line x1="129.22" x2="129.22" y1="301.6" y2="335.3" stroke="#f0f0f0" stroke-width="0.5"/>
<line x1="134.72" x2="134.72" y1="301.6" y2="335.3" stroke="#f0f0f0" stroke-width="0.5"/>
<line x1="140.22" x2="140.22" y1="301.6" y2="335.3" stroke="#f0f0f0" stroke-width="0.5"/>
<line x1="145.71" x2="145.71" y1="301.6" y2="335.3" stroke="#f0f0f0" stroke-width="0.5"/>
<line x1="151.21" x2="151.21" y1="301.6" y2="335.3" stroke="#f0f0f0" stroke-width="0.5"/>
<line x1="156.70" x2="156.70" y1="301.6" y2="335.3" stroke="#f0f0f0" stroke-width="0.5"/>
<line x1="162.20" x2="162.20" y1="301.6" y2="335.3" stroke="#f0f0f0" stroke-width="0.5"/>
<line x1="167.70" x2="167.70" y1="301.6" y2="335.3" stroke="#f0f0f0" stroke-width="0.5"/>
<line x1="173.19" x2="173.19" y1="301.6" y2="335.3" stroke="#f0f0f0" stroke-width="0.5"/>
<line x1="178.69" x2="178.69" y1="301.6" y2="335.3" stroke="#f0f0f0" stroke-width="0.5"/>
<line x1="184.18" x2="184.18" y1="301.6" y2="335.3" stroke="#f0f0f0" stroke-width="0.5"/>
<line x1="189.68" x2="189.68" y1="301.6" y2="335.3" stroke="#f0f0f0" stroke-width="0.5"/>
<line x1="195.18" x2="195.18" y1="301.6" y2="335.3" stroke="#f0f0f0" stroke-width="0.5"/>
<line x1="200.67" x2="200.67" y1="301.6" y2="335.3" stroke="#f0f0f0" stroke-width="0.5"/>
<line x1="206.17" x2="206.17" y1="301.6" y2="335.3" stroke="#f0f0f0" stroke-width="0.5"/>
<line x1="211.67" x2="211.67" y1="301.6" y2="335.3" stroke="#f0f0f0" stroke-width="0.5"/>
<line x1="217.16" x2="217.16" y1="301.6" y2="335.3" stroke="#f0f0f0" stroke-width="0.5"/>
<line x1="222.66" x2="222.66" y1="301.6" y2="335.3" stroke="#f0f0f0" stroke-width="0.5"/>
<line x1="228.15" x2="228.15" y1="301.6" y2="335.3" stroke="#f0f0f0" stroke-width="0.5"/>
<line x1="233.65" x2="233.65" y1="301.6" y2="335.3" stroke="#f0f0f0" stroke-width="0.5"/>
<line x1="239.15" x2="239.15" y1="301.6" y2="335.3" stroke="#f0f0f0" stroke-width="0.5"/>
<line x1="244.64" x2="244.64" y1="301.6" y2="335.3" stroke="#f0f0f0" stroke-width="0.5"/>
<line x1="250.14" x2="250.14" y1="301.6" y2="335.3" stroke="#f0f0f0" stroke-width="0.5"/>
<line x1="255.63" x2="255.63" y1="301.6" y2="335.3" stroke="#f0f0f0" stroke-width="0.5"/>
<line x1="261.13" x2="261.13" y1="301.6" y2="335.3" stroke="#f0f0f0" stroke-width="0.5"/>
<line x1="266.63" x2="266.63" y1="301.6" y2="335.3" stroke="#f0f0f0" stroke-width="0.5"/>
<line x1="272.12" x2="272.12" y1="301.6" y2="335.3" stroke="#f0f0f0" stroke-width="0.5"/>
<line x1="277.62" x2="277.62" y1="301.6" y2="335.3" stroke="#f0f0f0" stroke-width="0.5"/>
<line x1="283.12" x2="283.12" y1="301.6" y2="335.3" stroke="#f0f0f0" stroke-width="0.5"/>
<line x1="288.61" x2="288.61" y1="301.6" y2="335.3" stroke="#f0f0f0" stroke-width="0.5"/>
<line x1="294.11" x2="294.11" y1="301.6" y2="335.3" stroke="#f0f0f0" stroke-width="0.5"/>
<line x1="299.60" x2="299.60" y1="301.6" y2="335.3" stroke="#f0f0f0" stroke-width="0.5"/>
<line x1="305.10" x2="305.10" y1="301.6" y2="335.3" stroke="#f0f0f0" stroke-width="0.5"/>
<line x1="310.60" x2="310.60" y1="301.6" y2="335.3" stroke="#f0f0f0" stroke-width="0.5"/>
<line x1="316.09" x2="316.09" y1="301.6" y2="335.3" stroke="#f0f0f0" stroke-width="0.5"/>
<line x1="321.59" x2="321.59" y1="301.6" y2="335.3" stroke="#f0f0f0" stroke-width="0.5"/>
<line x1="327.08" x2="327.08" y1="301.6" y2="335.3" stroke="#f0f0f0" stroke-width="0.5"/>
<line x1="332.58" x2="332.58" y1="301.6" y2="335.3" stroke="#f0f0f0" stroke-width="0.5"/>
<line x1="338.08" x2="338.08" y1="301.6" y2="335.3" stroke="#f0f0f0" stroke-width="0.5"/>
<line x1="343.57" x2="343.57" y1="301.6" y2="335.3" stroke="#f0f0f0" stroke-width="0.5"/>
<line x1="349.07" x2="349.07" y1="301.6" y2="335.3" stroke="#f0f0f0" stroke-width="0.5"/>
<line x1="354.56" x2="354.56" y1="301.6" y2="335.3" stroke="#f0f0f0" stroke-width="0.5"/>
<line x1="360.06" x2="360.06" y1="301.6" y2="335.3" stroke="#f0f0f0" stroke-width="0.5"/>
<line x1="365.56" x2="365.56" y1="301.6" y2="335.3" stroke="#f0f0f0" stroke-width="0.5"/>
<line x1="371.05" x2="371.05" y1="301.6" y2="335.3" stroke="#f0f0f0" stroke-width="0.5"/>
<line x1="376.55" x2="376.55" y1="301.6" y2="335.3" stroke="#f0f0f0" stroke-width="0.5"/>
<line x1="382.05" x2="382.05" y1="301.6" y2="335.3" stroke="#f0f0f0" stroke-width="0.5"/>
<line x1="387.54" x2="387.54" y1="301.6" y2="335.3" stroke="#f0f0f0" stroke-width="0.5"/>
<line x1="393.04" x2="393.04" y1="301.6" y2="335.3" stroke="#f0f0f0" stroke-width="0.5"/>
<line x1="398.53" x2="398.53" y1="301.6" y2="335.3" stroke="#f0f0f0" stroke-width="0.5"/>
<line x1="404.03" x2="404.03" y1="301.6" y2="335.3" stroke="#f0f0f0" stroke-width="0.5"/>
<line x1="409.53" x2="409.53" y1="301.6" y2="335.3" stroke="#f0f0f0" stroke-width="0.5"/>
<line x1="415.02" x2="415.02" y1="301.6" y2="335.3" stroke="#f0f0f0" stroke-width="0.5"/>
<line x1="420.52" x2="420.52" y1="301.6" y2="335.3" stroke="#f0f0f0" stroke-width="0.5"/>
<line x1="426.01" x2="426.01" y1="301.6" y2="335.3" stroke="#f0f0f0" stroke-width="0.5"/>
<line x1="431.51" x2="431.51" y1="301.6" y2="335.3" stroke="#f0f0f0" stroke-width="0.5"/>
<line x1="437.01" x2="437.01" y1="301.6" y2="335.3" stroke="#f0f0f0" stroke-width="0.5"/>
<line x1="442.50" x2="442.50" y1="301.6" y2="335.3" stroke="#f0f0f0" stroke-width="0.5"/>
<rect x="21.5" y="301.6" width="424.30" height="33.70" fill="none" stroke="#d9d9d9" stroke-width="0.9"/>
<line x1="21.5" x2="21.5" y1="301.15000000000003" y2="335.75" stroke="#a0a0a0" stroke-width="0.9"/>
<line x1="21.5" x2="445.8" y1="335.3" y2="335.3" stroke="#a0a0a0" stroke-width="0.9"/>
<line x1="24.80" x2="24.80" y1="334.40" y2="334.00" stroke="#f3dfa3" stroke-width="0.85"/>
<line x1="30.29" x2="30.29" y1="334.40" y2="333.95" stroke="#eac150" stroke-width="0.85"/>
<line x1="35.79" x2="35.79" y1="334.40" y2="333.90" stroke="#f3dfa3" stroke-width="0.85"/>
<line x1="41.29" x2="41.29" y1="334.40" y2="333.85" stroke="#eac150" stroke-width="0.85"/>
<line x1="46.78" x2="46.78" y1="334.40" y2="333.80" stroke="#eac150" stroke-width="0.85"/>
<line x1="52.28" x2="52.28" y1="334.40" y2="333.75" stroke="#f3dfa3" stroke-width="0.85"/>
<line x1="57.77" x2="57.77" y1="334.40" y2="333.70" stroke="#eac150" stroke-width="0.85"/>
<line x1="63.27" x2="63.27" y1="334.40" y2="333.65" stroke="#eac150" stroke-width="0.85"/>
<line x1="68.77" x2="68.77" y1="334.40" y2="333.60" stroke="#eac150" stroke-width="0.85"/>
<line x1="74.26" x2="74.26" y1="334.40" y2="333.55" stroke="#eac150" stroke-width="0.85"/>
<line x1="79.76" x2="79.76" y1="334.40" y2="333.50" stroke="#eac150" stroke-width="0.85"/>
<line x1="85.25" x2="85.25" y1="334.40" y2="333.45" stroke="#f3dfa3" stroke-width="0.85"/>
<line x1="90.75" x2="90.75" y1="334.40" y2="333.40" stroke="#f3dfa3" stroke-width="0.85"/>
<line x1="96.25" x2="96.25" y1="334.40" y2="333.35" stroke="#eac150" stroke-width="0.85"/>
<line x1="101.74" x2="101.74" y1="334.40" y2="333.30" stroke="#eac150" stroke-width="0.85"/>
<line x1="107.24" x2="107.24" y1="334.40" y2="333.25" stroke="#eac150" stroke-width="0.85"/>
<line x1="112.74" x2="112.74" y1="334.40" y2="333.20" stroke="#f3dfa3" stroke-width="0.85"/>
<line x1="118.23" x2="118.23" y1="334.40" y2="333.15" stroke="#eac150" stroke-width="0.85"/>
<line x1="123.73" x2="123.73" y1="334.40" y2="333.10" stroke="#eac150" stroke-width="0.85"/>
<line x1="129.22" x2="129.22" y1="334.40" y2="333.05" stroke="#f3dfa3" stroke-width="0.85"/>
<line x1="134.72" x2="134.72" y1="334.40" y2="333.00" stroke="#eac150" stroke-width="0.85"/>
<line x1="140.22" x2="140.22" y1="334.40" y2="332.94" stroke="#eac150" stroke-width="0.85"/>
<line x1="145.71" x2="145.71" y1="334.40" y2="332.87" stroke="#eac150" stroke-width="0.85"/>
<line x1="151.21" x2="151.21" y1="334.40" y2="332.81" stroke="#eac150" stroke-width="0.85"/>
<line x1="156.70" x2="156.70" y1="334.40" y2="332.74" stroke="#eac150" stroke-width="0.85"/>
<line x1="162.20" x2="162.20" y1="334.40" y2="332.68" stroke="#f3dfa3" stroke-width="0.85"/>
<line x1="167.70" x2="167.70" y1="334.40" y2="332.61" stroke="#eac150" stroke-width="0.85"/>
<line x1="173.19" x2="173.19" y1="334.40" y2="332.55" stroke="#eac150" stroke-width="0.85"/>
<line x1="178.69" x2="178.69" y1="334.40" y2="332.48" stroke="#eac150" stroke-width="0.85"/>
<line x1="184.18" x2="184.18" y1="334.40" y2="332.42" stroke="#eac150" stroke-width="0.85"/>
<line x1="189.68" x2="189.68" y1="334.40" y2="332.35" stroke="#eac150" stroke-width="0.85"/>
<line x1="195.18" x2="195.18" y1="334.40" y2="332.28" stroke="#eac150" stroke-width="0.85"/>
<line x1="200.67" x2="200.67" y1="334.40" y2="332.22" stroke="#eac150" stroke-width="0.85"/>
<line x1="206.17" x2="206.17" y1="334.40" y2="332.15" stroke="#f3dfa3" stroke-width="0.85"/>
<line x1="211.67" x2="211.67" y1="334.40" y2="332.09" stroke="#eac150" stroke-width="0.85"/>
<line x1="217.16" x2="217.16" y1="334.40" y2="332.02" stroke="#eac150" stroke-width="0.85"/>
<line x1="222.66" x2="222.66" y1="334.40" y2="331.96" stroke="#eac150" stroke-width="0.85"/>
<line x1="228.15" x2="228.15" y1="334.40" y2="331.89" stroke="#eac150" stroke-width="0.85"/>
<line x1="233.65" x2="233.65" y1="334.40" y2="331.83" stroke="#eac150" stroke-width="0.85"/>
<line x1="239.15" x2="239.15" y1="334.40" y2="331.76" stroke="#eac150" stroke-width="0.85"/>
<line x1="244.64" x2="244.64" y1="334.40" y2="331.70" stroke="#eac150" stroke-width="0.85"/>
<line x1="250.14" x2="250.14" y1="334.40" y2="331.57" stroke="#f3dfa3" stroke-width="0.85"/>
<line x1="255.63" x2="255.63" y1="334.40" y2="331.45" stroke="#f3dfa3" stroke-width="0.85"/>
<line x1="261.13" x2="261.13" y1="334.40" y2="331.32" stroke="#eac150" stroke-width="0.85"/>
<line x1="266.63" x2="266.63" y1="334.40" y2="331.20" stroke="#f3dfa3" stroke-width="0.85"/>
<line x1="272.12" x2="272.12" y1="334.40" y2="331.07" stroke="#f3dfa3" stroke-width="0.85"/>
<line x1="277.62" x2="277.62" y1="334.40" y2="330.95" stroke="#eac150" stroke-width="0.85"/>
<line x1="283.12" x2="283.12" y1="334.40" y2="330.82" stroke="#eac150" stroke-width="0.85"/>
<line x1="288.61" x2="288.61" y1="334.40" y2="330.70" stroke="#eac150" stroke-width="0.85"/>
<line x1="294.11" x2="294.11" y1="334.40" y2="330.57" stroke="#eac150" stroke-width="0.85"/>
<line x1="299.60" x2="299.60" y1="334.40" y2="330.45" stroke="#f3dfa3" stroke-width="0.85"/>
<line x1="305.10" x2="305.10" y1="334.40" y2="330.32" stroke="#eac150" stroke-width="0.85"/>
<line x1="310.60" x2="310.60" y1="334.40" y2="330.20" stroke="#eac150" stroke-width="0.85"/>
<line x1="316.09" x2="316.09" y1="334.40" y2="330.07" stroke="#f3dfa3" stroke-width="0.85"/>
<line x1="321.59" x2="321.59" y1="334.40" y2="329.95" stroke="#f3dfa3" stroke-width="0.85"/>
<line x1="327.08" x2="327.08" y1="334.40" y2="329.82" stroke="#eac150" stroke-width="0.85"/>
<line x1="332.58" x2="332.58" y1="334.40" y2="329.70" stroke="#f3dfa3" stroke-width="0.85"/>
<line x1="338.08" x2="338.08" y1="334.40" y2="329.40" stroke="#eac150" stroke-width="0.85"/>
<line x1="343.57" x2="343.57" y1="334.40" y2="329.20" stroke="#eac150" stroke-width="0.85"/>
<line x1="349.07" x2="349.07" y1="334.40" y2="329.00" stroke="#eac150" stroke-width="0.85"/>
<line x1="354.56" x2="354.56" y1="334.40" y2="328.40" stroke="#eac150" stroke-width="0.85"/>
<line x1="360.06" x2="360.06" y1="334.40" y2="328.00" stroke="#eac150" stroke-width="0.85"/>
<line x1="365.56" x2="365.56" y1="334.40" y2="327.30" stroke="#eac150" stroke-width="0.85"/>
<line x1="371.05" x2="371.05" y1="334.40" y2="326.90" stroke="#eac150" stroke-width="0.85"/>
<line x1="376.55" x2="376.55" y1="334.40" y2="326.70" stroke="#f3dfa3" stroke-width="0.85"/>
<line x1="382.05" x2="382.05" y1="334.40" y2="326.50" stroke="#f3dfa3" stroke-width="0.85"/>
<line x1="387.54" x2="387.54" y1="334.40" y2="326.10" stroke="#f3dfa3" stroke-width="0.85"/>
<line x1="393.04" x2="393.04" y1="334.40" y2="325.90" stroke="#eac150" stroke-width="0.85"/>
<line x1="398.53" x2="398.53" y1="334.40" y2="325.70" stroke="#eac150" stroke-width="0.85"/>
<line x1="404.03" x2="404.03" y1="334.40" y2="325.40" stroke="#f3dfa3" stroke-width="0.85"/>
<line x1="409.53" x2="409.53" y1="334.40" y2="324.40" stroke="#eac150" stroke-width="0.85"/>
<line x1="415.02" x2="415.02" y1="334.40" y2="323.50" stroke="#eac150" stroke-width="0.85"/>
<line x1="420.52" x2="420.52" y1="334.40" y2="323.50" stroke="#eac150" stroke-width="0.85"/>
<line x1="426.01" x2="426.01" y1="334.40" y2="323.30" stroke="#eac150" stroke-width="0.85"/>
<line x1="431.51" x2="431.51" y1="334.40" y2="322.10" stroke="#f3dfa3" stroke-width="0.85"/>
<line x1="437.01" x2="437.01" y1="334.40" y2="319.30" stroke="#eac150" stroke-width="0.85"/>
<line x1="442.50" x2="442.50" y1="334.40" y2="303.00" stroke="#eac150" stroke-width="0.85"/>
<circle cx="24.80" cy="334.00" r="1.4" fill="#e8bb38"/>
<circle cx="30.29" cy="333.95" r="1.4" fill="#e8bb38"/>
<circle cx="35.79" cy="333.90" r="1.4" fill="#e8bb38"/>
<circle cx="41.29" cy="333.85" r="1.4" fill="#e8bb38"/>
<circle cx="46.78" cy="333.80" r="1.4" fill="#e8bb38"/>
<circle cx="52.28" cy="333.75" r="1.4" fill="#e8bb38"/>
<circle cx="57.77" cy="333.70" r="1.4" fill="#e8bb38"/>
<circle cx="63.27" cy="333.65" r="1.4" fill="#e8bb38"/>
<circle cx="68.77" cy="333.60" r="1.4" fill="#e8bb38"/>
<circle cx="74.26" cy="333.55" r="1.4" fill="#e8bb38"/>
<circle cx="79.76" cy="333.50" r="1.4" fill="#e8bb38"/>
<circle cx="85.25" cy="333.45" r="1.4" fill="#e8bb38"/>
<circle cx="90.75" cy="333.40" r="1.4" fill="#e8bb38"/>
<circle cx="96.25" cy="333.35" r="1.4" fill="#e8bb38"/>
<circle cx="101.74" cy="333.30" r="1.4" fill="#e8bb38"/>
<circle cx="107.24" cy="333.25" r="1.4" fill="#e8bb38"/>
<circle cx="112.74" cy="333.20" r="1.4" fill="#e8bb38"/>
<circle cx="118.23" cy="333.15" r="1.4" fill="#e8bb38"/>
<circle cx="123.73" cy="333.10" r="1.4" fill="#e8bb38"/>
<circle cx="129.22" cy="333.05" r="1.4" fill="#e8bb38"/>
<circle cx="134.72" cy="333.00" r="1.4" fill="#e8bb38"/>
<circle cx="140.22" cy="332.94" r="1.4" fill="#e8bb38"/>
<circle cx="145.71" cy="332.87" r="1.4" fill="#e8bb38"/>
<circle cx="151.21" cy="332.81" r="1.4" fill="#e8bb38"/>
<circle cx="156.70" cy="332.74" r="1.4" fill="#e8bb38"/>
<circle cx="162.20" cy="332.68" r="1.4" fill="#e8bb38"/>
<circle cx="167.70" cy="332.61" r="1.4" fill="#e8bb38"/>
<circle cx="173.19" cy="332.55" r="1.4" fill="#e8bb38"/>
<circle cx="178.69" cy="332.48" r="1.4" fill="#e8bb38"/>
<circle cx="184.18" cy="332.42" r="1.4" fill="#e8bb38"/>
<circle cx="189.68" cy="332.35" r="1.4" fill="#e8bb38"/>
<circle cx="195.18" cy="332.28" r="1.4" fill="#e8bb38"/>
<circle cx="200.67" cy="332.22" r="1.4" fill="#e8bb38"/>
<circle cx="206.17" cy="332.15" r="1.4" fill="#e8bb38"/>
<circle cx="211.67" cy="332.09" r="1.4" fill="#e8bb38"/>
<circle cx="217.16" cy="332.02" r="1.4" fill="#e8bb38"/>
<circle cx="222.66" cy="331.96" r="1.4" fill="#e8bb38"/>
<circle cx="228.15" cy="331.89" r="1.4" fill="#e8bb38"/>
<circle cx="233.65" cy="331.83" r="1.4" fill="#e8bb38"/>
<circle cx="239.15" cy="331.76" r="1.4" fill="#e8bb38"/>
<circle cx="244.64" cy="331.70" r="1.4" fill="#e8bb38"/>
<circle cx="250.14" cy="331.57" r="1.4" fill="#e8bb38"/>
<circle cx="255.63" cy="331.45" r="1.4" fill="#e8bb38"/>
<circle cx="261.13" cy="331.32" r="1.4" fill="#e8bb38"/>
<circle cx="266.63" cy="331.20" r="1.4" fill="#e8bb38"/>
<circle cx="272.12" cy="331.07" r="1.4" fill="#e8bb38"/>
<circle cx="277.62" cy="330.95" r="1.4" fill="#e8bb38"/>
<circle cx="283.12" cy="330.82" r="1.4" fill="#e8bb38"/>
<circle cx="288.61" cy="330.70" r="1.4" fill="#e8bb38"/>
<circle cx="294.11" cy="330.57" r="1.4" fill="#e8bb38"/>
<circle cx="299.60" cy="330.45" r="1.4" fill="#e8bb38"/>
<circle cx="305.10" cy="330.32" r="1.4" fill="#e8bb38"/>
<circle cx="310.60" cy="330.20" r="1.4" fill="#e8bb38"/>
<circle cx="316.09" cy="330.07" r="1.4" fill="#e8bb38"/>
<circle cx="321.59" cy="329.95" r="1.4" fill="#e8bb38"/>
<circle cx="327.08" cy="329.82" r="1.4" fill="#e8bb38"/>
<circle cx="332.58" cy="329.70" r="1.4" fill="#e8bb38"/>
<circle cx="338.08" cy="329.40" r="1.4" fill="#e8bb38"/>
<circle cx="343.57" cy="329.20" r="1.4" fill="#e8bb38"/>
<circle cx="349.07" cy="329.00" r="1.4" fill="#e8bb38"/>
<circle cx="354.56" cy="328.40" r="1.4" fill="#e8bb38"/>
<circle cx="360.06" cy="328.00" r="1.4" fill="#e8bb38"/>
<circle cx="365.56" cy="327.30" r="1.4" fill="#e8bb38"/>
<circle cx="371.05" cy="326.90" r="1.4" fill="#e8bb38"/>
<circle cx="376.55" cy="326.70" r="1.4" fill="#e8bb38"/>
<circle cx="382.05" cy="326.50" r="1.4" fill="#e8bb38"/>
<circle cx="387.54" cy="326.10" r="1.4" fill="#e8bb38"/>
<circle cx="393.04" cy="325.90" r="1.4" fill="#e8bb38"/>
<circle cx="398.53" cy="325.70" r="1.4" fill="#e8bb38"/>
<circle cx="404.03" cy="325.40" r="1.4" fill="#e8bb38"/>
<circle cx="409.53" cy="324.40" r="1.4" fill="#e8bb38"/>
<circle cx="415.02" cy="323.50" r="1.4" fill="#e8bb38"/>
<circle cx="420.52" cy="323.50" r="1.4" fill="#e8bb38"/>
<circle cx="426.01" cy="323.30" r="1.4" fill="#e8bb38"/>
<circle cx="431.51" cy="322.10" r="1.4" fill="#e8bb38"/>
<circle cx="437.01" cy="319.30" r="1.4" fill="#e8bb38"/>
<circle cx="442.50" cy="303.00" r="1.4" fill="#e8bb38"/>
<line x1="19.80" x2="21.5" y1="308.7" y2="308.7" stroke="#333" stroke-width="0.6"/>
<text x="18.90" y="310.80" font-size="4.9" text-anchor="end" fill="#555555" >0.20</text>
<line x1="19.80" x2="21.5" y1="315.3" y2="315.3" stroke="#333" stroke-width="0.6"/>
<text x="18.90" y="317.40" font-size="4.9" text-anchor="end" fill="#555555" >0.15</text>
<line x1="19.80" x2="21.5" y1="321.4" y2="321.4" stroke="#333" stroke-width="0.6"/>
<text x="18.90" y="323.50" font-size="4.9" text-anchor="end" fill="#555555" >0.10</text>
<line x1="19.80" x2="21.5" y1="328.1" y2="328.1" stroke="#333" stroke-width="0.6"/>
<text x="18.90" y="330.20" font-size="4.9" text-anchor="end" fill="#555555" >0.05</text>
<line x1="19.80" x2="21.5" y1="334.4" y2="334.4" stroke="#333" stroke-width="0.6"/>
<text x="18.90" y="336.50" font-size="4.9" text-anchor="end" fill="#555555" >0.00</text>
<line x1="24.80" x2="24.80" y1="335.3" y2="337.00" stroke="#333" stroke-width="0.6"/>
<text transform="translate(27.70,339.70) rotate(-60)" font-size="5.0" text-anchor="end" fill="#444444">HYAL1</text>
<line x1="30.29" x2="30.29" y1="335.3" y2="337.00" stroke="#333" stroke-width="0.6"/>
<text transform="translate(33.19,339.70) rotate(-60)" font-size="5.0" text-anchor="end" fill="#444444">GPR37</text>
<line x1="35.79" x2="35.79" y1="335.3" y2="337.00" stroke="#333" stroke-width="0.6"/>
<text transform="translate(38.69,339.70) rotate(-60)" font-size="5.0" text-anchor="end" fill="#444444">CEACAM6</text>
<line x1="41.29" x2="41.29" y1="335.3" y2="337.00" stroke="#333" stroke-width="0.6"/>
<text transform="translate(44.19,339.70) rotate(-60)" font-size="5.0" text-anchor="end" fill="#444444">IL17C</text>
<line x1="46.78" x2="46.78" y1="335.3" y2="337.00" stroke="#333" stroke-width="0.6"/>
<text transform="translate(49.68,339.70) rotate(-60)" font-size="5.0" text-anchor="end" fill="#444444">SERPING1</text>
<line x1="52.28" x2="52.28" y1="335.3" y2="337.00" stroke="#333" stroke-width="0.6"/>
<text transform="translate(55.18,339.70) rotate(-60)" font-size="5.0" text-anchor="end" fill="#444444">SCRG1</text>
<line x1="57.77" x2="57.77" y1="335.3" y2="337.00" stroke="#333" stroke-width="0.6"/>
<text transform="translate(60.67,339.70) rotate(-60)" font-size="5.0" text-anchor="end" fill="#444444">STC1</text>
<line x1="63.27" x2="63.27" y1="335.3" y2="337.00" stroke="#333" stroke-width="0.6"/>
<text transform="translate(66.17,339.70) rotate(-60)" font-size="5.0" text-anchor="end" fill="#444444">ST6GAL2</text>
<line x1="68.77" x2="68.77" y1="335.3" y2="337.00" stroke="#333" stroke-width="0.6"/>
<text transform="translate(71.67,339.70) rotate(-60)" font-size="5.0" text-anchor="end" fill="#444444">IL1RL1</text>
<line x1="74.26" x2="74.26" y1="335.3" y2="337.00" stroke="#333" stroke-width="0.6"/>
<text transform="translate(77.16,339.70) rotate(-60)" font-size="5.0" text-anchor="end" fill="#444444">REN</text>
<line x1="79.76" x2="79.76" y1="335.3" y2="337.00" stroke="#333" stroke-width="0.6"/>
<text transform="translate(82.66,339.70) rotate(-60)" font-size="5.0" text-anchor="end" fill="#444444">FAM3B</text>
<line x1="85.25" x2="85.25" y1="335.3" y2="337.00" stroke="#333" stroke-width="0.6"/>
<text transform="translate(88.15,339.70) rotate(-60)" font-size="5.0" text-anchor="end" fill="#444444">CXCL1</text>
<line x1="90.75" x2="90.75" y1="335.3" y2="337.00" stroke="#333" stroke-width="0.6"/>
<text transform="translate(93.65,339.70) rotate(-60)" font-size="5.0" text-anchor="end" fill="#444444">EPHA2</text>
<line x1="96.25" x2="96.25" y1="335.3" y2="337.00" stroke="#333" stroke-width="0.6"/>
<text transform="translate(99.15,339.70) rotate(-60)" font-size="5.0" text-anchor="end" fill="#444444">FAM3C</text>
<line x1="101.74" x2="101.74" y1="335.3" y2="337.00" stroke="#333" stroke-width="0.6"/>
<text transform="translate(104.64,339.70) rotate(-60)" font-size="5.0" text-anchor="end" fill="#444444">ITGAV</text>
<line x1="107.24" x2="107.24" y1="335.3" y2="337.00" stroke="#333" stroke-width="0.6"/>
<text transform="translate(110.14,339.70) rotate(-60)" font-size="5.0" text-anchor="end" fill="#444444">TPP1</text>
<line x1="112.74" x2="112.74" y1="335.3" y2="337.00" stroke="#333" stroke-width="0.6"/>
<text transform="translate(115.64,339.70) rotate(-60)" font-size="5.0" text-anchor="end" fill="#444444">SPINK4</text>
<line x1="118.23" x2="118.23" y1="335.3" y2="337.00" stroke="#333" stroke-width="0.6"/>
<text transform="translate(121.13,339.70) rotate(-60)" font-size="5.0" text-anchor="end" fill="#444444">B3GNT7</text>
<line x1="123.73" x2="123.73" y1="335.3" y2="337.00" stroke="#333" stroke-width="0.6"/>
<text transform="translate(126.63,339.70) rotate(-60)" font-size="5.0" text-anchor="end" fill="#444444">CD59</text>
<line x1="129.22" x2="129.22" y1="335.3" y2="337.00" stroke="#333" stroke-width="0.6"/>
<text transform="translate(132.12,339.70) rotate(-60)" font-size="5.0" text-anchor="end" fill="#444444">ADAMTSL2</text>
<line x1="134.72" x2="134.72" y1="335.3" y2="337.00" stroke="#333" stroke-width="0.6"/>
<text transform="translate(137.62,339.70) rotate(-60)" font-size="5.0" text-anchor="end" fill="#444444">SPON2</text>
<line x1="140.22" x2="140.22" y1="335.3" y2="337.00" stroke="#333" stroke-width="0.6"/>
<text transform="translate(143.12,339.70) rotate(-60)" font-size="5.0" text-anchor="end" fill="#444444">CTSD</text>
<line x1="145.71" x2="145.71" y1="335.3" y2="337.00" stroke="#333" stroke-width="0.6"/>
<text transform="translate(148.61,339.70) rotate(-60)" font-size="5.0" text-anchor="end" fill="#444444">MLN</text>
<line x1="151.21" x2="151.21" y1="335.3" y2="337.00" stroke="#333" stroke-width="0.6"/>
<text transform="translate(154.11,339.70) rotate(-60)" font-size="5.0" text-anchor="end" fill="#444444">SUSD2</text>
<line x1="156.70" x2="156.70" y1="335.3" y2="337.00" stroke="#333" stroke-width="0.6"/>
<text transform="translate(159.60,339.70) rotate(-60)" font-size="5.0" text-anchor="end" fill="#444444">ANXA9</text>
<line x1="162.20" x2="162.20" y1="335.3" y2="337.00" stroke="#333" stroke-width="0.6"/>
<text transform="translate(165.10,339.70) rotate(-60)" font-size="5.0" text-anchor="end" fill="#444444">LAMP3</text>
<line x1="167.70" x2="167.70" y1="335.3" y2="337.00" stroke="#333" stroke-width="0.6"/>
<text transform="translate(170.60,339.70) rotate(-60)" font-size="5.0" text-anchor="end" fill="#444444">CXCL17</text>
<line x1="173.19" x2="173.19" y1="335.3" y2="337.00" stroke="#333" stroke-width="0.6"/>
<text transform="translate(176.09,339.70) rotate(-60)" font-size="5.0" text-anchor="end" fill="#444444">ALPP</text>
<line x1="178.69" x2="178.69" y1="335.3" y2="337.00" stroke="#333" stroke-width="0.6"/>
<text transform="translate(181.59,339.70) rotate(-60)" font-size="5.0" text-anchor="end" fill="#444444">IL5</text>
<line x1="184.18" x2="184.18" y1="335.3" y2="337.00" stroke="#333" stroke-width="0.6"/>
<text transform="translate(187.08,339.70) rotate(-60)" font-size="5.0" text-anchor="end" fill="#444444">GAST</text>
<line x1="189.68" x2="189.68" y1="335.3" y2="337.00" stroke="#333" stroke-width="0.6"/>
<text transform="translate(192.58,339.70) rotate(-60)" font-size="5.0" text-anchor="end" fill="#444444">CD300LF</text>
<line x1="195.18" x2="195.18" y1="335.3" y2="337.00" stroke="#333" stroke-width="0.6"/>
<text transform="translate(198.08,339.70) rotate(-60)" font-size="5.0" text-anchor="end" fill="#444444">NPPB</text>
<line x1="200.67" x2="200.67" y1="335.3" y2="337.00" stroke="#333" stroke-width="0.6"/>
<text transform="translate(203.57,339.70) rotate(-60)" font-size="5.0" text-anchor="end" fill="#444444">CD70</text>
<line x1="206.17" x2="206.17" y1="335.3" y2="337.00" stroke="#333" stroke-width="0.6"/>
<text transform="translate(209.07,339.70) rotate(-60)" font-size="5.0" text-anchor="end" fill="#444444">ADGRG1</text>
<line x1="211.67" x2="211.67" y1="335.3" y2="337.00" stroke="#333" stroke-width="0.6"/>
<text transform="translate(214.57,339.70) rotate(-60)" font-size="5.0" text-anchor="end" fill="#444444">CTSV</text>
<line x1="217.16" x2="217.16" y1="335.3" y2="337.00" stroke="#333" stroke-width="0.6"/>
<text transform="translate(220.06,339.70) rotate(-60)" font-size="5.0" text-anchor="end" fill="#444444">TYRP1</text>
<line x1="222.66" x2="222.66" y1="335.3" y2="337.00" stroke="#333" stroke-width="0.6"/>
<text transform="translate(225.56,339.70) rotate(-60)" font-size="5.0" text-anchor="end" fill="#444444">ENAH</text>
<line x1="228.15" x2="228.15" y1="335.3" y2="337.00" stroke="#333" stroke-width="0.6"/>
<text transform="translate(231.05,339.70) rotate(-60)" font-size="5.0" text-anchor="end" fill="#444444">GRN</text>
<line x1="233.65" x2="233.65" y1="335.3" y2="337.00" stroke="#333" stroke-width="0.6"/>
<text transform="translate(236.55,339.70) rotate(-60)" font-size="5.0" text-anchor="end" fill="#444444">SIGLEC9</text>
<line x1="239.15" x2="239.15" y1="335.3" y2="337.00" stroke="#333" stroke-width="0.6"/>
<text transform="translate(242.05,339.70) rotate(-60)" font-size="5.0" text-anchor="end" fill="#444444">LAMA4</text>
<line x1="244.64" x2="244.64" y1="335.3" y2="337.00" stroke="#333" stroke-width="0.6"/>
<text transform="translate(247.54,339.70) rotate(-60)" font-size="5.0" text-anchor="end" fill="#444444">CKB</text>
<line x1="250.14" x2="250.14" y1="335.3" y2="337.00" stroke="#333" stroke-width="0.6"/>
<text transform="translate(253.04,339.70) rotate(-60)" font-size="5.0" text-anchor="end" fill="#444444">CCL3</text>
<line x1="255.63" x2="255.63" y1="335.3" y2="337.00" stroke="#333" stroke-width="0.6"/>
<text transform="translate(258.53,339.70) rotate(-60)" font-size="5.0" text-anchor="end" fill="#444444">ACVRL1</text>
<line x1="261.13" x2="261.13" y1="335.3" y2="337.00" stroke="#333" stroke-width="0.6"/>
<text transform="translate(264.03,339.70) rotate(-60)" font-size="5.0" text-anchor="end" fill="#444444">CHRDL1</text>
<line x1="266.63" x2="266.63" y1="335.3" y2="337.00" stroke="#333" stroke-width="0.6"/>
<text transform="translate(269.53,339.70) rotate(-60)" font-size="5.0" text-anchor="end" fill="#444444">AMBP</text>
<line x1="272.12" x2="272.12" y1="335.3" y2="337.00" stroke="#333" stroke-width="0.6"/>
<text transform="translate(275.02,339.70) rotate(-60)" font-size="5.0" text-anchor="end" fill="#444444">OSMR</text>
<line x1="277.62" x2="277.62" y1="335.3" y2="337.00" stroke="#333" stroke-width="0.6"/>
<text transform="translate(280.52,339.70) rotate(-60)" font-size="5.0" text-anchor="end" fill="#444444">SIGLEC1</text>
<line x1="283.12" x2="283.12" y1="335.3" y2="337.00" stroke="#333" stroke-width="0.6"/>
<text transform="translate(286.02,339.70) rotate(-60)" font-size="5.0" text-anchor="end" fill="#444444">SIGLEC7</text>
<line x1="288.61" x2="288.61" y1="335.3" y2="337.00" stroke="#333" stroke-width="0.6"/>
<text transform="translate(291.51,339.70) rotate(-60)" font-size="5.0" text-anchor="end" fill="#444444">LILRA5</text>
<line x1="294.11" x2="294.11" y1="335.3" y2="337.00" stroke="#333" stroke-width="0.6"/>
<text transform="translate(297.01,339.70) rotate(-60)" font-size="5.0" text-anchor="end" fill="#444444">IL6</text>
<line x1="299.60" x2="299.60" y1="335.3" y2="337.00" stroke="#333" stroke-width="0.6"/>
<text transform="translate(302.50,339.70) rotate(-60)" font-size="5.0" text-anchor="end" fill="#444444">IGFBP1</text>
<line x1="305.10" x2="305.10" y1="335.3" y2="337.00" stroke="#333" stroke-width="0.6"/>
<text transform="translate(308.00,339.70) rotate(-60)" font-size="5.0" text-anchor="end" fill="#444444">MYOC</text>
<line x1="310.60" x2="310.60" y1="335.3" y2="337.00" stroke="#333" stroke-width="0.6"/>
<text transform="translate(313.50,339.70) rotate(-60)" font-size="5.0" text-anchor="end" fill="#444444">SOD2</text>
<line x1="316.09" x2="316.09" y1="335.3" y2="337.00" stroke="#333" stroke-width="0.6"/>
<text transform="translate(318.99,339.70) rotate(-60)" font-size="5.0" text-anchor="end" fill="#444444">GDF15</text>
<line x1="321.59" x2="321.59" y1="335.3" y2="337.00" stroke="#333" stroke-width="0.6"/>
<text transform="translate(324.49,339.70) rotate(-60)" font-size="5.0" text-anchor="end" fill="#444444">LILRA4</text>
<line x1="327.08" x2="327.08" y1="335.3" y2="337.00" stroke="#333" stroke-width="0.6"/>
<text transform="translate(329.98,339.70) rotate(-60)" font-size="5.0" text-anchor="end" fill="#444444">STC2</text>
<line x1="332.58" x2="332.58" y1="335.3" y2="337.00" stroke="#333" stroke-width="0.6"/>
<text transform="translate(335.48,339.70) rotate(-60)" font-size="5.0" text-anchor="end" fill="#444444">CCL16</text>
<line x1="338.08" x2="338.08" y1="335.3" y2="337.00" stroke="#333" stroke-width="0.6"/>
<text transform="translate(340.98,339.70) rotate(-60)" font-size="5.0" text-anchor="end" fill="#444444">CD63</text>
<line x1="343.57" x2="343.57" y1="335.3" y2="337.00" stroke="#333" stroke-width="0.6"/>
<text transform="translate(346.47,339.70) rotate(-60)" font-size="5.0" text-anchor="end" fill="#444444">CKM</text>
<line x1="349.07" x2="349.07" y1="335.3" y2="337.00" stroke="#333" stroke-width="0.6"/>
<text transform="translate(351.97,339.70) rotate(-60)" font-size="5.0" text-anchor="end" fill="#444444">TIMD4</text>
<line x1="354.56" x2="354.56" y1="335.3" y2="337.00" stroke="#333" stroke-width="0.6"/>
<text transform="translate(357.46,339.70) rotate(-60)" font-size="5.0" text-anchor="end" fill="#444444">CEACAM5</text>
<line x1="360.06" x2="360.06" y1="335.3" y2="337.00" stroke="#333" stroke-width="0.6"/>
<text transform="translate(362.96,339.70) rotate(-60)" font-size="5.0" text-anchor="end" fill="#444444">LIMS2</text>
<line x1="365.56" x2="365.56" y1="335.3" y2="337.00" stroke="#333" stroke-width="0.6"/>
<text transform="translate(368.46,339.70) rotate(-60)" font-size="5.0" text-anchor="end" fill="#444444">KLK4</text>
<line x1="371.05" x2="371.05" y1="335.3" y2="337.00" stroke="#333" stroke-width="0.6"/>
<text transform="translate(373.95,339.70) rotate(-60)" font-size="5.0" text-anchor="end" fill="#444444">CXCL5</text>
<line x1="376.55" x2="376.55" y1="335.3" y2="337.00" stroke="#333" stroke-width="0.6"/>
<text transform="translate(379.45,339.70) rotate(-60)" font-size="5.0" text-anchor="end" fill="#444444">CA14</text>
<line x1="382.05" x2="382.05" y1="335.3" y2="337.00" stroke="#333" stroke-width="0.6"/>
<text transform="translate(384.95,339.70) rotate(-60)" font-size="5.0" text-anchor="end" fill="#444444">EDAR</text>
<line x1="387.54" x2="387.54" y1="335.3" y2="337.00" stroke="#333" stroke-width="0.6"/>
<text transform="translate(390.44,339.70) rotate(-60)" font-size="5.0" text-anchor="end" fill="#444444">CA4</text>
<line x1="393.04" x2="393.04" y1="335.3" y2="337.00" stroke="#333" stroke-width="0.6"/>
<text transform="translate(395.94,339.70) rotate(-60)" font-size="5.0" text-anchor="end" fill="#444444">TFF1</text>
<line x1="398.53" x2="398.53" y1="335.3" y2="337.00" stroke="#333" stroke-width="0.6"/>
<text transform="translate(401.43,339.70) rotate(-60)" font-size="5.0" text-anchor="end" fill="#444444">NCAN</text>
<line x1="404.03" x2="404.03" y1="335.3" y2="337.00" stroke="#333" stroke-width="0.6"/>
<text transform="translate(406.93,339.70) rotate(-60)" font-size="5.0" text-anchor="end" fill="#444444">SPINT3</text>
<line x1="409.53" x2="409.53" y1="335.3" y2="337.00" stroke="#333" stroke-width="0.6"/>
<text transform="translate(412.43,339.70) rotate(-60)" font-size="5.0" text-anchor="end" fill="#444444">CXCL8</text>
<line x1="415.02" x2="415.02" y1="335.3" y2="337.00" stroke="#333" stroke-width="0.6"/>
<text transform="translate(417.92,339.70) rotate(-60)" font-size="5.0" text-anchor="end" fill="#444444">CDH17</text>
<line x1="420.52" x2="420.52" y1="335.3" y2="337.00" stroke="#333" stroke-width="0.6"/>
<text transform="translate(423.42,339.70) rotate(-60)" font-size="5.0" text-anchor="end" fill="#444444">SMOC2</text>
<line x1="426.01" x2="426.01" y1="335.3" y2="337.00" stroke="#333" stroke-width="0.6"/>
<text transform="translate(428.91,339.70) rotate(-60)" font-size="5.0" text-anchor="end" fill="#444444">TNFRSF10A</text>
<line x1="431.51" x2="431.51" y1="335.3" y2="337.00" stroke="#333" stroke-width="0.6"/>
<text transform="translate(434.41,339.70) rotate(-60)" font-size="5.0" text-anchor="end" fill="#444444">ITGB6</text>
<line x1="437.01" x2="437.01" y1="335.3" y2="337.00" stroke="#333" stroke-width="0.6"/>
<text transform="translate(439.91,339.70) rotate(-60)" font-size="5.0" text-anchor="end" fill="#444444">FSTL3</text>
<line x1="442.50" x2="442.50" y1="335.3" y2="337.00" stroke="#333" stroke-width="0.6"/>
<text transform="translate(445.40,339.70) rotate(-60)" font-size="5.0" text-anchor="end" fill="#444444">IGFBP4</text>
<rect x="446.55" y="302.35" width="8.00" height="33.00" fill="#f1df9a" stroke="#6b6040" stroke-width="0.7"/>
<text transform="translate(448.95,318.45) rotate(90)" font-size="4.8" text-anchor="middle" fill="#1a1a1a">Positive</text>
<rect x="21.5" y="367.4" width="424.30" height="34.10" fill="#ffffff"/>
<line x1="21.5" x2="445.8" y1="372.15" y2="372.15" stroke="#f8f8f8" stroke-width="0.5"/>
<line x1="21.5" x2="445.8" y1="378.85" y2="378.85" stroke="#f8f8f8" stroke-width="0.5"/>
<line x1="21.5" x2="445.8" y1="385.55" y2="385.55" stroke="#f8f8f8" stroke-width="0.5"/>
<line x1="21.5" x2="445.8" y1="392.25" y2="392.25" stroke="#f8f8f8" stroke-width="0.5"/>
<line x1="21.5" x2="445.8" y1="398.95" y2="398.95" stroke="#f8f8f8" stroke-width="0.5"/>
<line x1="21.5" x2="445.8" y1="368.80" y2="368.80" stroke="#f0f0f0" stroke-width="0.55"/>
<line x1="21.5" x2="445.8" y1="375.50" y2="375.50" stroke="#f0f0f0" stroke-width="0.55"/>
<line x1="21.5" x2="445.8" y1="382.20" y2="382.20" stroke="#f0f0f0" stroke-width="0.55"/>
<line x1="21.5" x2="445.8" y1="389.20" y2="389.20" stroke="#f0f0f0" stroke-width="0.55"/>
<line x1="21.5" x2="445.8" y1="395.70" y2="395.70" stroke="#f0f0f0" stroke-width="0.55"/>
<line x1="24.60" x2="24.60" y1="367.4" y2="401.5" stroke="#f0f0f0" stroke-width="0.5"/>
<line x1="29.76" x2="29.76" y1="367.4" y2="401.5" stroke="#f0f0f0" stroke-width="0.5"/>
<line x1="34.92" x2="34.92" y1="367.4" y2="401.5" stroke="#f0f0f0" stroke-width="0.5"/>
<line x1="40.08" x2="40.08" y1="367.4" y2="401.5" stroke="#f0f0f0" stroke-width="0.5"/>
<line x1="45.24" x2="45.24" y1="367.4" y2="401.5" stroke="#f0f0f0" stroke-width="0.5"/>
<line x1="50.41" x2="50.41" y1="367.4" y2="401.5" stroke="#f0f0f0" stroke-width="0.5"/>
<line x1="55.57" x2="55.57" y1="367.4" y2="401.5" stroke="#f0f0f0" stroke-width="0.5"/>
<line x1="60.73" x2="60.73" y1="367.4" y2="401.5" stroke="#f0f0f0" stroke-width="0.5"/>
<line x1="65.89" x2="65.89" y1="367.4" y2="401.5" stroke="#f0f0f0" stroke-width="0.5"/>
<line x1="71.05" x2="71.05" y1="367.4" y2="401.5" stroke="#f0f0f0" stroke-width="0.5"/>
<line x1="76.22" x2="76.22" y1="367.4" y2="401.5" stroke="#f0f0f0" stroke-width="0.5"/>
<line x1="81.38" x2="81.38" y1="367.4" y2="401.5" stroke="#f0f0f0" stroke-width="0.5"/>
<line x1="86.54" x2="86.54" y1="367.4" y2="401.5" stroke="#f0f0f0" stroke-width="0.5"/>
<line x1="91.70" x2="91.70" y1="367.4" y2="401.5" stroke="#f0f0f0" stroke-width="0.5"/>
<line x1="96.86" x2="96.86" y1="367.4" y2="401.5" stroke="#f0f0f0" stroke-width="0.5"/>
<line x1="102.02" x2="102.02" y1="367.4" y2="401.5" stroke="#f0f0f0" stroke-width="0.5"/>
<line x1="107.19" x2="107.19" y1="367.4" y2="401.5" stroke="#f0f0f0" stroke-width="0.5"/>
<line x1="112.35" x2="112.35" y1="367.4" y2="401.5" stroke="#f0f0f0" stroke-width="0.5"/>
<line x1="117.51" x2="117.51" y1="367.4" y2="401.5" stroke="#f0f0f0" stroke-width="0.5"/>
<line x1="122.67" x2="122.67" y1="367.4" y2="401.5" stroke="#f0f0f0" stroke-width="0.5"/>
<line x1="127.83" x2="127.83" y1="367.4" y2="401.5" stroke="#f0f0f0" stroke-width="0.5"/>
<line x1="132.99" x2="132.99" y1="367.4" y2="401.5" stroke="#f0f0f0" stroke-width="0.5"/>
<line x1="138.16" x2="138.16" y1="367.4" y2="401.5" stroke="#f0f0f0" stroke-width="0.5"/>
<line x1="143.32" x2="143.32" y1="367.4" y2="401.5" stroke="#f0f0f0" stroke-width="0.5"/>
<line x1="148.48" x2="148.48" y1="367.4" y2="401.5" stroke="#f0f0f0" stroke-width="0.5"/>
<line x1="153.64" x2="153.64" y1="367.4" y2="401.5" stroke="#f0f0f0" stroke-width="0.5"/>
<line x1="158.80" x2="158.80" y1="367.4" y2="401.5" stroke="#f0f0f0" stroke-width="0.5"/>
<line x1="163.97" x2="163.97" y1="367.4" y2="401.5" stroke="#f0f0f0" stroke-width="0.5"/>
<line x1="169.13" x2="169.13" y1="367.4" y2="401.5" stroke="#f0f0f0" stroke-width="0.5"/>
<line x1="174.29" x2="174.29" y1="367.4" y2="401.5" stroke="#f0f0f0" stroke-width="0.5"/>
<line x1="179.45" x2="179.45" y1="367.4" y2="401.5" stroke="#f0f0f0" stroke-width="0.5"/>
<line x1="184.61" x2="184.61" y1="367.4" y2="401.5" stroke="#f0f0f0" stroke-width="0.5"/>
<line x1="189.77" x2="189.77" y1="367.4" y2="401.5" stroke="#f0f0f0" stroke-width="0.5"/>
<line x1="194.94" x2="194.94" y1="367.4" y2="401.5" stroke="#f0f0f0" stroke-width="0.5"/>
<line x1="200.10" x2="200.10" y1="367.4" y2="401.5" stroke="#f0f0f0" stroke-width="0.5"/>
<line x1="205.26" x2="205.26" y1="367.4" y2="401.5" stroke="#f0f0f0" stroke-width="0.5"/>
<line x1="210.42" x2="210.42" y1="367.4" y2="401.5" stroke="#f0f0f0" stroke-width="0.5"/>
<line x1="215.58" x2="215.58" y1="367.4" y2="401.5" stroke="#f0f0f0" stroke-width="0.5"/>
<line x1="220.75" x2="220.75" y1="367.4" y2="401.5" stroke="#f0f0f0" stroke-width="0.5"/>
<line x1="225.91" x2="225.91" y1="367.4" y2="401.5" stroke="#f0f0f0" stroke-width="0.5"/>
<line x1="231.07" x2="231.07" y1="367.4" y2="401.5" stroke="#f0f0f0" stroke-width="0.5"/>
<line x1="236.23" x2="236.23" y1="367.4" y2="401.5" stroke="#f0f0f0" stroke-width="0.5"/>
<line x1="241.39" x2="241.39" y1="367.4" y2="401.5" stroke="#f0f0f0" stroke-width="0.5"/>
<line x1="246.55" x2="246.55" y1="367.4" y2="401.5" stroke="#f0f0f0" stroke-width="0.5"/>
<line x1="251.72" x2="251.72" y1="367.4" y2="401.5" stroke="#f0f0f0" stroke-width="0.5"/>
<line x1="256.88" x2="256.88" y1="367.4" y2="401.5" stroke="#f0f0f0" stroke-width="0.5"/>
<line x1="262.04" x2="262.04" y1="367.4" y2="401.5" stroke="#f0f0f0" stroke-width="0.5"/>
<line x1="267.20" x2="267.20" y1="367.4" y2="401.5" stroke="#f0f0f0" stroke-width="0.5"/>
<line x1="272.36" x2="272.36" y1="367.4" y2="401.5" stroke="#f0f0f0" stroke-width="0.5"/>
<line x1="277.53" x2="277.53" y1="367.4" y2="401.5" stroke="#f0f0f0" stroke-width="0.5"/>
<line x1="282.69" x2="282.69" y1="367.4" y2="401.5" stroke="#f0f0f0" stroke-width="0.5"/>
<line x1="287.85" x2="287.85" y1="367.4" y2="401.5" stroke="#f0f0f0" stroke-width="0.5"/>
<line x1="293.01" x2="293.01" y1="367.4" y2="401.5" stroke="#f0f0f0" stroke-width="0.5"/>
<line x1="298.17" x2="298.17" y1="367.4" y2="401.5" stroke="#f0f0f0" stroke-width="0.5"/>
<line x1="303.33" x2="303.33" y1="367.4" y2="401.5" stroke="#f0f0f0" stroke-width="0.5"/>
<line x1="308.50" x2="308.50" y1="367.4" y2="401.5" stroke="#f0f0f0" stroke-width="0.5"/>
<line x1="313.66" x2="313.66" y1="367.4" y2="401.5" stroke="#f0f0f0" stroke-width="0.5"/>
<line x1="318.82" x2="318.82" y1="367.4" y2="401.5" stroke="#f0f0f0" stroke-width="0.5"/>
<line x1="323.98" x2="323.98" y1="367.4" y2="401.5" stroke="#f0f0f0" stroke-width="0.5"/>
<line x1="329.14" x2="329.14" y1="367.4" y2="401.5" stroke="#f0f0f0" stroke-width="0.5"/>
<line x1="334.31" x2="334.31" y1="367.4" y2="401.5" stroke="#f0f0f0" stroke-width="0.5"/>
<line x1="339.47" x2="339.47" y1="367.4" y2="401.5" stroke="#f0f0f0" stroke-width="0.5"/>
<line x1="344.63" x2="344.63" y1="367.4" y2="401.5" stroke="#f0f0f0" stroke-width="0.5"/>
<line x1="349.79" x2="349.79" y1="367.4" y2="401.5" stroke="#f0f0f0" stroke-width="0.5"/>
<line x1="354.95" x2="354.95" y1="367.4" y2="401.5" stroke="#f0f0f0" stroke-width="0.5"/>
<line x1="360.11" x2="360.11" y1="367.4" y2="401.5" stroke="#f0f0f0" stroke-width="0.5"/>
<line x1="365.28" x2="365.28" y1="367.4" y2="401.5" stroke="#f0f0f0" stroke-width="0.5"/>
<line x1="370.44" x2="370.44" y1="367.4" y2="401.5" stroke="#f0f0f0" stroke-width="0.5"/>
<line x1="375.60" x2="375.60" y1="367.4" y2="401.5" stroke="#f0f0f0" stroke-width="0.5"/>
<line x1="380.76" x2="380.76" y1="367.4" y2="401.5" stroke="#f0f0f0" stroke-width="0.5"/>
<line x1="385.92" x2="385.92" y1="367.4" y2="401.5" stroke="#f0f0f0" stroke-width="0.5"/>
<line x1="391.08" x2="391.08" y1="367.4" y2="401.5" stroke="#f0f0f0" stroke-width="0.5"/>
<line x1="396.25" x2="396.25" y1="367.4" y2="401.5" stroke="#f0f0f0" stroke-width="0.5"/>
<line x1="401.41" x2="401.41" y1="367.4" y2="401.5" stroke="#f0f0f0" stroke-width="0.5"/>
<line x1="406.57" x2="406.57" y1="367.4" y2="401.5" stroke="#f0f0f0" stroke-width="0.5"/>
<line x1="411.73" x2="411.73" y1="367.4" y2="401.5" stroke="#f0f0f0" stroke-width="0.5"/>
<line x1="416.89" x2="416.89" y1="367.4" y2="401.5" stroke="#f0f0f0" stroke-width="0.5"/>
<line x1="422.06" x2="422.06" y1="367.4" y2="401.5" stroke="#f0f0f0" stroke-width="0.5"/>
<line x1="427.22" x2="427.22" y1="367.4" y2="401.5" stroke="#f0f0f0" stroke-width="0.5"/>
<line x1="432.38" x2="432.38" y1="367.4" y2="401.5" stroke="#f0f0f0" stroke-width="0.5"/>
<line x1="437.54" x2="437.54" y1="367.4" y2="401.5" stroke="#f0f0f0" stroke-width="0.5"/>
<line x1="442.70" x2="442.70" y1="367.4" y2="401.5" stroke="#f0f0f0" stroke-width="0.5"/>
<rect x="21.5" y="367.4" width="424.30" height="34.10" fill="none" stroke="#d9d9d9" stroke-width="0.9"/>
<line x1="21.5" x2="21.5" y1="366.95" y2="401.95" stroke="#a0a0a0" stroke-width="0.9"/>
<line x1="21.5" x2="445.8" y1="401.5" y2="401.5" stroke="#a0a0a0" stroke-width="0.9"/>
<line x1="24.60" x2="24.60" y1="368.80" y2="399.70" stroke="#eac150" stroke-width="0.85"/>
<line x1="29.76" x2="29.76" y1="368.80" y2="381.30" stroke="#eac150" stroke-width="0.85"/>
<line x1="34.92" x2="34.92" y1="368.80" y2="379.90" stroke="#eac150" stroke-width="0.85"/>
<line x1="40.08" x2="40.08" y1="368.80" y2="378.70" stroke="#f3dfa3" stroke-width="0.85"/>
<line x1="45.24" x2="45.24" y1="368.80" y2="377.90" stroke="#eac150" stroke-width="0.85"/>
<line x1="50.41" x2="50.41" y1="368.80" y2="375.40" stroke="#f3dfa3" stroke-width="0.85"/>
<line x1="55.57" x2="55.57" y1="368.80" y2="375.40" stroke="#f3dfa3" stroke-width="0.85"/>
<line x1="60.73" x2="60.73" y1="368.80" y2="375.30" stroke="#f3dfa3" stroke-width="0.85"/>
<line x1="65.89" x2="65.89" y1="368.80" y2="374.20" stroke="#eac150" stroke-width="0.85"/>
<line x1="71.05" x2="71.05" y1="368.80" y2="373.80" stroke="#eac150" stroke-width="0.85"/>
<line x1="76.22" x2="76.22" y1="368.80" y2="373.60" stroke="#eac150" stroke-width="0.85"/>
<line x1="81.38" x2="81.38" y1="368.80" y2="373.47" stroke="#eac150" stroke-width="0.85"/>
<line x1="86.54" x2="86.54" y1="368.80" y2="373.34" stroke="#eac150" stroke-width="0.85"/>
<line x1="91.70" x2="91.70" y1="368.80" y2="373.21" stroke="#f3dfa3" stroke-width="0.85"/>
<line x1="96.86" x2="96.86" y1="368.80" y2="373.08" stroke="#eac150" stroke-width="0.85"/>
<line x1="102.02" x2="102.02" y1="368.80" y2="372.95" stroke="#f3dfa3" stroke-width="0.85"/>
<line x1="107.19" x2="107.19" y1="368.80" y2="372.82" stroke="#f3dfa3" stroke-width="0.85"/>
<line x1="112.35" x2="112.35" y1="368.80" y2="372.69" stroke="#eac150" stroke-width="0.85"/>
<line x1="117.51" x2="117.51" y1="368.80" y2="372.56" stroke="#eac150" stroke-width="0.85"/>
<line x1="122.67" x2="122.67" y1="368.80" y2="372.43" stroke="#eac150" stroke-width="0.85"/>
<line x1="127.83" x2="127.83" y1="368.80" y2="372.30" stroke="#f3dfa3" stroke-width="0.85"/>
<line x1="132.99" x2="132.99" y1="368.80" y2="372.23" stroke="#eac150" stroke-width="0.85"/>
<line x1="138.16" x2="138.16" y1="368.80" y2="372.15" stroke="#eac150" stroke-width="0.85"/>
<line x1="143.32" x2="143.32" y1="368.80" y2="372.08" stroke="#eac150" stroke-width="0.85"/>
<line x1="148.48" x2="148.48" y1="368.80" y2="372.01" stroke="#eac150" stroke-width="0.85"/>
<line x1="153.64" x2="153.64" y1="368.80" y2="371.94" stroke="#eac150" stroke-width="0.85"/>
<line x1="158.80" x2="158.80" y1="368.80" y2="371.86" stroke="#eac150" stroke-width="0.85"/>
<line x1="163.97" x2="163.97" y1="368.80" y2="371.79" stroke="#eac150" stroke-width="0.85"/>
<line x1="169.13" x2="169.13" y1="368.80" y2="371.72" stroke="#f3dfa3" stroke-width="0.85"/>
<line x1="174.29" x2="174.29" y1="368.80" y2="371.65" stroke="#eac150" stroke-width="0.85"/>
<line x1="179.45" x2="179.45" y1="368.80" y2="371.57" stroke="#eac150" stroke-width="0.85"/>
<line x1="184.61" x2="184.61" y1="368.80" y2="371.50" stroke="#f3dfa3" stroke-width="0.85"/>
<line x1="189.77" x2="189.77" y1="368.80" y2="371.43" stroke="#f3dfa3" stroke-width="0.85"/>
<line x1="194.94" x2="194.94" y1="368.80" y2="371.35" stroke="#eac150" stroke-width="0.85"/>
<line x1="200.10" x2="200.10" y1="368.80" y2="371.28" stroke="#eac150" stroke-width="0.85"/>
<line x1="205.26" x2="205.26" y1="368.80" y2="371.21" stroke="#eac150" stroke-width="0.85"/>
<line x1="210.42" x2="210.42" y1="368.80" y2="371.14" stroke="#eac150" stroke-width="0.85"/>
<line x1="215.58" x2="215.58" y1="368.80" y2="371.06" stroke="#f3dfa3" stroke-width="0.85"/>
<line x1="220.75" x2="220.75" y1="368.80" y2="370.99" stroke="#f3dfa3" stroke-width="0.85"/>
<line x1="225.91" x2="225.91" y1="368.80" y2="370.92" stroke="#eac150" stroke-width="0.85"/>
<line x1="231.07" x2="231.07" y1="368.80" y2="370.85" stroke="#eac150" stroke-width="0.85"/>
<line x1="236.23" x2="236.23" y1="368.80" y2="370.77" stroke="#eac150" stroke-width="0.85"/>
<line x1="241.39" x2="241.39" y1="368.80" y2="370.70" stroke="#f3dfa3" stroke-width="0.85"/>
<line x1="246.55" x2="246.55" y1="368.80" y2="370.65" stroke="#eac150" stroke-width="0.85"/>
<line x1="251.72" x2="251.72" y1="368.80" y2="370.60" stroke="#eac150" stroke-width="0.85"/>
<line x1="256.88" x2="256.88" y1="368.80" y2="370.55" stroke="#eac150" stroke-width="0.85"/>
<line x1="262.04" x2="262.04" y1="368.80" y2="370.50" stroke="#f3dfa3" stroke-width="0.85"/>
<line x1="267.20" x2="267.20" y1="368.80" y2="370.45" stroke="#eac150" stroke-width="0.85"/>
<line x1="272.36" x2="272.36" y1="368.80" y2="370.40" stroke="#eac150" stroke-width="0.85"/>
<line x1="277.53" x2="277.53" y1="368.80" y2="370.35" stroke="#eac150" stroke-width="0.85"/>
<line x1="282.69" x2="282.69" y1="368.80" y2="370.30" stroke="#eac150" stroke-width="0.85"/>
<line x1="287.85" x2="287.85" y1="368.80" y2="370.25" stroke="#eac150" stroke-width="0.85"/>
<line x1="293.01" x2="293.01" y1="368.80" y2="370.20" stroke="#eac150" stroke-width="0.85"/>
<line x1="298.17" x2="298.17" y1="368.80" y2="370.15" stroke="#f3dfa3" stroke-width="0.85"/>
<line x1="303.33" x2="303.33" y1="368.80" y2="370.10" stroke="#eac150" stroke-width="0.85"/>
<line x1="308.50" x2="308.50" y1="368.80" y2="370.05" stroke="#eac150" stroke-width="0.85"/>
<line x1="313.66" x2="313.66" y1="368.80" y2="370.00" stroke="#f3dfa3" stroke-width="0.85"/>
<line x1="318.82" x2="318.82" y1="368.80" y2="369.95" stroke="#eac150" stroke-width="0.85"/>
<line x1="323.98" x2="323.98" y1="368.80" y2="369.90" stroke="#f3dfa3" stroke-width="0.85"/>
<line x1="329.14" x2="329.14" y1="368.80" y2="369.85" stroke="#eac150" stroke-width="0.85"/>
<line x1="334.31" x2="334.31" y1="368.80" y2="369.80" stroke="#eac150" stroke-width="0.85"/>
<line x1="339.47" x2="339.47" y1="368.80" y2="369.76" stroke="#eac150" stroke-width="0.85"/>
<line x1="344.63" x2="344.63" y1="368.80" y2="369.72" stroke="#eac150" stroke-width="0.85"/>
<line x1="349.79" x2="349.79" y1="368.80" y2="369.69" stroke="#f3dfa3" stroke-width="0.85"/>
<line x1="354.95" x2="354.95" y1="368.80" y2="369.65" stroke="#eac150" stroke-width="0.85"/>
<line x1="360.11" x2="360.11" y1="368.80" y2="369.61" stroke="#eac150" stroke-width="0.85"/>
<line x1="365.28" x2="365.28" y1="368.80" y2="369.57" stroke="#eac150" stroke-width="0.85"/>
<line x1="370.44" x2="370.44" y1="368.80" y2="369.53" stroke="#f3dfa3" stroke-width="0.85"/>
<line x1="375.60" x2="375.60" y1="368.80" y2="369.50" stroke="#eac150" stroke-width="0.85"/>
<line x1="380.76" x2="380.76" y1="368.80" y2="369.46" stroke="#f3dfa3" stroke-width="0.85"/>
<line x1="385.92" x2="385.92" y1="368.80" y2="369.42" stroke="#eac150" stroke-width="0.85"/>
<line x1="391.08" x2="391.08" y1="368.80" y2="369.38" stroke="#eac150" stroke-width="0.85"/>
<line x1="396.25" x2="396.25" y1="368.80" y2="369.34" stroke="#eac150" stroke-width="0.85"/>
<line x1="401.41" x2="401.41" y1="368.80" y2="369.30" stroke="#eac150" stroke-width="0.85"/>
<line x1="406.57" x2="406.57" y1="368.80" y2="369.27" stroke="#f3dfa3" stroke-width="0.85"/>
<line x1="411.73" x2="411.73" y1="368.80" y2="369.23" stroke="#eac150" stroke-width="0.85"/>
<line x1="416.89" x2="416.89" y1="368.80" y2="369.19" stroke="#eac150" stroke-width="0.85"/>
<line x1="422.06" x2="422.06" y1="368.80" y2="369.15" stroke="#eac150" stroke-width="0.85"/>
<line x1="427.22" x2="427.22" y1="368.80" y2="369.11" stroke="#eac150" stroke-width="0.85"/>
<line x1="432.38" x2="432.38" y1="368.80" y2="369.08" stroke="#eac150" stroke-width="0.85"/>
<line x1="437.54" x2="437.54" y1="368.80" y2="369.04" stroke="#f3dfa3" stroke-width="0.85"/>
<line x1="442.70" x2="442.70" y1="368.80" y2="369.00" stroke="#eac150" stroke-width="0.85"/>
<circle cx="24.60" cy="399.70" r="1.4" fill="#e8bb38"/>
<circle cx="29.76" cy="381.30" r="1.4" fill="#e8bb38"/>
<circle cx="34.92" cy="379.90" r="1.4" fill="#e8bb38"/>
<circle cx="40.08" cy="378.70" r="1.4" fill="#e8bb38"/>
<circle cx="45.24" cy="377.90" r="1.4" fill="#e8bb38"/>
<circle cx="50.41" cy="375.40" r="1.4" fill="#e8bb38"/>
<circle cx="55.57" cy="375.40" r="1.4" fill="#e8bb38"/>
<circle cx="60.73" cy="375.30" r="1.4" fill="#e8bb38"/>
<circle cx="65.89" cy="374.20" r="1.4" fill="#e8bb38"/>
<circle cx="71.05" cy="373.80" r="1.4" fill="#e8bb38"/>
<circle cx="76.22" cy="373.60" r="1.4" fill="#e8bb38"/>
<circle cx="81.38" cy="373.47" r="1.4" fill="#e8bb38"/>
<circle cx="86.54" cy="373.34" r="1.4" fill="#e8bb38"/>
<circle cx="91.70" cy="373.21" r="1.4" fill="#e8bb38"/>
<circle cx="96.86" cy="373.08" r="1.4" fill="#e8bb38"/>
<circle cx="102.02" cy="372.95" r="1.4" fill="#e8bb38"/>
<circle cx="107.19" cy="372.82" r="1.4" fill="#e8bb38"/>
<circle cx="112.35" cy="372.69" r="1.4" fill="#e8bb38"/>
<circle cx="117.51" cy="372.56" r="1.4" fill="#e8bb38"/>
<circle cx="122.67" cy="372.43" r="1.4" fill="#e8bb38"/>
<circle cx="127.83" cy="372.30" r="1.4" fill="#e8bb38"/>
<circle cx="132.99" cy="372.23" r="1.4" fill="#e8bb38"/>
<circle cx="138.16" cy="372.15" r="1.4" fill="#e8bb38"/>
<circle cx="143.32" cy="372.08" r="1.4" fill="#e8bb38"/>
<circle cx="148.48" cy="372.01" r="1.4" fill="#e8bb38"/>
<circle cx="153.64" cy="371.94" r="1.4" fill="#e8bb38"/>
<circle cx="158.80" cy="371.86" r="1.4" fill="#e8bb38"/>
<circle cx="163.97" cy="371.79" r="1.4" fill="#e8bb38"/>
<circle cx="169.13" cy="371.72" r="1.4" fill="#e8bb38"/>
<circle cx="174.29" cy="371.65" r="1.4" fill="#e8bb38"/>
<circle cx="179.45" cy="371.57" r="1.4" fill="#e8bb38"/>
<circle cx="184.61" cy="371.50" r="1.4" fill="#e8bb38"/>
<circle cx="189.77" cy="371.43" r="1.4" fill="#e8bb38"/>
<circle cx="194.94" cy="371.35" r="1.4" fill="#e8bb38"/>
<circle cx="200.10" cy="371.28" r="1.4" fill="#e8bb38"/>
<circle cx="205.26" cy="371.21" r="1.4" fill="#e8bb38"/>
<circle cx="210.42" cy="371.14" r="1.4" fill="#e8bb38"/>
<circle cx="215.58" cy="371.06" r="1.4" fill="#e8bb38"/>
<circle cx="220.75" cy="370.99" r="1.4" fill="#e8bb38"/>
<circle cx="225.91" cy="370.92" r="1.4" fill="#e8bb38"/>
<circle cx="231.07" cy="370.85" r="1.4" fill="#e8bb38"/>
<circle cx="236.23" cy="370.77" r="1.4" fill="#e8bb38"/>
<circle cx="241.39" cy="370.70" r="1.4" fill="#e8bb38"/>
<circle cx="246.55" cy="370.65" r="1.4" fill="#e8bb38"/>
<circle cx="251.72" cy="370.60" r="1.4" fill="#e8bb38"/>
<circle cx="256.88" cy="370.55" r="1.4" fill="#e8bb38"/>
<circle cx="262.04" cy="370.50" r="1.4" fill="#e8bb38"/>
<circle cx="267.20" cy="370.45" r="1.4" fill="#e8bb38"/>
<circle cx="272.36" cy="370.40" r="1.4" fill="#e8bb38"/>
<circle cx="277.53" cy="370.35" r="1.4" fill="#e8bb38"/>
<circle cx="282.69" cy="370.30" r="1.4" fill="#e8bb38"/>
<circle cx="287.85" cy="370.25" r="1.4" fill="#e8bb38"/>
<circle cx="293.01" cy="370.20" r="1.4" fill="#e8bb38"/>
<circle cx="298.17" cy="370.15" r="1.4" fill="#e8bb38"/>
<circle cx="303.33" cy="370.10" r="1.4" fill="#e8bb38"/>
<circle cx="308.50" cy="370.05" r="1.4" fill="#e8bb38"/>
<circle cx="313.66" cy="370.00" r="1.4" fill="#e8bb38"/>
<circle cx="318.82" cy="369.95" r="1.4" fill="#e8bb38"/>
<circle cx="323.98" cy="369.90" r="1.4" fill="#e8bb38"/>
<circle cx="329.14" cy="369.85" r="1.4" fill="#e8bb38"/>
<circle cx="334.31" cy="369.80" r="1.4" fill="#e8bb38"/>
<circle cx="339.47" cy="369.76" r="1.4" fill="#e8bb38"/>
<circle cx="344.63" cy="369.72" r="1.4" fill="#e8bb38"/>
<circle cx="349.79" cy="369.69" r="1.4" fill="#e8bb38"/>
<circle cx="354.95" cy="369.65" r="1.4" fill="#e8bb38"/>
<circle cx="360.11" cy="369.61" r="1.4" fill="#e8bb38"/>
<circle cx="365.28" cy="369.57" r="1.4" fill="#e8bb38"/>
<circle cx="370.44" cy="369.53" r="1.4" fill="#e8bb38"/>
<circle cx="375.60" cy="369.50" r="1.4" fill="#e8bb38"/>
<circle cx="380.76" cy="369.46" r="1.4" fill="#e8bb38"/>
<circle cx="385.92" cy="369.42" r="1.4" fill="#e8bb38"/>
<circle cx="391.08" cy="369.38" r="1.4" fill="#e8bb38"/>
<circle cx="396.25" cy="369.34" r="1.4" fill="#e8bb38"/>
<circle cx="401.41" cy="369.30" r="1.4" fill="#e8bb38"/>
<circle cx="406.57" cy="369.27" r="1.4" fill="#e8bb38"/>
<circle cx="411.73" cy="369.23" r="1.4" fill="#e8bb38"/>
<circle cx="416.89" cy="369.19" r="1.4" fill="#e8bb38"/>
<circle cx="422.06" cy="369.15" r="1.4" fill="#e8bb38"/>
<circle cx="427.22" cy="369.11" r="1.4" fill="#e8bb38"/>
<circle cx="432.38" cy="369.08" r="1.4" fill="#e8bb38"/>
<circle cx="437.54" cy="369.04" r="1.4" fill="#e8bb38"/>
<circle cx="442.70" cy="369.00" r="1.4" fill="#e8bb38"/>
<line x1="19.80" x2="21.5" y1="368.8" y2="368.8" stroke="#333" stroke-width="0.6"/>
<text x="18.90" y="370.90" font-size="4.9" text-anchor="end" fill="#555555" >0.00</text>
<line x1="19.80" x2="21.5" y1="375.5" y2="375.5" stroke="#333" stroke-width="0.6"/>
<text x="18.90" y="377.60" font-size="4.9" text-anchor="end" fill="#555555" >-0.05</text>
<line x1="19.80" x2="21.5" y1="382.2" y2="382.2" stroke="#333" stroke-width="0.6"/>
<text x="18.90" y="384.30" font-size="4.9" text-anchor="end" fill="#555555" >-0.10</text>
<line x1="19.80" x2="21.5" y1="389.2" y2="389.2" stroke="#333" stroke-width="0.6"/>
<text x="18.90" y="391.30" font-size="4.9" text-anchor="end" fill="#555555" >-0.15</text>
<line x1="19.80" x2="21.5" y1="395.7" y2="395.7" stroke="#333" stroke-width="0.6"/>
<text x="18.90" y="397.80" font-size="4.9" text-anchor="end" fill="#555555" >-0.20</text>
<line x1="24.60" x2="24.60" y1="401.5" y2="403.20" stroke="#333" stroke-width="0.6"/>
<text transform="translate(27.50,405.90) rotate(-60)" font-size="5.0" text-anchor="end" fill="#444444">CLMP</text>
<line x1="29.76" x2="29.76" y1="401.5" y2="403.20" stroke="#333" stroke-width="0.6"/>
<text transform="translate(32.66,405.90) rotate(-60)" font-size="5.0" text-anchor="end" fill="#444444">FABP4</text>
<line x1="34.92" x2="34.92" y1="401.5" y2="403.20" stroke="#333" stroke-width="0.6"/>
<text transform="translate(37.82,405.90) rotate(-60)" font-size="5.0" text-anchor="end" fill="#444444">CCL11</text>
<line x1="40.08" x2="40.08" y1="401.5" y2="403.20" stroke="#333" stroke-width="0.6"/>
<text transform="translate(42.98,405.90) rotate(-60)" font-size="5.0" text-anchor="end" fill="#444444">TNFRSF6B</text>
<line x1="45.24" x2="45.24" y1="401.5" y2="403.20" stroke="#333" stroke-width="0.6"/>
<text transform="translate(48.14,405.90) rotate(-60)" font-size="5.0" text-anchor="end" fill="#444444">CLEC11A</text>
<line x1="50.41" x2="50.41" y1="401.5" y2="403.20" stroke="#333" stroke-width="0.6"/>
<text transform="translate(53.31,405.90) rotate(-60)" font-size="5.0" text-anchor="end" fill="#444444">SLITRK1</text>
<line x1="55.57" x2="55.57" y1="401.5" y2="403.20" stroke="#333" stroke-width="0.6"/>
<text transform="translate(58.47,405.90) rotate(-60)" font-size="5.0" text-anchor="end" fill="#444444">IL18R1</text>
<line x1="60.73" x2="60.73" y1="401.5" y2="403.20" stroke="#333" stroke-width="0.6"/>
<text transform="translate(63.63,405.90) rotate(-60)" font-size="5.0" text-anchor="end" fill="#444444">TNR</text>
<line x1="65.89" x2="65.89" y1="401.5" y2="403.20" stroke="#333" stroke-width="0.6"/>
<text transform="translate(68.79,405.90) rotate(-60)" font-size="5.0" text-anchor="end" fill="#444444">SCARF2</text>
<line x1="71.05" x2="71.05" y1="401.5" y2="403.20" stroke="#333" stroke-width="0.6"/>
<text transform="translate(73.95,405.90) rotate(-60)" font-size="5.0" text-anchor="end" fill="#444444">OSMR</text>
<line x1="76.22" x2="76.22" y1="401.5" y2="403.20" stroke="#333" stroke-width="0.6"/>
<text transform="translate(79.12,405.90) rotate(-60)" font-size="5.0" text-anchor="end" fill="#444444">CXCL13</text>
<line x1="81.38" x2="81.38" y1="401.5" y2="403.20" stroke="#333" stroke-width="0.6"/>
<text transform="translate(84.28,405.90) rotate(-60)" font-size="5.0" text-anchor="end" fill="#444444">ANGPTL7</text>
<line x1="86.54" x2="86.54" y1="401.5" y2="403.20" stroke="#333" stroke-width="0.6"/>
<text transform="translate(89.44,405.90) rotate(-60)" font-size="5.0" text-anchor="end" fill="#444444">CD163</text>
<line x1="91.70" x2="91.70" y1="401.5" y2="403.20" stroke="#333" stroke-width="0.6"/>
<text transform="translate(94.60,405.90) rotate(-60)" font-size="5.0" text-anchor="end" fill="#444444">COL6A3</text>
<line x1="96.86" x2="96.86" y1="401.5" y2="403.20" stroke="#333" stroke-width="0.6"/>
<text transform="translate(99.76,405.90) rotate(-60)" font-size="5.0" text-anchor="end" fill="#444444">ISLR2</text>
<line x1="102.02" x2="102.02" y1="401.5" y2="403.20" stroke="#333" stroke-width="0.6"/>
<text transform="translate(104.92,405.90) rotate(-60)" font-size="5.0" text-anchor="end" fill="#444444">SMOC2</text>
<line x1="107.19" x2="107.19" y1="401.5" y2="403.20" stroke="#333" stroke-width="0.6"/>
<text transform="translate(110.09,405.90) rotate(-60)" font-size="5.0" text-anchor="end" fill="#444444">FAM3C</text>
<line x1="112.35" x2="112.35" y1="401.5" y2="403.20" stroke="#333" stroke-width="0.6"/>
<text transform="translate(115.25,405.90) rotate(-60)" font-size="5.0" text-anchor="end" fill="#444444">SPP1</text>
<line x1="117.51" x2="117.51" y1="401.5" y2="403.20" stroke="#333" stroke-width="0.6"/>
<text transform="translate(120.41,405.90) rotate(-60)" font-size="5.0" text-anchor="end" fill="#444444">CHI3L1</text>
<line x1="122.67" x2="122.67" y1="401.5" y2="403.20" stroke="#333" stroke-width="0.6"/>
<text transform="translate(125.57,405.90) rotate(-60)" font-size="5.0" text-anchor="end" fill="#444444">TFF2</text>
<line x1="127.83" x2="127.83" y1="401.5" y2="403.20" stroke="#333" stroke-width="0.6"/>
<text transform="translate(130.73,405.90) rotate(-60)" font-size="5.0" text-anchor="end" fill="#444444">IGFBP1</text>
<line x1="132.99" x2="132.99" y1="401.5" y2="403.20" stroke="#333" stroke-width="0.6"/>
<text transform="translate(135.89,405.90) rotate(-60)" font-size="5.0" text-anchor="end" fill="#444444">SIGLEC1</text>
<line x1="138.16" x2="138.16" y1="401.5" y2="403.20" stroke="#333" stroke-width="0.6"/>
<text transform="translate(141.06,405.90) rotate(-60)" font-size="5.0" text-anchor="end" fill="#444444">CKB</text>
<line x1="143.32" x2="143.32" y1="401.5" y2="403.20" stroke="#333" stroke-width="0.6"/>
<text transform="translate(146.22,405.90) rotate(-60)" font-size="5.0" text-anchor="end" fill="#444444">ITGB6</text>
<line x1="148.48" x2="148.48" y1="401.5" y2="403.20" stroke="#333" stroke-width="0.6"/>
<text transform="translate(151.38,405.90) rotate(-60)" font-size="5.0" text-anchor="end" fill="#444444">GPR37</text>
<line x1="153.64" x2="153.64" y1="401.5" y2="403.20" stroke="#333" stroke-width="0.6"/>
<text transform="translate(156.54,405.90) rotate(-60)" font-size="5.0" text-anchor="end" fill="#444444">TPP1</text>
<line x1="158.80" x2="158.80" y1="401.5" y2="403.20" stroke="#333" stroke-width="0.6"/>
<text transform="translate(161.70,405.90) rotate(-60)" font-size="5.0" text-anchor="end" fill="#444444">ANGPTL7</text>
<line x1="163.97" x2="163.97" y1="401.5" y2="403.20" stroke="#333" stroke-width="0.6"/>
<text transform="translate(166.87,405.90) rotate(-60)" font-size="5.0" text-anchor="end" fill="#444444">SIGLEC7</text>
<line x1="169.13" x2="169.13" y1="401.5" y2="403.20" stroke="#333" stroke-width="0.6"/>
<text transform="translate(172.03,405.90) rotate(-60)" font-size="5.0" text-anchor="end" fill="#444444">GAST</text>
<line x1="174.29" x2="174.29" y1="401.5" y2="403.20" stroke="#333" stroke-width="0.6"/>
<text transform="translate(177.19,405.90) rotate(-60)" font-size="5.0" text-anchor="end" fill="#444444">ADAMTSL2</text>
<line x1="179.45" x2="179.45" y1="401.5" y2="403.20" stroke="#333" stroke-width="0.6"/>
<text transform="translate(182.35,405.90) rotate(-60)" font-size="5.0" text-anchor="end" fill="#444444">TNFRSF11A</text>
<line x1="184.61" x2="184.61" y1="401.5" y2="403.20" stroke="#333" stroke-width="0.6"/>
<text transform="translate(187.51,405.90) rotate(-60)" font-size="5.0" text-anchor="end" fill="#444444">CXCL13</text>
<line x1="189.77" x2="189.77" y1="401.5" y2="403.20" stroke="#333" stroke-width="0.6"/>
<text transform="translate(192.67,405.90) rotate(-60)" font-size="5.0" text-anchor="end" fill="#444444">DLK1</text>
<line x1="194.94" x2="194.94" y1="401.5" y2="403.20" stroke="#333" stroke-width="0.6"/>
<text transform="translate(197.84,405.90) rotate(-60)" font-size="5.0" text-anchor="end" fill="#444444">SCRG1</text>
<line x1="200.10" x2="200.10" y1="401.5" y2="403.20" stroke="#333" stroke-width="0.6"/>
<text transform="translate(203.00,405.90) rotate(-60)" font-size="5.0" text-anchor="end" fill="#444444">ST6GAL2</text>
<line x1="205.26" x2="205.26" y1="401.5" y2="403.20" stroke="#333" stroke-width="0.6"/>
<text transform="translate(208.16,405.90) rotate(-60)" font-size="5.0" text-anchor="end" fill="#444444">KLK6</text>
<line x1="210.42" x2="210.42" y1="401.5" y2="403.20" stroke="#333" stroke-width="0.6"/>
<text transform="translate(213.32,405.90) rotate(-60)" font-size="5.0" text-anchor="end" fill="#444444">CXCL1</text>
<line x1="215.58" x2="215.58" y1="401.5" y2="403.20" stroke="#333" stroke-width="0.6"/>
<text transform="translate(218.48,405.90) rotate(-60)" font-size="5.0" text-anchor="end" fill="#444444">EPHA2</text>
<line x1="220.75" x2="220.75" y1="401.5" y2="403.20" stroke="#333" stroke-width="0.6"/>
<text transform="translate(223.65,405.90) rotate(-60)" font-size="5.0" text-anchor="end" fill="#444444">ADAMTS13</text>
<line x1="225.91" x2="225.91" y1="401.5" y2="403.20" stroke="#333" stroke-width="0.6"/>
<text transform="translate(228.81,405.90) rotate(-60)" font-size="5.0" text-anchor="end" fill="#444444">SLAMF8</text>
<line x1="231.07" x2="231.07" y1="401.5" y2="403.20" stroke="#333" stroke-width="0.6"/>
<text transform="translate(233.97,405.90) rotate(-60)" font-size="5.0" text-anchor="end" fill="#444444">CXCL17</text>
<line x1="236.23" x2="236.23" y1="401.5" y2="403.20" stroke="#333" stroke-width="0.6"/>
<text transform="translate(239.13,405.90) rotate(-60)" font-size="5.0" text-anchor="end" fill="#444444">SEMA3F</text>
<line x1="241.39" x2="241.39" y1="401.5" y2="403.20" stroke="#333" stroke-width="0.6"/>
<text transform="translate(244.29,405.90) rotate(-60)" font-size="5.0" text-anchor="end" fill="#444444">FCRL6</text>
<line x1="246.55" x2="246.55" y1="401.5" y2="403.20" stroke="#333" stroke-width="0.6"/>
<text transform="translate(249.45,405.90) rotate(-60)" font-size="5.0" text-anchor="end" fill="#444444">LEP</text>
<line x1="251.72" x2="251.72" y1="401.5" y2="403.20" stroke="#333" stroke-width="0.6"/>
<text transform="translate(254.62,405.90) rotate(-60)" font-size="5.0" text-anchor="end" fill="#444444">FSTL1</text>
<line x1="256.88" x2="256.88" y1="401.5" y2="403.20" stroke="#333" stroke-width="0.6"/>
<text transform="translate(259.78,405.90) rotate(-60)" font-size="5.0" text-anchor="end" fill="#444444">OPCML</text>
<line x1="262.04" x2="262.04" y1="401.5" y2="403.20" stroke="#333" stroke-width="0.6"/>
<text transform="translate(264.94,405.90) rotate(-60)" font-size="5.0" text-anchor="end" fill="#444444">SERPING1</text>
<line x1="267.20" x2="267.20" y1="401.5" y2="403.20" stroke="#333" stroke-width="0.6"/>
<text transform="translate(270.10,405.90) rotate(-60)" font-size="5.0" text-anchor="end" fill="#444444">ASGR1</text>
<line x1="272.36" x2="272.36" y1="401.5" y2="403.20" stroke="#333" stroke-width="0.6"/>
<text transform="translate(275.26,405.90) rotate(-60)" font-size="5.0" text-anchor="end" fill="#444444">RARRES2</text>
<line x1="277.53" x2="277.53" y1="401.5" y2="403.20" stroke="#333" stroke-width="0.6"/>
<text transform="translate(280.43,405.90) rotate(-60)" font-size="5.0" text-anchor="end" fill="#444444">SLITRK1</text>
<line x1="282.69" x2="282.69" y1="401.5" y2="403.20" stroke="#333" stroke-width="0.6"/>
<text transform="translate(285.59,405.90) rotate(-60)" font-size="5.0" text-anchor="end" fill="#444444">CCL11</text>
<line x1="287.85" x2="287.85" y1="401.5" y2="403.20" stroke="#333" stroke-width="0.6"/>
<text transform="translate(290.75,405.90) rotate(-60)" font-size="5.0" text-anchor="end" fill="#444444">IL1RL1</text>
<line x1="293.01" x2="293.01" y1="401.5" y2="403.20" stroke="#333" stroke-width="0.6"/>
<text transform="translate(295.91,405.90) rotate(-60)" font-size="5.0" text-anchor="end" fill="#444444">CCL16</text>
<line x1="298.17" x2="298.17" y1="401.5" y2="403.20" stroke="#333" stroke-width="0.6"/>
<text transform="translate(301.07,405.90) rotate(-60)" font-size="5.0" text-anchor="end" fill="#444444">GALNT10</text>
<line x1="303.33" x2="303.33" y1="401.5" y2="403.20" stroke="#333" stroke-width="0.6"/>
<text transform="translate(306.23,405.90) rotate(-60)" font-size="5.0" text-anchor="end" fill="#444444">HEPH</text>
<line x1="308.50" x2="308.50" y1="401.5" y2="403.20" stroke="#333" stroke-width="0.6"/>
<text transform="translate(311.40,405.90) rotate(-60)" font-size="5.0" text-anchor="end" fill="#444444">ENAH</text>
<line x1="313.66" x2="313.66" y1="401.5" y2="403.20" stroke="#333" stroke-width="0.6"/>
<text transform="translate(316.56,405.90) rotate(-60)" font-size="5.0" text-anchor="end" fill="#444444">GAL</text>
<line x1="318.82" x2="318.82" y1="401.5" y2="403.20" stroke="#333" stroke-width="0.6"/>
<text transform="translate(321.72,405.90) rotate(-60)" font-size="5.0" text-anchor="end" fill="#444444">CAPG</text>
<line x1="323.98" x2="323.98" y1="401.5" y2="403.20" stroke="#333" stroke-width="0.6"/>
<text transform="translate(326.88,405.90) rotate(-60)" font-size="5.0" text-anchor="end" fill="#444444">IGFBP2</text>
<line x1="329.14" x2="329.14" y1="401.5" y2="403.20" stroke="#333" stroke-width="0.6"/>
<text transform="translate(332.04,405.90) rotate(-60)" font-size="5.0" text-anchor="end" fill="#444444">GFRA1</text>
<line x1="334.31" x2="334.31" y1="401.5" y2="403.20" stroke="#333" stroke-width="0.6"/>
<text transform="translate(337.21,405.90) rotate(-60)" font-size="5.0" text-anchor="end" fill="#444444">CEACAM6</text>
<line x1="339.47" x2="339.47" y1="401.5" y2="403.20" stroke="#333" stroke-width="0.6"/>
<text transform="translate(342.37,405.90) rotate(-60)" font-size="5.0" text-anchor="end" fill="#444444">VSIG4</text>
<line x1="344.63" x2="344.63" y1="401.5" y2="403.20" stroke="#333" stroke-width="0.6"/>
<text transform="translate(347.53,405.90) rotate(-60)" font-size="5.0" text-anchor="end" fill="#444444">ELOA</text>
<line x1="349.79" x2="349.79" y1="401.5" y2="403.20" stroke="#333" stroke-width="0.6"/>
<text transform="translate(352.69,405.90) rotate(-60)" font-size="5.0" text-anchor="end" fill="#444444">ACVRL1</text>
<line x1="354.95" x2="354.95" y1="401.5" y2="403.20" stroke="#333" stroke-width="0.6"/>
<text transform="translate(357.85,405.90) rotate(-60)" font-size="5.0" text-anchor="end" fill="#444444">TFF1</text>
<line x1="360.11" x2="360.11" y1="401.5" y2="403.20" stroke="#333" stroke-width="0.6"/>
<text transform="translate(363.01,405.90) rotate(-60)" font-size="5.0" text-anchor="end" fill="#444444">TXNDC15</text>
<line x1="365.28" x2="365.28" y1="401.5" y2="403.20" stroke="#333" stroke-width="0.6"/>
<text transform="translate(368.18,405.90) rotate(-60)" font-size="5.0" text-anchor="end" fill="#444444">AMBP</text>
<line x1="370.44" x2="370.44" y1="401.5" y2="403.20" stroke="#333" stroke-width="0.6"/>
<text transform="translate(373.34,405.90) rotate(-60)" font-size="5.0" text-anchor="end" fill="#444444">CA14</text>
<line x1="375.60" x2="375.60" y1="401.5" y2="403.20" stroke="#333" stroke-width="0.6"/>
<text transform="translate(378.50,405.90) rotate(-60)" font-size="5.0" text-anchor="end" fill="#444444">NFASC</text>
<line x1="380.76" x2="380.76" y1="401.5" y2="403.20" stroke="#333" stroke-width="0.6"/>
<text transform="translate(383.66,405.90) rotate(-60)" font-size="5.0" text-anchor="end" fill="#444444">FOLR1</text>
<line x1="385.92" x2="385.92" y1="401.5" y2="403.20" stroke="#333" stroke-width="0.6"/>
<text transform="translate(388.82,405.90) rotate(-60)" font-size="5.0" text-anchor="end" fill="#444444">FABP4</text>
<line x1="391.08" x2="391.08" y1="401.5" y2="403.20" stroke="#333" stroke-width="0.6"/>
<text transform="translate(393.98,405.90) rotate(-60)" font-size="5.0" text-anchor="end" fill="#444444">CEACAM5</text>
<line x1="396.25" x2="396.25" y1="401.5" y2="403.20" stroke="#333" stroke-width="0.6"/>
<text transform="translate(399.15,405.90) rotate(-60)" font-size="5.0" text-anchor="end" fill="#444444">NPPB</text>
<line x1="401.41" x2="401.41" y1="401.5" y2="403.20" stroke="#333" stroke-width="0.6"/>
<text transform="translate(404.31,405.90) rotate(-60)" font-size="5.0" text-anchor="end" fill="#444444">HNMT</text>
<line x1="406.57" x2="406.57" y1="401.5" y2="403.20" stroke="#333" stroke-width="0.6"/>
<text transform="translate(409.47,405.90) rotate(-60)" font-size="5.0" text-anchor="end" fill="#444444">TIMP1</text>
<line x1="411.73" x2="411.73" y1="401.5" y2="403.20" stroke="#333" stroke-width="0.6"/>
<text transform="translate(414.63,405.90) rotate(-60)" font-size="5.0" text-anchor="end" fill="#444444">SMOC1</text>
<line x1="416.89" x2="416.89" y1="401.5" y2="403.20" stroke="#333" stroke-width="0.6"/>
<text transform="translate(419.79,405.90) rotate(-60)" font-size="5.0" text-anchor="end" fill="#444444">BST2</text>
<line x1="422.06" x2="422.06" y1="401.5" y2="403.20" stroke="#333" stroke-width="0.6"/>
<text transform="translate(424.96,405.90) rotate(-60)" font-size="5.0" text-anchor="end" fill="#444444">IL1R1</text>
<line x1="427.22" x2="427.22" y1="401.5" y2="403.20" stroke="#333" stroke-width="0.6"/>
<text transform="translate(430.12,405.90) rotate(-60)" font-size="5.0" text-anchor="end" fill="#444444">FCAR</text>
<line x1="432.38" x2="432.38" y1="401.5" y2="403.20" stroke="#333" stroke-width="0.6"/>
<text transform="translate(435.28,405.90) rotate(-60)" font-size="5.0" text-anchor="end" fill="#444444">KRT18</text>
<line x1="437.54" x2="437.54" y1="401.5" y2="403.20" stroke="#333" stroke-width="0.6"/>
<text transform="translate(440.44,405.90) rotate(-60)" font-size="5.0" text-anchor="end" fill="#444444">ADA2</text>
<line x1="442.70" x2="442.70" y1="401.5" y2="403.20" stroke="#333" stroke-width="0.6"/>
<text transform="translate(445.60,405.90) rotate(-60)" font-size="5.0" text-anchor="end" fill="#444444">SFRP1</text>
<rect x="446.55" y="368.15" width="8.00" height="33.40" fill="#f1df9a" stroke="#6b6040" stroke-width="0.7"/>
<text transform="translate(448.95,384.45) rotate(90)" font-size="4.8" text-anchor="middle" fill="#1a1a1a">Negative</text>
<text transform="translate(5.35,351.90) rotate(-90)" font-size="6.0" text-anchor="middle" fill="#000" stroke="#000" stroke-width="0.08">weight</text>
<text x="599.55" y="312.80" font-size="8.45" text-anchor="middle" fill="#111" >GO-BP enrichment</text>
<rect x="555.6" y="317.5" width="88.90" height="88.10" fill="#fff"/>
<rect x="559.64" y="318.94" width="80.82" height="8.62" fill="#ebc450"/>
<text x="552.40" y="325.75" font-size="5.65" text-anchor="end" fill="#4d4d4d" >regulation of vasculature development</text>
<rect x="559.64" y="328.51" width="80.82" height="8.62" fill="#efd897"/>
<text x="552.40" y="335.32" font-size="5.65" text-anchor="end" fill="#4d4d4d" >positive regulation of MAPK cascade</text>
<rect x="559.64" y="338.09" width="76.33" height="8.62" fill="#f1dfad"/>
<text x="552.40" y="344.90" font-size="5.65" text-anchor="end" fill="#4d4d4d" >taxis</text>
<rect x="559.64" y="347.66" width="76.33" height="8.62" fill="#ebc65a"/>
<text x="552.40" y="354.47" font-size="5.65" text-anchor="end" fill="#4d4d4d" >regulation of angiogenesis</text>
<rect x="559.64" y="357.24" width="76.33" height="8.62" fill="#f0dca7"/>
<text x="552.40" y="364.05" font-size="5.65" text-anchor="end" fill="#4d4d4d" >chemotaxis</text>
<rect x="559.64" y="366.82" width="71.84" height="8.62" fill="#f1efe3"/>
<text x="552.40" y="373.63" font-size="5.65" text-anchor="end" fill="#4d4d4d" >ameboidal-type cell migration</text>
<rect x="559.64" y="376.39" width="67.35" height="8.62" fill="#ebc553"/>
<text x="552.40" y="383.20" font-size="5.65" text-anchor="end" fill="#4d4d4d" >response to tumor necrosis factor</text>
<rect x="559.64" y="385.97" width="67.35" height="8.62" fill="#eef1f4"/>
<text x="552.40" y="392.78" font-size="5.65" text-anchor="end" fill="#4d4d4d" >positive regulation of cell adhesion</text>
<rect x="559.64" y="395.55" width="67.35" height="8.62" fill="#f2e4be"/>
<text x="552.40" y="402.35" font-size="5.65" text-anchor="end" fill="#4d4d4d" >leukocyte migration</text>
<rect x="555.6" y="317.5" width="88.90" height="88.10" fill="none" stroke="#6a6a6a" stroke-width="0.75"/>
<text x="559.64" y="412.70" font-size="4.9" text-anchor="middle" fill="#5e5e5e" >0</text>
<text x="582.09" y="412.70" font-size="4.9" text-anchor="middle" fill="#5e5e5e" >5</text>
<text x="604.54" y="412.70" font-size="4.9" text-anchor="middle" fill="#5e5e5e" >10</text>
<text x="626.99" y="412.70" font-size="4.9" text-anchor="middle" fill="#5e5e5e" >15</text>
<text x="600.15" y="419.60" font-size="6.3" text-anchor="middle" fill="#111" >Count</text>
<line x1="653.8" x2="656.4" y1="336.10" y2="336.10" stroke="#8a8a8a" stroke-width="0.6"/>
<text x="657.60" y="337.90" font-size="6.4" text-anchor="start" fill="#1a1a1a" >Log</text>
<text x="668.50" y="338.90" font-size="3.9" text-anchor="start" fill="#333" >10</text>
<text x="673.70" y="336.90" font-size="5.7" text-anchor="start" fill="#1a1a1a" font-weight="bold">P</text>
<text x="677.60" y="338.50" font-size="4.6" text-anchor="start" fill="#333" font-style="italic">adj</text>
<defs><linearGradient id="g140446396371584" x1="0" y1="0" x2="0" y2="1"><stop offset="0.000" stop-color="#e9bf45"/><stop offset="0.143" stop-color="#ecc660"/><stop offset="0.286" stop-color="#efcc79"/><stop offset="0.429" stop-color="#f1d391"/><stop offset="0.571" stop-color="#f2daa9"/><stop offset="0.714" stop-color="#f2e1c1"/><stop offset="0.857" stop-color="#f0e8d9"/><stop offset="1.000" stop-color="#eeeff1"/></linearGradient></defs>
<rect x="653.3" y="343.0" width="9.9" height="47.50" fill="url(#g140446396371584)"/>
<line x1="653.3" x2="655.3" y1="349.5" y2="349.5" stroke="#fff" stroke-width="0.4" opacity="0.35"/>
<line x1="661.1999999999999" x2="663.1999999999999" y1="349.5" y2="349.5" stroke="#fff" stroke-width="0.4" opacity="0.35"/>
<text x="666.40" y="351.50" font-size="4.9" text-anchor="start" fill="#4d4d4d" >5</text>
<line x1="653.3" x2="655.3" y1="361.5" y2="361.5" stroke="#fff" stroke-width="0.4" opacity="0.35"/>
<line x1="661.1999999999999" x2="663.1999999999999" y1="361.5" y2="361.5" stroke="#fff" stroke-width="0.4" opacity="0.35"/>
<text x="666.40" y="363.50" font-size="4.9" text-anchor="start" fill="#4d4d4d" >4</text>
<line x1="653.3" x2="655.3" y1="373.5" y2="373.5" stroke="#fff" stroke-width="0.4" opacity="0.35"/>
<line x1="661.1999999999999" x2="663.1999999999999" y1="373.5" y2="373.5" stroke="#fff" stroke-width="0.4" opacity="0.35"/>
<text x="666.40" y="375.50" font-size="4.9" text-anchor="start" fill="#4d4d4d" >3</text>
<line x1="653.3" x2="655.3" y1="385.5" y2="385.5" stroke="#fff" stroke-width="0.4" opacity="0.35"/>
<line x1="661.1999999999999" x2="663.1999999999999" y1="385.5" y2="385.5" stroke="#fff" stroke-width="0.4" opacity="0.35"/>
<text x="666.40" y="387.50" font-size="4.9" text-anchor="start" fill="#4d4d4d" >2</text>
<text x="233.50" y="441.10" font-size="9.5" text-anchor="middle" fill="#111" >Blue and green spaces</text>
<rect x="19.6" y="445.5" width="426.30" height="34.00" fill="#ffffff"/>
<line x1="19.6" x2="445.9" y1="466.40" y2="466.40" stroke="#f8f8f8" stroke-width="0.5"/>
<line x1="19.6" x2="445.9" y1="454.40" y2="454.40" stroke="#f0f0f0" stroke-width="0.55"/>
<line x1="19.6" x2="445.9" y1="478.40" y2="478.40" stroke="#f0f0f0" stroke-width="0.55"/>
<line x1="23.14" x2="23.14" y1="445.5" y2="479.5" stroke="#f0f0f0" stroke-width="0.5"/>
<line x1="29.05" x2="29.05" y1="445.5" y2="479.5" stroke="#f0f0f0" stroke-width="0.5"/>
<line x1="34.95" x2="34.95" y1="445.5" y2="479.5" stroke="#f0f0f0" stroke-width="0.5"/>
<line x1="40.86" x2="40.86" y1="445.5" y2="479.5" stroke="#f0f0f0" stroke-width="0.5"/>
<line x1="46.76" x2="46.76" y1="445.5" y2="479.5" stroke="#f0f0f0" stroke-width="0.5"/>
<line x1="52.66" x2="52.66" y1="445.5" y2="479.5" stroke="#f0f0f0" stroke-width="0.5"/>
<line x1="58.57" x2="58.57" y1="445.5" y2="479.5" stroke="#f0f0f0" stroke-width="0.5"/>
<line x1="64.47" x2="64.47" y1="445.5" y2="479.5" stroke="#f0f0f0" stroke-width="0.5"/>
<line x1="70.38" x2="70.38" y1="445.5" y2="479.5" stroke="#f0f0f0" stroke-width="0.5"/>
<line x1="76.28" x2="76.28" y1="445.5" y2="479.5" stroke="#f0f0f0" stroke-width="0.5"/>
<line x1="82.19" x2="82.19" y1="445.5" y2="479.5" stroke="#f0f0f0" stroke-width="0.5"/>
<line x1="88.09" x2="88.09" y1="445.5" y2="479.5" stroke="#f0f0f0" stroke-width="0.5"/>
<line x1="94.00" x2="94.00" y1="445.5" y2="479.5" stroke="#f0f0f0" stroke-width="0.5"/>
<line x1="99.90" x2="99.90" y1="445.5" y2="479.5" stroke="#f0f0f0" stroke-width="0.5"/>
<line x1="105.80" x2="105.80" y1="445.5" y2="479.5" stroke="#f0f0f0" stroke-width="0.5"/>
<line x1="111.71" x2="111.71" y1="445.5" y2="479.5" stroke="#f0f0f0" stroke-width="0.5"/>
<line x1="117.61" x2="117.61" y1="445.5" y2="479.5" stroke="#f0f0f0" stroke-width="0.5"/>
<line x1="123.52" x2="123.52" y1="445.5" y2="479.5" stroke="#f0f0f0" stroke-width="0.5"/>
<line x1="129.42" x2="129.42" y1="445.5" y2="479.5" stroke="#f0f0f0" stroke-width="0.5"/>
<line x1="135.33" x2="135.33" y1="445.5" y2="479.5" stroke="#f0f0f0" stroke-width="0.5"/>
<line x1="141.23" x2="141.23" y1="445.5" y2="479.5" stroke="#f0f0f0" stroke-width="0.5"/>
<line x1="147.14" x2="147.14" y1="445.5" y2="479.5" stroke="#f0f0f0" stroke-width="0.5"/>
<line x1="153.04" x2="153.04" y1="445.5" y2="479.5" stroke="#f0f0f0" stroke-width="0.5"/>
<line x1="158.94" x2="158.94" y1="445.5" y2="479.5" stroke="#f0f0f0" stroke-width="0.5"/>
<line x1="164.85" x2="164.85" y1="445.5" y2="479.5" stroke="#f0f0f0" stroke-width="0.5"/>
<line x1="170.75" x2="170.75" y1="445.5" y2="479.5" stroke="#f0f0f0" stroke-width="0.5"/>
<line x1="176.66" x2="176.66" y1="445.5" y2="479.5" stroke="#f0f0f0" stroke-width="0.5"/>
<line x1="182.56" x2="182.56" y1="445.5" y2="479.5" stroke="#f0f0f0" stroke-width="0.5"/>
<line x1="188.47" x2="188.47" y1="445.5" y2="479.5" stroke="#f0f0f0" stroke-width="0.5"/>
<line x1="194.37" x2="194.37" y1="445.5" y2="479.5" stroke="#f0f0f0" stroke-width="0.5"/>
<line x1="200.28" x2="200.28" y1="445.5" y2="479.5" stroke="#f0f0f0" stroke-width="0.5"/>
<line x1="206.18" x2="206.18" y1="445.5" y2="479.5" stroke="#f0f0f0" stroke-width="0.5"/>
<line x1="212.08" x2="212.08" y1="445.5" y2="479.5" stroke="#f0f0f0" stroke-width="0.5"/>
<line x1="217.99" x2="217.99" y1="445.5" y2="479.5" stroke="#f0f0f0" stroke-width="0.5"/>
<line x1="223.89" x2="223.89" y1="445.5" y2="479.5" stroke="#f0f0f0" stroke-width="0.5"/>
<line x1="229.80" x2="229.80" y1="445.5" y2="479.5" stroke="#f0f0f0" stroke-width="0.5"/>
<line x1="235.70" x2="235.70" y1="445.5" y2="479.5" stroke="#f0f0f0" stroke-width="0.5"/>
<line x1="241.61" x2="241.61" y1="445.5" y2="479.5" stroke="#f0f0f0" stroke-width="0.5"/>
<line x1="247.51" x2="247.51" y1="445.5" y2="479.5" stroke="#f0f0f0" stroke-width="0.5"/>
<line x1="253.42" x2="253.42" y1="445.5" y2="479.5" stroke="#f0f0f0" stroke-width="0.5"/>
<line x1="259.32" x2="259.32" y1="445.5" y2="479.5" stroke="#f0f0f0" stroke-width="0.5"/>
<line x1="265.22" x2="265.22" y1="445.5" y2="479.5" stroke="#f0f0f0" stroke-width="0.5"/>
<line x1="271.13" x2="271.13" y1="445.5" y2="479.5" stroke="#f0f0f0" stroke-width="0.5"/>
<line x1="277.03" x2="277.03" y1="445.5" y2="479.5" stroke="#f0f0f0" stroke-width="0.5"/>
<line x1="282.94" x2="282.94" y1="445.5" y2="479.5" stroke="#f0f0f0" stroke-width="0.5"/>
<line x1="288.84" x2="288.84" y1="445.5" y2="479.5" stroke="#f0f0f0" stroke-width="0.5"/>
<line x1="294.75" x2="294.75" y1="445.5" y2="479.5" stroke="#f0f0f0" stroke-width="0.5"/>
<line x1="300.65" x2="300.65" y1="445.5" y2="479.5" stroke="#f0f0f0" stroke-width="0.5"/>
<line x1="306.56" x2="306.56" y1="445.5" y2="479.5" stroke="#f0f0f0" stroke-width="0.5"/>
<line x1="312.46" x2="312.46" y1="445.5" y2="479.5" stroke="#f0f0f0" stroke-width="0.5"/>
<line x1="318.36" x2="318.36" y1="445.5" y2="479.5" stroke="#f0f0f0" stroke-width="0.5"/>
<line x1="324.27" x2="324.27" y1="445.5" y2="479.5" stroke="#f0f0f0" stroke-width="0.5"/>
<line x1="330.17" x2="330.17" y1="445.5" y2="479.5" stroke="#f0f0f0" stroke-width="0.5"/>
<line x1="336.08" x2="336.08" y1="445.5" y2="479.5" stroke="#f0f0f0" stroke-width="0.5"/>
<line x1="341.98" x2="341.98" y1="445.5" y2="479.5" stroke="#f0f0f0" stroke-width="0.5"/>
<line x1="347.89" x2="347.89" y1="445.5" y2="479.5" stroke="#f0f0f0" stroke-width="0.5"/>
<line x1="353.79" x2="353.79" y1="445.5" y2="479.5" stroke="#f0f0f0" stroke-width="0.5"/>
<line x1="359.70" x2="359.70" y1="445.5" y2="479.5" stroke="#f0f0f0" stroke-width="0.5"/>
<line x1="365.60" x2="365.60" y1="445.5" y2="479.5" stroke="#f0f0f0" stroke-width="0.5"/>
<line x1="371.50" x2="371.50" y1="445.5" y2="479.5" stroke="#f0f0f0" stroke-width="0.5"/>
<line x1="377.41" x2="377.41" y1="445.5" y2="479.5" stroke="#f0f0f0" stroke-width="0.5"/>
<line x1="383.31" x2="383.31" y1="445.5" y2="479.5" stroke="#f0f0f0" stroke-width="0.5"/>
<line x1="389.22" x2="389.22" y1="445.5" y2="479.5" stroke="#f0f0f0" stroke-width="0.5"/>
<line x1="395.12" x2="395.12" y1="445.5" y2="479.5" stroke="#f0f0f0" stroke-width="0.5"/>
<line x1="401.03" x2="401.03" y1="445.5" y2="479.5" stroke="#f0f0f0" stroke-width="0.5"/>
<line x1="406.93" x2="406.93" y1="445.5" y2="479.5" stroke="#f0f0f0" stroke-width="0.5"/>
<line x1="412.84" x2="412.84" y1="445.5" y2="479.5" stroke="#f0f0f0" stroke-width="0.5"/>
<line x1="418.74" x2="418.74" y1="445.5" y2="479.5" stroke="#f0f0f0" stroke-width="0.5"/>
<line x1="424.64" x2="424.64" y1="445.5" y2="479.5" stroke="#f0f0f0" stroke-width="0.5"/>
<line x1="430.55" x2="430.55" y1="445.5" y2="479.5" stroke="#f0f0f0" stroke-width="0.5"/>
<line x1="436.45" x2="436.45" y1="445.5" y2="479.5" stroke="#f0f0f0" stroke-width="0.5"/>
<line x1="442.36" x2="442.36" y1="445.5" y2="479.5" stroke="#f0f0f0" stroke-width="0.5"/>
<rect x="19.6" y="445.5" width="426.30" height="34.00" fill="none" stroke="#d9d9d9" stroke-width="0.9"/>
<line x1="19.6" x2="19.6" y1="445.05" y2="479.95" stroke="#a0a0a0" stroke-width="0.9"/>
<line x1="19.6" x2="445.9" y1="479.5" y2="479.5" stroke="#a0a0a0" stroke-width="0.9"/>
<line x1="23.14" x2="23.14" y1="478.40" y2="478.10" stroke="#7ea84e" stroke-width="0.85"/>
<line x1="29.05" x2="29.05" y1="478.40" y2="478.00" stroke="#c5d9b0" stroke-width="0.85"/>
<line x1="34.95" x2="34.95" y1="478.40" y2="477.91" stroke="#7ea84e" stroke-width="0.85"/>
<line x1="40.86" x2="40.86" y1="478.40" y2="477.81" stroke="#7ea84e" stroke-width="0.85"/>
<line x1="46.76" x2="46.76" y1="478.40" y2="477.72" stroke="#7ea84e" stroke-width="0.85"/>
<line x1="52.66" x2="52.66" y1="478.40" y2="477.62" stroke="#7ea84e" stroke-width="0.85"/>
<line x1="58.57" x2="58.57" y1="478.40" y2="477.53" stroke="#c5d9b0" stroke-width="0.85"/>
<line x1="64.47" x2="64.47" y1="478.40" y2="477.44" stroke="#7ea84e" stroke-width="0.85"/>
<line x1="70.38" x2="70.38" y1="478.40" y2="477.34" stroke="#7ea84e" stroke-width="0.85"/>
<line x1="76.28" x2="76.28" y1="478.40" y2="477.25" stroke="#7ea84e" stroke-width="0.85"/>
<line x1="82.19" x2="82.19" y1="478.40" y2="477.15" stroke="#7ea84e" stroke-width="0.85"/>
<line x1="88.09" x2="88.09" y1="478.40" y2="477.06" stroke="#c5d9b0" stroke-width="0.85"/>
<line x1="94.00" x2="94.00" y1="478.40" y2="476.96" stroke="#7ea84e" stroke-width="0.85"/>
<line x1="99.90" x2="99.90" y1="478.40" y2="476.87" stroke="#7ea84e" stroke-width="0.85"/>
<line x1="105.80" x2="105.80" y1="478.40" y2="476.77" stroke="#7ea84e" stroke-width="0.85"/>
<line x1="111.71" x2="111.71" y1="478.40" y2="476.68" stroke="#7ea84e" stroke-width="0.85"/>
<line x1="117.61" x2="117.61" y1="478.40" y2="476.58" stroke="#7ea84e" stroke-width="0.85"/>
<line x1="123.52" x2="123.52" y1="478.40" y2="476.49" stroke="#c5d9b0" stroke-width="0.85"/>
<line x1="129.42" x2="129.42" y1="478.40" y2="476.39" stroke="#7ea84e" stroke-width="0.85"/>
<line x1="135.33" x2="135.33" y1="478.40" y2="476.30" stroke="#7ea84e" stroke-width="0.85"/>
<line x1="141.23" x2="141.23" y1="478.40" y2="476.20" stroke="#7ea84e" stroke-width="0.85"/>
<line x1="147.14" x2="147.14" y1="478.40" y2="476.07" stroke="#7ea84e" stroke-width="0.85"/>
<line x1="153.04" x2="153.04" y1="478.40" y2="475.95" stroke="#c5d9b0" stroke-width="0.85"/>
<line x1="158.94" x2="158.94" y1="478.40" y2="475.82" stroke="#7ea84e" stroke-width="0.85"/>
<line x1="164.85" x2="164.85" y1="478.40" y2="475.70" stroke="#c5d9b0" stroke-width="0.85"/>
<line x1="170.75" x2="170.75" y1="478.40" y2="475.57" stroke="#7ea84e" stroke-width="0.85"/>
<line x1="176.66" x2="176.66" y1="478.40" y2="475.45" stroke="#7ea84e" stroke-width="0.85"/>
<line x1="182.56" x2="182.56" y1="478.40" y2="475.32" stroke="#7ea84e" stroke-width="0.85"/>
<line x1="188.47" x2="188.47" y1="478.40" y2="475.20" stroke="#7ea84e" stroke-width="0.85"/>
<line x1="194.37" x2="194.37" y1="478.40" y2="475.07" stroke="#c5d9b0" stroke-width="0.85"/>
<line x1="200.28" x2="200.28" y1="478.40" y2="474.95" stroke="#c5d9b0" stroke-width="0.85"/>
<line x1="206.18" x2="206.18" y1="478.40" y2="474.82" stroke="#7ea84e" stroke-width="0.85"/>
<line x1="212.08" x2="212.08" y1="478.40" y2="474.70" stroke="#c5d9b0" stroke-width="0.85"/>
<line x1="217.99" x2="217.99" y1="478.40" y2="474.57" stroke="#c5d9b0" stroke-width="0.85"/>
<line x1="223.89" x2="223.89" y1="478.40" y2="474.45" stroke="#7ea84e" stroke-width="0.85"/>
<line x1="229.80" x2="229.80" y1="478.40" y2="474.32" stroke="#7ea84e" stroke-width="0.85"/>
<line x1="235.70" x2="235.70" y1="478.40" y2="474.20" stroke="#c5d9b0" stroke-width="0.85"/>
<line x1="241.61" x2="241.61" y1="478.40" y2="473.94" stroke="#7ea84e" stroke-width="0.85"/>
<line x1="247.51" x2="247.51" y1="478.40" y2="473.68" stroke="#7ea84e" stroke-width="0.85"/>
<line x1="253.42" x2="253.42" y1="478.40" y2="473.42" stroke="#c5d9b0" stroke-width="0.85"/>
<line x1="259.32" x2="259.32" y1="478.40" y2="473.15" stroke="#c5d9b0" stroke-width="0.85"/>
<line x1="265.22" x2="265.22" y1="478.40" y2="472.89" stroke="#7ea84e" stroke-width="0.85"/>
<line x1="271.13" x2="271.13" y1="478.40" y2="472.63" stroke="#7ea84e" stroke-width="0.85"/>
<line x1="277.03" x2="277.03" y1="478.40" y2="472.37" stroke="#7ea84e" stroke-width="0.85"/>
<line x1="282.94" x2="282.94" y1="478.40" y2="472.11" stroke="#c5d9b0" stroke-width="0.85"/>
<line x1="288.84" x2="288.84" y1="478.40" y2="471.85" stroke="#c5d9b0" stroke-width="0.85"/>
<line x1="294.75" x2="294.75" y1="478.40" y2="471.58" stroke="#7ea84e" stroke-width="0.85"/>
<line x1="300.65" x2="300.65" y1="478.40" y2="471.32" stroke="#7ea84e" stroke-width="0.85"/>
<line x1="306.56" x2="306.56" y1="478.40" y2="471.06" stroke="#c5d9b0" stroke-width="0.85"/>
<line x1="312.46" x2="312.46" y1="478.40" y2="470.80" stroke="#7ea84e" stroke-width="0.85"/>
<line x1="318.36" x2="318.36" y1="478.40" y2="470.54" stroke="#7ea84e" stroke-width="0.85"/>
<line x1="324.27" x2="324.27" y1="478.40" y2="470.28" stroke="#7ea84e" stroke-width="0.85"/>
<line x1="330.17" x2="330.17" y1="478.40" y2="470.02" stroke="#7ea84e" stroke-width="0.85"/>
<line x1="336.08" x2="336.08" y1="478.40" y2="469.75" stroke="#7ea84e" stroke-width="0.85"/>
<line x1="341.98" x2="341.98" y1="478.40" y2="469.49" stroke="#c5d9b0" stroke-width="0.85"/>
<line x1="347.89" x2="347.89" y1="478.40" y2="469.23" stroke="#c5d9b0" stroke-width="0.85"/>
<line x1="353.79" x2="353.79" y1="478.40" y2="468.97" stroke="#7ea84e" stroke-width="0.85"/>
<line x1="359.70" x2="359.70" y1="478.40" y2="468.71" stroke="#7ea84e" stroke-width="0.85"/>
<line x1="365.60" x2="365.60" y1="478.40" y2="468.45" stroke="#7ea84e" stroke-width="0.85"/>
<line x1="371.50" x2="371.50" y1="478.40" y2="468.18" stroke="#7ea84e" stroke-width="0.85"/>
<line x1="377.41" x2="377.41" y1="478.40" y2="467.92" stroke="#7ea84e" stroke-width="0.85"/>
<line x1="383.31" x2="383.31" y1="478.40" y2="467.66" stroke="#7ea84e" stroke-width="0.85"/>
<line x1="389.22" x2="389.22" y1="478.40" y2="467.40" stroke="#c5d9b0" stroke-width="0.85"/>
<line x1="395.12" x2="395.12" y1="478.40" y2="467.20" stroke="#7ea84e" stroke-width="0.85"/>
<line x1="401.03" x2="401.03" y1="478.40" y2="466.80" stroke="#7ea84e" stroke-width="0.85"/>
<line x1="406.93" x2="406.93" y1="478.40" y2="466.50" stroke="#c5d9b0" stroke-width="0.85"/>
<line x1="412.84" x2="412.84" y1="478.40" y2="466.10" stroke="#7ea84e" stroke-width="0.85"/>
<line x1="418.74" x2="418.74" y1="478.40" y2="464.40" stroke="#7ea84e" stroke-width="0.85"/>
<line x1="424.64" x2="424.64" y1="478.40" y2="461.70" stroke="#7ea84e" stroke-width="0.85"/>
<line x1="430.55" x2="430.55" y1="478.40" y2="457.00" stroke="#7ea84e" stroke-width="0.85"/>
<line x1="436.45" x2="436.45" y1="478.40" y2="447.90" stroke="#c5d9b0" stroke-width="0.85"/>
<line x1="442.36" x2="442.36" y1="478.40" y2="447.20" stroke="#c5d9b0" stroke-width="0.85"/>
<circle cx="23.14" cy="478.10" r="1.4" fill="#72a03f"/>
<circle cx="29.05" cy="478.00" r="1.4" fill="#72a03f"/>
<circle cx="34.95" cy="477.91" r="1.4" fill="#72a03f"/>
<circle cx="40.86" cy="477.81" r="1.4" fill="#72a03f"/>
<circle cx="46.76" cy="477.72" r="1.4" fill="#72a03f"/>
<circle cx="52.66" cy="477.62" r="1.4" fill="#72a03f"/>
<circle cx="58.57" cy="477.53" r="1.4" fill="#72a03f"/>
<circle cx="64.47" cy="477.44" r="1.4" fill="#72a03f"/>
<circle cx="70.38" cy="477.34" r="1.4" fill="#72a03f"/>
<circle cx="76.28" cy="477.25" r="1.4" fill="#72a03f"/>
<circle cx="82.19" cy="477.15" r="1.4" fill="#72a03f"/>
<circle cx="88.09" cy="477.06" r="1.4" fill="#72a03f"/>
<circle cx="94.00" cy="476.96" r="1.4" fill="#72a03f"/>
<circle cx="99.90" cy="476.87" r="1.4" fill="#72a03f"/>
<circle cx="105.80" cy="476.77" r="1.4" fill="#72a03f"/>
<circle cx="111.71" cy="476.68" r="1.4" fill="#72a03f"/>
<circle cx="117.61" cy="476.58" r="1.4" fill="#72a03f"/>
<circle cx="123.52" cy="476.49" r="1.4" fill="#72a03f"/>
<circle cx="129.42" cy="476.39" r="1.4" fill="#72a03f"/>
<circle cx="135.33" cy="476.30" r="1.4" fill="#72a03f"/>
<circle cx="141.23" cy="476.20" r="1.4" fill="#72a03f"/>
<circle cx="147.14" cy="476.07" r="1.4" fill="#72a03f"/>
<circle cx="153.04" cy="475.95" r="1.4" fill="#72a03f"/>
<circle cx="158.94" cy="475.82" r="1.4" fill="#72a03f"/>
<circle cx="164.85" cy="475.70" r="1.4" fill="#72a03f"/>
<circle cx="170.75" cy="475.57" r="1.4" fill="#72a03f"/>
<circle cx="176.66" cy="475.45" r="1.4" fill="#72a03f"/>
<circle cx="182.56" cy="475.32" r="1.4" fill="#72a03f"/>
<circle cx="188.47" cy="475.20" r="1.4" fill="#72a03f"/>
<circle cx="194.37" cy="475.07" r="1.4" fill="#72a03f"/>
<circle cx="200.28" cy="474.95" r="1.4" fill="#72a03f"/>
<circle cx="206.18" cy="474.82" r="1.4" fill="#72a03f"/>
<circle cx="212.08" cy="474.70" r="1.4" fill="#72a03f"/>
<circle cx="217.99" cy="474.57" r="1.4" fill="#72a03f"/>
<circle cx="223.89" cy="474.45" r="1.4" fill="#72a03f"/>
<circle cx="229.80" cy="474.32" r="1.4" fill="#72a03f"/>
<circle cx="235.70" cy="474.20" r="1.4" fill="#72a03f"/>
<circle cx="241.61" cy="473.94" r="1.4" fill="#72a03f"/>
<circle cx="247.51" cy="473.68" r="1.4" fill="#72a03f"/>
<circle cx="253.42" cy="473.42" r="1.4" fill="#72a03f"/>
<circle cx="259.32" cy="473.15" r="1.4" fill="#72a03f"/>
<circle cx="265.22" cy="472.89" r="1.4" fill="#72a03f"/>
<circle cx="271.13" cy="472.63" r="1.4" fill="#72a03f"/>
<circle cx="277.03" cy="472.37" r="1.4" fill="#72a03f"/>
<circle cx="282.94" cy="472.11" r="1.4" fill="#72a03f"/>
<circle cx="288.84" cy="471.85" r="1.4" fill="#72a03f"/>
<circle cx="294.75" cy="471.58" r="1.4" fill="#72a03f"/>
<circle cx="300.65" cy="471.32" r="1.4" fill="#72a03f"/>
<circle cx="306.56" cy="471.06" r="1.4" fill="#72a03f"/>
<circle cx="312.46" cy="470.80" r="1.4" fill="#72a03f"/>
<circle cx="318.36" cy="470.54" r="1.4" fill="#72a03f"/>
<circle cx="324.27" cy="470.28" r="1.4" fill="#72a03f"/>
<circle cx="330.17" cy="470.02" r="1.4" fill="#72a03f"/>
<circle cx="336.08" cy="469.75" r="1.4" fill="#72a03f"/>
<circle cx="341.98" cy="469.49" r="1.4" fill="#72a03f"/>
<circle cx="347.89" cy="469.23" r="1.4" fill="#72a03f"/>
<circle cx="353.79" cy="468.97" r="1.4" fill="#72a03f"/>
<circle cx="359.70" cy="468.71" r="1.4" fill="#72a03f"/>
<circle cx="365.60" cy="468.45" r="1.4" fill="#72a03f"/>
<circle cx="371.50" cy="468.18" r="1.4" fill="#72a03f"/>
<circle cx="377.41" cy="467.92" r="1.4" fill="#72a03f"/>
<circle cx="383.31" cy="467.66" r="1.4" fill="#72a03f"/>
<circle cx="389.22" cy="467.40" r="1.4" fill="#72a03f"/>
<circle cx="395.12" cy="467.20" r="1.4" fill="#72a03f"/>
<circle cx="401.03" cy="466.80" r="1.4" fill="#72a03f"/>
<circle cx="406.93" cy="466.50" r="1.4" fill="#72a03f"/>
<circle cx="412.84" cy="466.10" r="1.4" fill="#72a03f"/>
<circle cx="418.74" cy="464.40" r="1.4" fill="#72a03f"/>
<circle cx="424.64" cy="461.70" r="1.4" fill="#72a03f"/>
<circle cx="430.55" cy="457.00" r="1.4" fill="#72a03f"/>
<circle cx="436.45" cy="447.90" r="1.4" fill="#72a03f"/>
<circle cx="442.36" cy="447.20" r="1.4" fill="#72a03f"/>
<line x1="17.90" x2="19.6" y1="454.4" y2="454.4" stroke="#333" stroke-width="0.6"/>
<text x="17.00" y="456.50" font-size="4.9" text-anchor="end" fill="#555555" >0.05</text>
<line x1="17.90" x2="19.6" y1="478.4" y2="478.4" stroke="#333" stroke-width="0.6"/>
<text x="17.00" y="480.50" font-size="4.9" text-anchor="end" fill="#555555" >0.00</text>
<line x1="23.14" x2="23.14" y1="479.5" y2="481.20" stroke="#333" stroke-width="0.6"/>
<text transform="translate(26.04,483.90) rotate(-60)" font-size="5.0" text-anchor="end" fill="#444444">HYAL1</text>
<line x1="29.05" x2="29.05" y1="479.5" y2="481.20" stroke="#333" stroke-width="0.6"/>
<text transform="translate(31.95,483.90) rotate(-60)" font-size="5.0" text-anchor="end" fill="#444444">ABCA3</text>
<line x1="34.95" x2="34.95" y1="479.5" y2="481.20" stroke="#333" stroke-width="0.6"/>
<text transform="translate(37.85,483.90) rotate(-60)" font-size="5.0" text-anchor="end" fill="#444444">FGFBP1</text>
<line x1="40.86" x2="40.86" y1="479.5" y2="481.20" stroke="#333" stroke-width="0.6"/>
<text transform="translate(43.76,483.90) rotate(-60)" font-size="5.0" text-anchor="end" fill="#444444">GPR37</text>
<line x1="46.76" x2="46.76" y1="479.5" y2="481.20" stroke="#333" stroke-width="0.6"/>
<text transform="translate(49.66,483.90) rotate(-60)" font-size="5.0" text-anchor="end" fill="#444444">ENG</text>
<line x1="52.66" x2="52.66" y1="479.5" y2="481.20" stroke="#333" stroke-width="0.6"/>
<text transform="translate(55.56,483.90) rotate(-60)" font-size="5.0" text-anchor="end" fill="#444444">B3GNT7</text>
<line x1="58.57" x2="58.57" y1="479.5" y2="481.20" stroke="#333" stroke-width="0.6"/>
<text transform="translate(61.47,483.90) rotate(-60)" font-size="5.0" text-anchor="end" fill="#444444">CEACAM6</text>
<line x1="64.47" x2="64.47" y1="479.5" y2="481.20" stroke="#333" stroke-width="0.6"/>
<text transform="translate(67.37,483.90) rotate(-60)" font-size="5.0" text-anchor="end" fill="#444444">IL17C</text>
<line x1="70.38" x2="70.38" y1="479.5" y2="481.20" stroke="#333" stroke-width="0.6"/>
<text transform="translate(73.28,483.90) rotate(-60)" font-size="5.0" text-anchor="end" fill="#444444">SERPING1</text>
<line x1="76.28" x2="76.28" y1="479.5" y2="481.20" stroke="#333" stroke-width="0.6"/>
<text transform="translate(79.18,483.90) rotate(-60)" font-size="5.0" text-anchor="end" fill="#444444">SCRG1</text>
<line x1="82.19" x2="82.19" y1="479.5" y2="481.20" stroke="#333" stroke-width="0.6"/>
<text transform="translate(85.09,483.90) rotate(-60)" font-size="5.0" text-anchor="end" fill="#444444">STC1</text>
<line x1="88.09" x2="88.09" y1="479.5" y2="481.20" stroke="#333" stroke-width="0.6"/>
<text transform="translate(90.99,483.90) rotate(-60)" font-size="5.0" text-anchor="end" fill="#444444">KLRB1</text>
<line x1="94.00" x2="94.00" y1="479.5" y2="481.20" stroke="#333" stroke-width="0.6"/>
<text transform="translate(96.90,483.90) rotate(-60)" font-size="5.0" text-anchor="end" fill="#444444">IL1RL1</text>
<line x1="99.90" x2="99.90" y1="479.5" y2="481.20" stroke="#333" stroke-width="0.6"/>
<text transform="translate(102.80,483.90) rotate(-60)" font-size="5.0" text-anchor="end" fill="#444444">ST6GAL2</text>
<line x1="105.80" x2="105.80" y1="479.5" y2="481.20" stroke="#333" stroke-width="0.6"/>
<text transform="translate(108.70,483.90) rotate(-60)" font-size="5.0" text-anchor="end" fill="#444444">IGFBP2</text>
<line x1="111.71" x2="111.71" y1="479.5" y2="481.20" stroke="#333" stroke-width="0.6"/>
<text transform="translate(114.61,483.90) rotate(-60)" font-size="5.0" text-anchor="end" fill="#444444">FAM3B</text>
<line x1="117.61" x2="117.61" y1="479.5" y2="481.20" stroke="#333" stroke-width="0.6"/>
<text transform="translate(120.51,483.90) rotate(-60)" font-size="5.0" text-anchor="end" fill="#444444">ADGRG1</text>
<line x1="123.52" x2="123.52" y1="479.5" y2="481.20" stroke="#333" stroke-width="0.6"/>
<text transform="translate(126.42,483.90) rotate(-60)" font-size="5.0" text-anchor="end" fill="#444444">CCL16</text>
<line x1="129.42" x2="129.42" y1="479.5" y2="481.20" stroke="#333" stroke-width="0.6"/>
<text transform="translate(132.32,483.90) rotate(-60)" font-size="5.0" text-anchor="end" fill="#444444">EPHA2</text>
<line x1="135.33" x2="135.33" y1="479.5" y2="481.20" stroke="#333" stroke-width="0.6"/>
<text transform="translate(138.23,483.90) rotate(-60)" font-size="5.0" text-anchor="end" fill="#444444">ST6GAL1</text>
<line x1="141.23" x2="141.23" y1="479.5" y2="481.20" stroke="#333" stroke-width="0.6"/>
<text transform="translate(144.13,483.90) rotate(-60)" font-size="5.0" text-anchor="end" fill="#444444">FAM3C</text>
<line x1="147.14" x2="147.14" y1="479.5" y2="481.20" stroke="#333" stroke-width="0.6"/>
<text transform="translate(150.04,483.90) rotate(-60)" font-size="5.0" text-anchor="end" fill="#444444">VWA1</text>
<line x1="153.04" x2="153.04" y1="479.5" y2="481.20" stroke="#333" stroke-width="0.6"/>
<text transform="translate(155.94,483.90) rotate(-60)" font-size="5.0" text-anchor="end" fill="#444444">TPP1</text>
<line x1="158.94" x2="158.94" y1="479.5" y2="481.20" stroke="#333" stroke-width="0.6"/>
<text transform="translate(161.84,483.90) rotate(-60)" font-size="5.0" text-anchor="end" fill="#444444">SPINK4</text>
<line x1="164.85" x2="164.85" y1="479.5" y2="481.20" stroke="#333" stroke-width="0.6"/>
<text transform="translate(167.75,483.90) rotate(-60)" font-size="5.0" text-anchor="end" fill="#444444">CEACAM1</text>
<line x1="170.75" x2="170.75" y1="479.5" y2="481.20" stroke="#333" stroke-width="0.6"/>
<text transform="translate(173.65,483.90) rotate(-60)" font-size="5.0" text-anchor="end" fill="#444444">ADAMTS13</text>
<line x1="176.66" x2="176.66" y1="479.5" y2="481.20" stroke="#333" stroke-width="0.6"/>
<text transform="translate(179.56,483.90) rotate(-60)" font-size="5.0" text-anchor="end" fill="#444444">EDAR</text>
<line x1="182.56" x2="182.56" y1="479.5" y2="481.20" stroke="#333" stroke-width="0.6"/>
<text transform="translate(185.46,483.90) rotate(-60)" font-size="5.0" text-anchor="end" fill="#444444">BCAN</text>
<line x1="188.47" x2="188.47" y1="479.5" y2="481.20" stroke="#333" stroke-width="0.6"/>
<text transform="translate(191.37,483.90) rotate(-60)" font-size="5.0" text-anchor="end" fill="#444444">ADAMTSL2</text>
<line x1="194.37" x2="194.37" y1="479.5" y2="481.20" stroke="#333" stroke-width="0.6"/>
<text transform="translate(197.27,483.90) rotate(-60)" font-size="5.0" text-anchor="end" fill="#444444">HAVCR1</text>
<line x1="200.28" x2="200.28" y1="479.5" y2="481.20" stroke="#333" stroke-width="0.6"/>
<text transform="translate(203.18,483.90) rotate(-60)" font-size="5.0" text-anchor="end" fill="#444444">EPHB4</text>
<line x1="206.18" x2="206.18" y1="479.5" y2="481.20" stroke="#333" stroke-width="0.6"/>
<text transform="translate(209.08,483.90) rotate(-60)" font-size="5.0" text-anchor="end" fill="#444444">CXCL17</text>
<line x1="212.08" x2="212.08" y1="479.5" y2="481.20" stroke="#333" stroke-width="0.6"/>
<text transform="translate(214.98,483.90) rotate(-60)" font-size="5.0" text-anchor="end" fill="#444444">CTSB</text>
<line x1="217.99" x2="217.99" y1="479.5" y2="481.20" stroke="#333" stroke-width="0.6"/>
<text transform="translate(220.89,483.90) rotate(-60)" font-size="5.0" text-anchor="end" fill="#444444">FCAR</text>
<line x1="223.89" x2="223.89" y1="479.5" y2="481.20" stroke="#333" stroke-width="0.6"/>
<text transform="translate(226.79,483.90) rotate(-60)" font-size="5.0" text-anchor="end" fill="#444444">TFF2</text>
<line x1="229.80" x2="229.80" y1="479.5" y2="481.20" stroke="#333" stroke-width="0.6"/>
<text transform="translate(232.70,483.90) rotate(-60)" font-size="5.0" text-anchor="end" fill="#444444">CNMD</text>
<line x1="235.70" x2="235.70" y1="479.5" y2="481.20" stroke="#333" stroke-width="0.6"/>
<text transform="translate(238.60,483.90) rotate(-60)" font-size="5.0" text-anchor="end" fill="#444444">ANXA9</text>
<line x1="241.61" x2="241.61" y1="479.5" y2="481.20" stroke="#333" stroke-width="0.6"/>
<text transform="translate(244.51,483.90) rotate(-60)" font-size="5.0" text-anchor="end" fill="#444444">CEACAM5</text>
<line x1="247.51" x2="247.51" y1="479.5" y2="481.20" stroke="#333" stroke-width="0.6"/>
<text transform="translate(250.41,483.90) rotate(-60)" font-size="5.0" text-anchor="end" fill="#444444">EPS8L2</text>
<line x1="253.42" x2="253.42" y1="479.5" y2="481.20" stroke="#333" stroke-width="0.6"/>
<text transform="translate(256.32,483.90) rotate(-60)" font-size="5.0" text-anchor="end" fill="#444444">GAST</text>
<line x1="259.32" x2="259.32" y1="479.5" y2="481.20" stroke="#333" stroke-width="0.6"/>
<text transform="translate(262.22,483.90) rotate(-60)" font-size="5.0" text-anchor="end" fill="#444444">SELE</text>
<line x1="265.22" x2="265.22" y1="479.5" y2="481.20" stroke="#333" stroke-width="0.6"/>
<text transform="translate(268.12,483.90) rotate(-60)" font-size="5.0" text-anchor="end" fill="#444444">CTSV</text>
<line x1="271.13" x2="271.13" y1="479.5" y2="481.20" stroke="#333" stroke-width="0.6"/>
<text transform="translate(274.03,483.90) rotate(-60)" font-size="5.0" text-anchor="end" fill="#444444">TYRP1</text>
<line x1="277.03" x2="277.03" y1="479.5" y2="481.20" stroke="#333" stroke-width="0.6"/>
<text transform="translate(279.93,483.90) rotate(-60)" font-size="5.0" text-anchor="end" fill="#444444">ENAH</text>
<line x1="282.94" x2="282.94" y1="479.5" y2="481.20" stroke="#333" stroke-width="0.6"/>
<text transform="translate(285.84,483.90) rotate(-60)" font-size="5.0" text-anchor="end" fill="#444444">GRN</text>
<line x1="288.84" x2="288.84" y1="479.5" y2="481.20" stroke="#333" stroke-width="0.6"/>
<text transform="translate(291.74,483.90) rotate(-60)" font-size="5.0" text-anchor="end" fill="#444444">GDF15</text>
<line x1="294.75" x2="294.75" y1="479.5" y2="481.20" stroke="#333" stroke-width="0.6"/>
<text transform="translate(297.65,483.90) rotate(-60)" font-size="5.0" text-anchor="end" fill="#444444">SERPINB8</text>
<line x1="300.65" x2="300.65" y1="479.5" y2="481.20" stroke="#333" stroke-width="0.6"/>
<text transform="translate(303.55,483.90) rotate(-60)" font-size="5.0" text-anchor="end" fill="#444444">SIGLEC7</text>
<line x1="306.56" x2="306.56" y1="479.5" y2="481.20" stroke="#333" stroke-width="0.6"/>
<text transform="translate(309.46,483.90) rotate(-60)" font-size="5.0" text-anchor="end" fill="#444444">CKB</text>
<line x1="312.46" x2="312.46" y1="479.5" y2="481.20" stroke="#333" stroke-width="0.6"/>
<text transform="translate(315.36,483.90) rotate(-60)" font-size="5.0" text-anchor="end" fill="#444444">GPR15</text>
<line x1="318.36" x2="318.36" y1="479.5" y2="481.20" stroke="#333" stroke-width="0.6"/>
<text transform="translate(321.26,483.90) rotate(-60)" font-size="5.0" text-anchor="end" fill="#444444">LAMA4</text>
<line x1="324.27" x2="324.27" y1="479.5" y2="481.20" stroke="#333" stroke-width="0.6"/>
<text transform="translate(327.17,483.90) rotate(-60)" font-size="5.0" text-anchor="end" fill="#444444">AMBP</text>
<line x1="330.17" x2="330.17" y1="479.5" y2="481.20" stroke="#333" stroke-width="0.6"/>
<text transform="translate(333.07,483.90) rotate(-60)" font-size="5.0" text-anchor="end" fill="#444444">CCL3</text>
<line x1="336.08" x2="336.08" y1="479.5" y2="481.20" stroke="#333" stroke-width="0.6"/>
<text transform="translate(338.98,483.90) rotate(-60)" font-size="5.0" text-anchor="end" fill="#444444">ACVRL1</text>
<line x1="341.98" x2="341.98" y1="479.5" y2="481.20" stroke="#333" stroke-width="0.6"/>
<text transform="translate(344.88,483.90) rotate(-60)" font-size="5.0" text-anchor="end" fill="#444444">OSMR</text>
<line x1="347.89" x2="347.89" y1="479.5" y2="481.20" stroke="#333" stroke-width="0.6"/>
<text transform="translate(350.79,483.90) rotate(-60)" font-size="5.0" text-anchor="end" fill="#444444">IGFBP1</text>
<line x1="353.79" x2="353.79" y1="479.5" y2="481.20" stroke="#333" stroke-width="0.6"/>
<text transform="translate(356.69,483.90) rotate(-60)" font-size="5.0" text-anchor="end" fill="#444444">SIGLEC1</text>
<line x1="359.70" x2="359.70" y1="479.5" y2="481.20" stroke="#333" stroke-width="0.6"/>
<text transform="translate(362.60,483.90) rotate(-60)" font-size="5.0" text-anchor="end" fill="#444444">LILRA5</text>
<line x1="365.60" x2="365.60" y1="479.5" y2="481.20" stroke="#333" stroke-width="0.6"/>
<text transform="translate(368.50,483.90) rotate(-60)" font-size="5.0" text-anchor="end" fill="#444444">SUSD2</text>
<line x1="371.50" x2="371.50" y1="479.5" y2="481.20" stroke="#333" stroke-width="0.6"/>
<text transform="translate(374.40,483.90) rotate(-60)" font-size="5.0" text-anchor="end" fill="#444444">CD59</text>
<line x1="377.41" x2="377.41" y1="479.5" y2="481.20" stroke="#333" stroke-width="0.6"/>
<text transform="translate(380.31,483.90) rotate(-60)" font-size="5.0" text-anchor="end" fill="#444444">SOD2</text>
<line x1="383.31" x2="383.31" y1="479.5" y2="481.20" stroke="#333" stroke-width="0.6"/>
<text transform="translate(386.21,483.90) rotate(-60)" font-size="5.0" text-anchor="end" fill="#444444">SMOC2</text>
<line x1="389.22" x2="389.22" y1="479.5" y2="481.20" stroke="#333" stroke-width="0.6"/>
<text transform="translate(392.12,483.90) rotate(-60)" font-size="5.0" text-anchor="end" fill="#444444">IGFBPL1</text>
<line x1="395.12" x2="395.12" y1="479.5" y2="481.20" stroke="#333" stroke-width="0.6"/>
<text transform="translate(398.02,483.90) rotate(-60)" font-size="5.0" text-anchor="end" fill="#444444">HAVCR2</text>
<line x1="401.03" x2="401.03" y1="479.5" y2="481.20" stroke="#333" stroke-width="0.6"/>
<text transform="translate(403.93,483.90) rotate(-60)" font-size="5.0" text-anchor="end" fill="#444444">SPINK5</text>
<line x1="406.93" x2="406.93" y1="479.5" y2="481.20" stroke="#333" stroke-width="0.6"/>
<text transform="translate(409.83,483.90) rotate(-60)" font-size="5.0" text-anchor="end" fill="#444444">SCG3</text>
<line x1="412.84" x2="412.84" y1="479.5" y2="481.20" stroke="#333" stroke-width="0.6"/>
<text transform="translate(415.74,483.90) rotate(-60)" font-size="5.0" text-anchor="end" fill="#444444">RBP5</text>
<line x1="418.74" x2="418.74" y1="479.5" y2="481.20" stroke="#333" stroke-width="0.6"/>
<text transform="translate(421.64,483.90) rotate(-60)" font-size="5.0" text-anchor="end" fill="#444444">CTSD</text>
<line x1="424.64" x2="424.64" y1="479.5" y2="481.20" stroke="#333" stroke-width="0.6"/>
<text transform="translate(427.54,483.90) rotate(-60)" font-size="5.0" text-anchor="end" fill="#444444">TNFRSF10A</text>
<line x1="430.55" x2="430.55" y1="479.5" y2="481.20" stroke="#333" stroke-width="0.6"/>
<text transform="translate(433.45,483.90) rotate(-60)" font-size="5.0" text-anchor="end" fill="#444444">ITGAV</text>
<line x1="436.45" x2="436.45" y1="479.5" y2="481.20" stroke="#333" stroke-width="0.6"/>
<text transform="translate(439.35,483.90) rotate(-60)" font-size="5.0" text-anchor="end" fill="#444444">CDCP1</text>
<line x1="442.36" x2="442.36" y1="479.5" y2="481.20" stroke="#333" stroke-width="0.6"/>
<text transform="translate(445.26,483.90) rotate(-60)" font-size="5.0" text-anchor="end" fill="#444444">IGFBP4</text>
<rect x="446.55" y="446.25" width="8.10" height="33.30" fill="#bdd5a2" stroke="#4e5f40" stroke-width="0.7"/>
<text transform="translate(449.00,462.50) rotate(90)" font-size="4.8" text-anchor="middle" fill="#1a1a1a">Positive</text>
<rect x="19.6" y="511.4" width="426.30" height="33.90" fill="#ffffff"/>
<line x1="19.6" x2="445.9" y1="513.00" y2="513.00" stroke="#f0f0f0" stroke-width="0.55"/>
<line x1="22.91" x2="22.91" y1="511.4" y2="545.3" stroke="#f0f0f0" stroke-width="0.5"/>
<line x1="28.44" x2="28.44" y1="511.4" y2="545.3" stroke="#f0f0f0" stroke-width="0.5"/>
<line x1="33.96" x2="33.96" y1="511.4" y2="545.3" stroke="#f0f0f0" stroke-width="0.5"/>
<line x1="39.48" x2="39.48" y1="511.4" y2="545.3" stroke="#f0f0f0" stroke-width="0.5"/>
<line x1="45.00" x2="45.00" y1="511.4" y2="545.3" stroke="#f0f0f0" stroke-width="0.5"/>
<line x1="50.52" x2="50.52" y1="511.4" y2="545.3" stroke="#f0f0f0" stroke-width="0.5"/>
<line x1="56.05" x2="56.05" y1="511.4" y2="545.3" stroke="#f0f0f0" stroke-width="0.5"/>
<line x1="61.57" x2="61.57" y1="511.4" y2="545.3" stroke="#f0f0f0" stroke-width="0.5"/>
<line x1="67.09" x2="67.09" y1="511.4" y2="545.3" stroke="#f0f0f0" stroke-width="0.5"/>
<line x1="72.61" x2="72.61" y1="511.4" y2="545.3" stroke="#f0f0f0" stroke-width="0.5"/>
<line x1="78.13" x2="78.13" y1="511.4" y2="545.3" stroke="#f0f0f0" stroke-width="0.5"/>
<line x1="83.66" x2="83.66" y1="511.4" y2="545.3" stroke="#f0f0f0" stroke-width="0.5"/>
<line x1="89.18" x2="89.18" y1="511.4" y2="545.3" stroke="#f0f0f0" stroke-width="0.5"/>
<line x1="94.70" x2="94.70" y1="511.4" y2="545.3" stroke="#f0f0f0" stroke-width="0.5"/>
<line x1="100.22" x2="100.22" y1="511.4" y2="545.3" stroke="#f0f0f0" stroke-width="0.5"/>
<line x1="105.74" x2="105.74" y1="511.4" y2="545.3" stroke="#f0f0f0" stroke-width="0.5"/>
<line x1="111.27" x2="111.27" y1="511.4" y2="545.3" stroke="#f0f0f0" stroke-width="0.5"/>
<line x1="116.79" x2="116.79" y1="511.4" y2="545.3" stroke="#f0f0f0" stroke-width="0.5"/>
<line x1="122.31" x2="122.31" y1="511.4" y2="545.3" stroke="#f0f0f0" stroke-width="0.5"/>
<line x1="127.83" x2="127.83" y1="511.4" y2="545.3" stroke="#f0f0f0" stroke-width="0.5"/>
<line x1="133.35" x2="133.35" y1="511.4" y2="545.3" stroke="#f0f0f0" stroke-width="0.5"/>
<line x1="138.88" x2="138.88" y1="511.4" y2="545.3" stroke="#f0f0f0" stroke-width="0.5"/>
<line x1="144.40" x2="144.40" y1="511.4" y2="545.3" stroke="#f0f0f0" stroke-width="0.5"/>
<line x1="149.92" x2="149.92" y1="511.4" y2="545.3" stroke="#f0f0f0" stroke-width="0.5"/>
<line x1="155.44" x2="155.44" y1="511.4" y2="545.3" stroke="#f0f0f0" stroke-width="0.5"/>
<line x1="160.96" x2="160.96" y1="511.4" y2="545.3" stroke="#f0f0f0" stroke-width="0.5"/>
<line x1="166.49" x2="166.49" y1="511.4" y2="545.3" stroke="#f0f0f0" stroke-width="0.5"/>
<line x1="172.01" x2="172.01" y1="511.4" y2="545.3" stroke="#f0f0f0" stroke-width="0.5"/>
<line x1="177.53" x2="177.53" y1="511.4" y2="545.3" stroke="#f0f0f0" stroke-width="0.5"/>
<line x1="183.05" x2="183.05" y1="511.4" y2="545.3" stroke="#f0f0f0" stroke-width="0.5"/>
<line x1="188.57" x2="188.57" y1="511.4" y2="545.3" stroke="#f0f0f0" stroke-width="0.5"/>
<line x1="194.10" x2="194.10" y1="511.4" y2="545.3" stroke="#f0f0f0" stroke-width="0.5"/>
<line x1="199.62" x2="199.62" y1="511.4" y2="545.3" stroke="#f0f0f0" stroke-width="0.5"/>
<line x1="205.14" x2="205.14" y1="511.4" y2="545.3" stroke="#f0f0f0" stroke-width="0.5"/>
<line x1="210.66" x2="210.66" y1="511.4" y2="545.3" stroke="#f0f0f0" stroke-width="0.5"/>
<line x1="216.18" x2="216.18" y1="511.4" y2="545.3" stroke="#f0f0f0" stroke-width="0.5"/>
<line x1="221.71" x2="221.71" y1="511.4" y2="545.3" stroke="#f0f0f0" stroke-width="0.5"/>
<line x1="227.23" x2="227.23" y1="511.4" y2="545.3" stroke="#f0f0f0" stroke-width="0.5"/>
<line x1="232.75" x2="232.75" y1="511.4" y2="545.3" stroke="#f0f0f0" stroke-width="0.5"/>
<line x1="238.27" x2="238.27" y1="511.4" y2="545.3" stroke="#f0f0f0" stroke-width="0.5"/>
<line x1="243.79" x2="243.79" y1="511.4" y2="545.3" stroke="#f0f0f0" stroke-width="0.5"/>
<line x1="249.32" x2="249.32" y1="511.4" y2="545.3" stroke="#f0f0f0" stroke-width="0.5"/>
<line x1="254.84" x2="254.84" y1="511.4" y2="545.3" stroke="#f0f0f0" stroke-width="0.5"/>
<line x1="260.36" x2="260.36" y1="511.4" y2="545.3" stroke="#f0f0f0" stroke-width="0.5"/>
<line x1="265.88" x2="265.88" y1="511.4" y2="545.3" stroke="#f0f0f0" stroke-width="0.5"/>
<line x1="271.40" x2="271.40" y1="511.4" y2="545.3" stroke="#f0f0f0" stroke-width="0.5"/>
<line x1="276.93" x2="276.93" y1="511.4" y2="545.3" stroke="#f0f0f0" stroke-width="0.5"/>
<line x1="282.45" x2="282.45" y1="511.4" y2="545.3" stroke="#f0f0f0" stroke-width="0.5"/>
<line x1="287.97" x2="287.97" y1="511.4" y2="545.3" stroke="#f0f0f0" stroke-width="0.5"/>
<line x1="293.49" x2="293.49" y1="511.4" y2="545.3" stroke="#f0f0f0" stroke-width="0.5"/>
<line x1="299.01" x2="299.01" y1="511.4" y2="545.3" stroke="#f0f0f0" stroke-width="0.5"/>
<line x1="304.54" x2="304.54" y1="511.4" y2="545.3" stroke="#f0f0f0" stroke-width="0.5"/>
<line x1="310.06" x2="310.06" y1="511.4" y2="545.3" stroke="#f0f0f0" stroke-width="0.5"/>
<line x1="315.58" x2="315.58" y1="511.4" y2="545.3" stroke="#f0f0f0" stroke-width="0.5"/>
<line x1="321.10" x2="321.10" y1="511.4" y2="545.3" stroke="#f0f0f0" stroke-width="0.5"/>
<line x1="326.62" x2="326.62" y1="511.4" y2="545.3" stroke="#f0f0f0" stroke-width="0.5"/>
<line x1="332.15" x2="332.15" y1="511.4" y2="545.3" stroke="#f0f0f0" stroke-width="0.5"/>
<line x1="337.67" x2="337.67" y1="511.4" y2="545.3" stroke="#f0f0f0" stroke-width="0.5"/>
<line x1="343.19" x2="343.19" y1="511.4" y2="545.3" stroke="#f0f0f0" stroke-width="0.5"/>
<line x1="348.71" x2="348.71" y1="511.4" y2="545.3" stroke="#f0f0f0" stroke-width="0.5"/>
<line x1="354.23" x2="354.23" y1="511.4" y2="545.3" stroke="#f0f0f0" stroke-width="0.5"/>
<line x1="359.76" x2="359.76" y1="511.4" y2="545.3" stroke="#f0f0f0" stroke-width="0.5"/>
<line x1="365.28" x2="365.28" y1="511.4" y2="545.3" stroke="#f0f0f0" stroke-width="0.5"/>
<line x1="370.80" x2="370.80" y1="511.4" y2="545.3" stroke="#f0f0f0" stroke-width="0.5"/>
<line x1="376.32" x2="376.32" y1="511.4" y2="545.3" stroke="#f0f0f0" stroke-width="0.5"/>
<line x1="381.84" x2="381.84" y1="511.4" y2="545.3" stroke="#f0f0f0" stroke-width="0.5"/>
<line x1="387.37" x2="387.37" y1="511.4" y2="545.3" stroke="#f0f0f0" stroke-width="0.5"/>
<line x1="392.89" x2="392.89" y1="511.4" y2="545.3" stroke="#f0f0f0" stroke-width="0.5"/>
<line x1="398.41" x2="398.41" y1="511.4" y2="545.3" stroke="#f0f0f0" stroke-width="0.5"/>
<line x1="403.93" x2="403.93" y1="511.4" y2="545.3" stroke="#f0f0f0" stroke-width="0.5"/>
<line x1="409.45" x2="409.45" y1="511.4" y2="545.3" stroke="#f0f0f0" stroke-width="0.5"/>
<line x1="414.98" x2="414.98" y1="511.4" y2="545.3" stroke="#f0f0f0" stroke-width="0.5"/>
<line x1="420.50" x2="420.50" y1="511.4" y2="545.3" stroke="#f0f0f0" stroke-width="0.5"/>
<line x1="426.02" x2="426.02" y1="511.4" y2="545.3" stroke="#f0f0f0" stroke-width="0.5"/>
<line x1="431.54" x2="431.54" y1="511.4" y2="545.3" stroke="#f0f0f0" stroke-width="0.5"/>
<line x1="437.06" x2="437.06" y1="511.4" y2="545.3" stroke="#f0f0f0" stroke-width="0.5"/>
<line x1="442.59" x2="442.59" y1="511.4" y2="545.3" stroke="#f0f0f0" stroke-width="0.5"/>
<rect x="19.6" y="511.4" width="426.30" height="33.90" fill="none" stroke="#d9d9d9" stroke-width="0.9"/>
<line x1="19.6" x2="19.6" y1="510.95" y2="545.75" stroke="#a0a0a0" stroke-width="0.9"/>
<line x1="19.6" x2="445.9" y1="545.3" y2="545.3" stroke="#a0a0a0" stroke-width="0.9"/>
<line x1="22.91" x2="22.91" y1="513.00" y2="543.90" stroke="#c5d9b0" stroke-width="0.85"/>
<line x1="28.44" x2="28.44" y1="513.00" y2="534.60" stroke="#7ea84e" stroke-width="0.85"/>
<line x1="33.96" x2="33.96" y1="513.00" y2="534.30" stroke="#c5d9b0" stroke-width="0.85"/>
<line x1="39.48" x2="39.48" y1="513.00" y2="534.30" stroke="#7ea84e" stroke-width="0.85"/>
<line x1="45.00" x2="45.00" y1="513.00" y2="534.30" stroke="#7ea84e" stroke-width="0.85"/>
<line x1="50.52" x2="50.52" y1="513.00" y2="533.70" stroke="#c5d9b0" stroke-width="0.85"/>
<line x1="56.05" x2="56.05" y1="513.00" y2="532.90" stroke="#7ea84e" stroke-width="0.85"/>
<line x1="61.57" x2="61.57" y1="513.00" y2="531.90" stroke="#7ea84e" stroke-width="0.85"/>
<line x1="67.09" x2="67.09" y1="513.00" y2="531.40" stroke="#7ea84e" stroke-width="0.85"/>
<line x1="72.61" x2="72.61" y1="513.00" y2="530.50" stroke="#7ea84e" stroke-width="0.85"/>
<line x1="78.13" x2="78.13" y1="513.00" y2="529.80" stroke="#7ea84e" stroke-width="0.85"/>
<line x1="83.66" x2="83.66" y1="513.00" y2="528.74" stroke="#c5d9b0" stroke-width="0.85"/>
<line x1="89.18" x2="89.18" y1="513.00" y2="528.38" stroke="#c5d9b0" stroke-width="0.85"/>
<line x1="94.70" x2="94.70" y1="513.00" y2="528.02" stroke="#7ea84e" stroke-width="0.85"/>
<line x1="100.22" x2="100.22" y1="513.00" y2="527.66" stroke="#7ea84e" stroke-width="0.85"/>
<line x1="105.74" x2="105.74" y1="513.00" y2="527.30" stroke="#7ea84e" stroke-width="0.85"/>
<line x1="111.27" x2="111.27" y1="513.00" y2="526.94" stroke="#c5d9b0" stroke-width="0.85"/>
<line x1="116.79" x2="116.79" y1="513.00" y2="526.58" stroke="#7ea84e" stroke-width="0.85"/>
<line x1="122.31" x2="122.31" y1="513.00" y2="526.22" stroke="#7ea84e" stroke-width="0.85"/>
<line x1="127.83" x2="127.83" y1="513.00" y2="525.86" stroke="#c5d9b0" stroke-width="0.85"/>
<line x1="133.35" x2="133.35" y1="513.00" y2="525.50" stroke="#7ea84e" stroke-width="0.85"/>
<line x1="138.88" x2="138.88" y1="513.00" y2="525.17" stroke="#7ea84e" stroke-width="0.85"/>
<line x1="144.40" x2="144.40" y1="513.00" y2="524.83" stroke="#7ea84e" stroke-width="0.85"/>
<line x1="149.92" x2="149.92" y1="513.00" y2="524.50" stroke="#7ea84e" stroke-width="0.85"/>
<line x1="155.44" x2="155.44" y1="513.00" y2="524.17" stroke="#7ea84e" stroke-width="0.85"/>
<line x1="160.96" x2="160.96" y1="513.00" y2="523.83" stroke="#c5d9b0" stroke-width="0.85"/>
<line x1="166.49" x2="166.49" y1="513.00" y2="523.50" stroke="#7ea84e" stroke-width="0.85"/>
<line x1="172.01" x2="172.01" y1="513.00" y2="523.17" stroke="#7ea84e" stroke-width="0.85"/>
<line x1="177.53" x2="177.53" y1="513.00" y2="522.83" stroke="#7ea84e" stroke-width="0.85"/>
<line x1="183.05" x2="183.05" y1="513.00" y2="522.50" stroke="#7ea84e" stroke-width="0.85"/>
<line x1="188.57" x2="188.57" y1="513.00" y2="522.17" stroke="#7ea84e" stroke-width="0.85"/>
<line x1="194.10" x2="194.10" y1="513.00" y2="521.83" stroke="#7ea84e" stroke-width="0.85"/>
<line x1="199.62" x2="199.62" y1="513.00" y2="521.50" stroke="#7ea84e" stroke-width="0.85"/>
<line x1="205.14" x2="205.14" y1="513.00" y2="521.17" stroke="#c5d9b0" stroke-width="0.85"/>
<line x1="210.66" x2="210.66" y1="513.00" y2="520.83" stroke="#7ea84e" stroke-width="0.85"/>
<line x1="216.18" x2="216.18" y1="513.00" y2="520.50" stroke="#7ea84e" stroke-width="0.85"/>
<line x1="221.71" x2="221.71" y1="513.00" y2="520.17" stroke="#7ea84e" stroke-width="0.85"/>
<line x1="227.23" x2="227.23" y1="513.00" y2="519.83" stroke="#7ea84e" stroke-width="0.85"/>
<line x1="232.75" x2="232.75" y1="513.00" y2="519.50" stroke="#7ea84e" stroke-width="0.85"/>
<line x1="238.27" x2="238.27" y1="513.00" y2="519.29" stroke="#7ea84e" stroke-width="0.85"/>
<line x1="243.79" x2="243.79" y1="513.00" y2="519.09" stroke="#7ea84e" stroke-width="0.85"/>
<line x1="249.32" x2="249.32" y1="513.00" y2="518.88" stroke="#c5d9b0" stroke-width="0.85"/>
<line x1="254.84" x2="254.84" y1="513.00" y2="518.68" stroke="#c5d9b0" stroke-width="0.85"/>
<line x1="260.36" x2="260.36" y1="513.00" y2="518.47" stroke="#7ea84e" stroke-width="0.85"/>
<line x1="265.88" x2="265.88" y1="513.00" y2="518.26" stroke="#c5d9b0" stroke-width="0.85"/>
<line x1="271.40" x2="271.40" y1="513.00" y2="518.06" stroke="#c5d9b0" stroke-width="0.85"/>
<line x1="276.93" x2="276.93" y1="513.00" y2="517.85" stroke="#7ea84e" stroke-width="0.85"/>
<line x1="282.45" x2="282.45" y1="513.00" y2="517.65" stroke="#7ea84e" stroke-width="0.85"/>
<line x1="287.97" x2="287.97" y1="513.00" y2="517.44" stroke="#7ea84e" stroke-width="0.85"/>
<line x1="293.49" x2="293.49" y1="513.00" y2="517.24" stroke="#7ea84e" stroke-width="0.85"/>
<line x1="299.01" x2="299.01" y1="513.00" y2="517.03" stroke="#c5d9b0" stroke-width="0.85"/>
<line x1="304.54" x2="304.54" y1="513.00" y2="516.82" stroke="#7ea84e" stroke-width="0.85"/>
<line x1="310.06" x2="310.06" y1="513.00" y2="516.62" stroke="#7ea84e" stroke-width="0.85"/>
<line x1="315.58" x2="315.58" y1="513.00" y2="516.41" stroke="#c5d9b0" stroke-width="0.85"/>
<line x1="321.10" x2="321.10" y1="513.00" y2="516.21" stroke="#c5d9b0" stroke-width="0.85"/>
<line x1="326.62" x2="326.62" y1="513.00" y2="516.00" stroke="#7ea84e" stroke-width="0.85"/>
<line x1="332.15" x2="332.15" y1="513.00" y2="515.83" stroke="#c5d9b0" stroke-width="0.85"/>
<line x1="337.67" x2="337.67" y1="513.00" y2="515.67" stroke="#7ea84e" stroke-width="0.85"/>
<line x1="343.19" x2="343.19" y1="513.00" y2="515.50" stroke="#7ea84e" stroke-width="0.85"/>
<line x1="348.71" x2="348.71" y1="513.00" y2="515.33" stroke="#7ea84e" stroke-width="0.85"/>
<line x1="354.23" x2="354.23" y1="513.00" y2="515.17" stroke="#7ea84e" stroke-width="0.85"/>
<line x1="359.76" x2="359.76" y1="513.00" y2="515.00" stroke="#7ea84e" stroke-width="0.85"/>
<line x1="365.28" x2="365.28" y1="513.00" y2="514.83" stroke="#7ea84e" stroke-width="0.85"/>
<line x1="370.80" x2="370.80" y1="513.00" y2="514.67" stroke="#7ea84e" stroke-width="0.85"/>
<line x1="376.32" x2="376.32" y1="513.00" y2="514.50" stroke="#c5d9b0" stroke-width="0.85"/>
<line x1="381.84" x2="381.84" y1="513.00" y2="514.33" stroke="#c5d9b0" stroke-width="0.85"/>
<line x1="387.37" x2="387.37" y1="513.00" y2="514.17" stroke="#c5d9b0" stroke-width="0.85"/>
<line x1="392.89" x2="392.89" y1="513.00" y2="514.00" stroke="#7ea84e" stroke-width="0.85"/>
<line x1="398.41" x2="398.41" y1="513.00" y2="513.83" stroke="#7ea84e" stroke-width="0.85"/>
<line x1="403.93" x2="403.93" y1="513.00" y2="513.67" stroke="#c5d9b0" stroke-width="0.85"/>
<line x1="409.45" x2="409.45" y1="513.00" y2="513.50" stroke="#7ea84e" stroke-width="0.85"/>
<line x1="414.98" x2="414.98" y1="513.00" y2="513.33" stroke="#7ea84e" stroke-width="0.85"/>
<line x1="420.50" x2="420.50" y1="513.00" y2="513.17" stroke="#7ea84e" stroke-width="0.85"/>
<line x1="426.02" x2="426.02" y1="513.00" y2="513.00" stroke="#7ea84e" stroke-width="0.85"/>
<line x1="431.54" x2="431.54" y1="513.00" y2="512.83" stroke="#c5d9b0" stroke-width="0.85"/>
<line x1="437.06" x2="437.06" y1="513.00" y2="512.67" stroke="#7ea84e" stroke-width="0.85"/>
<line x1="442.59" x2="442.59" y1="513.00" y2="512.50" stroke="#7ea84e" stroke-width="0.85"/>
<circle cx="22.91" cy="543.90" r="1.4" fill="#72a03f"/>
<circle cx="28.44" cy="534.60" r="1.4" fill="#72a03f"/>
<circle cx="33.96" cy="534.30" r="1.4" fill="#72a03f"/>
<circle cx="39.48" cy="534.30" r="1.4" fill="#72a03f"/>
<circle cx="45.00" cy="534.30" r="1.4" fill="#72a03f"/>
<circle cx="50.52" cy="533.70" r="1.4" fill="#72a03f"/>
<circle cx="56.05" cy="532.90" r="1.4" fill="#72a03f"/>
<circle cx="61.57" cy="531.90" r="1.4" fill="#72a03f"/>
<circle cx="67.09" cy="531.40" r="1.4" fill="#72a03f"/>
<circle cx="72.61" cy="530.50" r="1.4" fill="#72a03f"/>
<circle cx="78.13" cy="529.80" r="1.4" fill="#72a03f"/>
<circle cx="83.66" cy="528.74" r="1.4" fill="#72a03f"/>
<circle cx="89.18" cy="528.38" r="1.4" fill="#72a03f"/>
<circle cx="94.70" cy="528.02" r="1.4" fill="#72a03f"/>
<circle cx="100.22" cy="527.66" r="1.4" fill="#72a03f"/>
<circle cx="105.74" cy="527.30" r="1.4" fill="#72a03f"/>
<circle cx="111.27" cy="526.94" r="1.4" fill="#72a03f"/>
<circle cx="116.79" cy="526.58" r="1.4" fill="#72a03f"/>
<circle cx="122.31" cy="526.22" r="1.4" fill="#72a03f"/>
<circle cx="127.83" cy="525.86" r="1.4" fill="#72a03f"/>
<circle cx="133.35" cy="525.50" r="1.4" fill="#72a03f"/>
<circle cx="138.88" cy="525.17" r="1.4" fill="#72a03f"/>
<circle cx="144.40" cy="524.83" r="1.4" fill="#72a03f"/>
<circle cx="149.92" cy="524.50" r="1.4" fill="#72a03f"/>
<circle cx="155.44" cy="524.17" r="1.4" fill="#72a03f"/>
<circle cx="160.96" cy="523.83" r="1.4" fill="#72a03f"/>
<circle cx="166.49" cy="523.50" r="1.4" fill="#72a03f"/>
<circle cx="172.01" cy="523.17" r="1.4" fill="#72a03f"/>
<circle cx="177.53" cy="522.83" r="1.4" fill="#72a03f"/>
<circle cx="183.05" cy="522.50" r="1.4" fill="#72a03f"/>
<circle cx="188.57" cy="522.17" r="1.4" fill="#72a03f"/>
<circle cx="194.10" cy="521.83" r="1.4" fill="#72a03f"/>
<circle cx="199.62" cy="521.50" r="1.4" fill="#72a03f"/>
<circle cx="205.14" cy="521.17" r="1.4" fill="#72a03f"/>
<circle cx="210.66" cy="520.83" r="1.4" fill="#72a03f"/>
<circle cx="216.18" cy="520.50" r="1.4" fill="#72a03f"/>
<circle cx="221.71" cy="520.17" r="1.4" fill="#72a03f"/>
<circle cx="227.23" cy="519.83" r="1.4" fill="#72a03f"/>
<circle cx="232.75" cy="519.50" r="1.4" fill="#72a03f"/>
<circle cx="238.27" cy="519.29" r="1.4" fill="#72a03f"/>
<circle cx="243.79" cy="519.09" r="1.4" fill="#72a03f"/>
<circle cx="249.32" cy="518.88" r="1.4" fill="#72a03f"/>
<circle cx="254.84" cy="518.68" r="1.4" fill="#72a03f"/>
<circle cx="260.36" cy="518.47" r="1.4" fill="#72a03f"/>
<circle cx="265.88" cy="518.26" r="1.4" fill="#72a03f"/>
<circle cx="271.40" cy="518.06" r="1.4" fill="#72a03f"/>
<circle cx="276.93" cy="517.85" r="1.4" fill="#72a03f"/>
<circle cx="282.45" cy="517.65" r="1.4" fill="#72a03f"/>
<circle cx="287.97" cy="517.44" r="1.4" fill="#72a03f"/>
<circle cx="293.49" cy="517.24" r="1.4" fill="#72a03f"/>
<circle cx="299.01" cy="517.03" r="1.4" fill="#72a03f"/>
<circle cx="304.54" cy="516.82" r="1.4" fill="#72a03f"/>
<circle cx="310.06" cy="516.62" r="1.4" fill="#72a03f"/>
<circle cx="315.58" cy="516.41" r="1.4" fill="#72a03f"/>
<circle cx="321.10" cy="516.21" r="1.4" fill="#72a03f"/>
<circle cx="326.62" cy="516.00" r="1.4" fill="#72a03f"/>
<circle cx="332.15" cy="515.83" r="1.4" fill="#72a03f"/>
<circle cx="337.67" cy="515.67" r="1.4" fill="#72a03f"/>
<circle cx="343.19" cy="515.50" r="1.4" fill="#72a03f"/>
<circle cx="348.71" cy="515.33" r="1.4" fill="#72a03f"/>
<circle cx="354.23" cy="515.17" r="1.4" fill="#72a03f"/>
<circle cx="359.76" cy="515.00" r="1.4" fill="#72a03f"/>
<circle cx="365.28" cy="514.83" r="1.4" fill="#72a03f"/>
<circle cx="370.80" cy="514.67" r="1.4" fill="#72a03f"/>
<circle cx="376.32" cy="514.50" r="1.4" fill="#72a03f"/>
<circle cx="381.84" cy="514.33" r="1.4" fill="#72a03f"/>
<circle cx="387.37" cy="514.17" r="1.4" fill="#72a03f"/>
<circle cx="392.89" cy="514.00" r="1.4" fill="#72a03f"/>
<circle cx="398.41" cy="513.83" r="1.4" fill="#72a03f"/>
<circle cx="403.93" cy="513.67" r="1.4" fill="#72a03f"/>
<circle cx="409.45" cy="513.50" r="1.4" fill="#72a03f"/>
<circle cx="414.98" cy="513.33" r="1.4" fill="#72a03f"/>
<circle cx="420.50" cy="513.17" r="1.4" fill="#72a03f"/>
<circle cx="426.02" cy="513.00" r="1.4" fill="#72a03f"/>
<circle cx="431.54" cy="512.83" r="1.4" fill="#72a03f"/>
<circle cx="437.06" cy="512.67" r="1.4" fill="#72a03f"/>
<circle cx="442.59" cy="512.50" r="1.4" fill="#72a03f"/>
<line x1="17.90" x2="19.6" y1="513.0" y2="513.0" stroke="#333" stroke-width="0.6"/>
<text x="17.00" y="515.10" font-size="4.9" text-anchor="end" fill="#555555" >0</text>
<line x1="22.91" x2="22.91" y1="545.3" y2="547.00" stroke="#333" stroke-width="0.6"/>
<text transform="translate(25.81,549.70) rotate(-60)" font-size="5.0" text-anchor="end" fill="#444444">KLK6</text>
<line x1="28.44" x2="28.44" y1="545.3" y2="547.00" stroke="#333" stroke-width="0.6"/>
<text transform="translate(31.34,549.70) rotate(-60)" font-size="5.0" text-anchor="end" fill="#444444">IL1R1</text>
<line x1="33.96" x2="33.96" y1="545.3" y2="547.00" stroke="#333" stroke-width="0.6"/>
<text transform="translate(36.86,549.70) rotate(-60)" font-size="5.0" text-anchor="end" fill="#444444">MMP12</text>
<line x1="39.48" x2="39.48" y1="545.3" y2="547.00" stroke="#333" stroke-width="0.6"/>
<text transform="translate(42.38,549.70) rotate(-60)" font-size="5.0" text-anchor="end" fill="#444444">SMPDL3A</text>
<line x1="45.00" x2="45.00" y1="545.3" y2="547.00" stroke="#333" stroke-width="0.6"/>
<text transform="translate(47.90,549.70) rotate(-60)" font-size="5.0" text-anchor="end" fill="#444444">KRT19</text>
<line x1="50.52" x2="50.52" y1="545.3" y2="547.00" stroke="#333" stroke-width="0.6"/>
<text transform="translate(53.42,549.70) rotate(-60)" font-size="5.0" text-anchor="end" fill="#444444">FCRL6</text>
<line x1="56.05" x2="56.05" y1="545.3" y2="547.00" stroke="#333" stroke-width="0.6"/>
<text transform="translate(58.95,549.70) rotate(-60)" font-size="5.0" text-anchor="end" fill="#444444">TNR</text>
<line x1="61.57" x2="61.57" y1="545.3" y2="547.00" stroke="#333" stroke-width="0.6"/>
<text transform="translate(64.47,549.70) rotate(-60)" font-size="5.0" text-anchor="end" fill="#444444">CCL11</text>
<line x1="67.09" x2="67.09" y1="545.3" y2="547.00" stroke="#333" stroke-width="0.6"/>
<text transform="translate(69.99,549.70) rotate(-60)" font-size="5.0" text-anchor="end" fill="#444444">CLMP</text>
<line x1="72.61" x2="72.61" y1="545.3" y2="547.00" stroke="#333" stroke-width="0.6"/>
<text transform="translate(75.51,549.70) rotate(-60)" font-size="5.0" text-anchor="end" fill="#444444">ADA2</text>
<line x1="78.13" x2="78.13" y1="545.3" y2="547.00" stroke="#333" stroke-width="0.6"/>
<text transform="translate(81.03,549.70) rotate(-60)" font-size="5.0" text-anchor="end" fill="#444444">MMP7</text>
<line x1="83.66" x2="83.66" y1="545.3" y2="547.00" stroke="#333" stroke-width="0.6"/>
<text transform="translate(86.56,549.70) rotate(-60)" font-size="5.0" text-anchor="end" fill="#444444">IL7</text>
<line x1="89.18" x2="89.18" y1="545.3" y2="547.00" stroke="#333" stroke-width="0.6"/>
<text transform="translate(92.08,549.70) rotate(-60)" font-size="5.0" text-anchor="end" fill="#444444">ASGR1</text>
<line x1="94.70" x2="94.70" y1="545.3" y2="547.00" stroke="#333" stroke-width="0.6"/>
<text transform="translate(97.60,549.70) rotate(-60)" font-size="5.0" text-anchor="end" fill="#444444">ASGR2</text>
<line x1="100.22" x2="100.22" y1="545.3" y2="547.00" stroke="#333" stroke-width="0.6"/>
<text transform="translate(103.12,549.70) rotate(-60)" font-size="5.0" text-anchor="end" fill="#444444">GFRA1</text>
<line x1="105.74" x2="105.74" y1="545.3" y2="547.00" stroke="#333" stroke-width="0.6"/>
<text transform="translate(108.64,549.70) rotate(-60)" font-size="5.0" text-anchor="end" fill="#444444">FGF23</text>
<line x1="111.27" x2="111.27" y1="545.3" y2="547.00" stroke="#333" stroke-width="0.6"/>
<text transform="translate(114.17,549.70) rotate(-60)" font-size="5.0" text-anchor="end" fill="#444444">TXNDC15</text>
<line x1="116.79" x2="116.79" y1="545.3" y2="547.00" stroke="#333" stroke-width="0.6"/>
<text transform="translate(119.69,549.70) rotate(-60)" font-size="5.0" text-anchor="end" fill="#444444">TIMP1</text>
<line x1="122.31" x2="122.31" y1="545.3" y2="547.00" stroke="#333" stroke-width="0.6"/>
<text transform="translate(125.21,549.70) rotate(-60)" font-size="5.0" text-anchor="end" fill="#444444">IL18R1</text>
<line x1="127.83" x2="127.83" y1="545.3" y2="547.00" stroke="#333" stroke-width="0.6"/>
<text transform="translate(130.73,549.70) rotate(-60)" font-size="5.0" text-anchor="end" fill="#444444">ALCAM</text>
<line x1="133.35" x2="133.35" y1="545.3" y2="547.00" stroke="#333" stroke-width="0.6"/>
<text transform="translate(136.25,549.70) rotate(-60)" font-size="5.0" text-anchor="end" fill="#444444">SEMA3F</text>
<line x1="138.88" x2="138.88" y1="545.3" y2="547.00" stroke="#333" stroke-width="0.6"/>
<text transform="translate(141.78,549.70) rotate(-60)" font-size="5.0" text-anchor="end" fill="#444444">FCAR</text>
<line x1="144.40" x2="144.40" y1="545.3" y2="547.00" stroke="#333" stroke-width="0.6"/>
<text transform="translate(147.30,549.70) rotate(-60)" font-size="5.0" text-anchor="end" fill="#444444">BCAN</text>
<line x1="149.92" x2="149.92" y1="545.3" y2="547.00" stroke="#333" stroke-width="0.6"/>
<text transform="translate(152.82,549.70) rotate(-60)" font-size="5.0" text-anchor="end" fill="#444444">SFRP1</text>
<line x1="155.44" x2="155.44" y1="545.3" y2="547.00" stroke="#333" stroke-width="0.6"/>
<text transform="translate(158.34,549.70) rotate(-60)" font-size="5.0" text-anchor="end" fill="#444444">FGFBP1</text>
<line x1="160.96" x2="160.96" y1="545.3" y2="547.00" stroke="#333" stroke-width="0.6"/>
<text transform="translate(163.86,549.70) rotate(-60)" font-size="5.0" text-anchor="end" fill="#444444">OPCML</text>
<line x1="166.49" x2="166.49" y1="545.3" y2="547.00" stroke="#333" stroke-width="0.6"/>
<text transform="translate(169.39,549.70) rotate(-60)" font-size="5.0" text-anchor="end" fill="#444444">IL12RB1</text>
<line x1="172.01" x2="172.01" y1="545.3" y2="547.00" stroke="#333" stroke-width="0.6"/>
<text transform="translate(174.91,549.70) rotate(-60)" font-size="5.0" text-anchor="end" fill="#444444">PRSS8</text>
<line x1="177.53" x2="177.53" y1="545.3" y2="547.00" stroke="#333" stroke-width="0.6"/>
<text transform="translate(180.43,549.70) rotate(-60)" font-size="5.0" text-anchor="end" fill="#444444">KLK4</text>
<line x1="183.05" x2="183.05" y1="545.3" y2="547.00" stroke="#333" stroke-width="0.6"/>
<text transform="translate(185.95,549.70) rotate(-60)" font-size="5.0" text-anchor="end" fill="#444444">LTBP2</text>
<line x1="188.57" x2="188.57" y1="545.3" y2="547.00" stroke="#333" stroke-width="0.6"/>
<text transform="translate(191.47,549.70) rotate(-60)" font-size="5.0" text-anchor="end" fill="#444444">NCAM1</text>
<line x1="194.10" x2="194.10" y1="545.3" y2="547.00" stroke="#333" stroke-width="0.6"/>
<text transform="translate(197.00,549.70) rotate(-60)" font-size="5.0" text-anchor="end" fill="#444444">WFDC2</text>
<line x1="199.62" x2="199.62" y1="545.3" y2="547.00" stroke="#333" stroke-width="0.6"/>
<text transform="translate(202.52,549.70) rotate(-60)" font-size="5.0" text-anchor="end" fill="#444444">ANGPTL7</text>
<line x1="205.14" x2="205.14" y1="545.3" y2="547.00" stroke="#333" stroke-width="0.6"/>
<text transform="translate(208.04,549.70) rotate(-60)" font-size="5.0" text-anchor="end" fill="#444444">CLEC7A</text>
<line x1="210.66" x2="210.66" y1="545.3" y2="547.00" stroke="#333" stroke-width="0.6"/>
<text transform="translate(213.56,549.70) rotate(-60)" font-size="5.0" text-anchor="end" fill="#444444">GAL</text>
<line x1="216.18" x2="216.18" y1="545.3" y2="547.00" stroke="#333" stroke-width="0.6"/>
<text transform="translate(219.08,549.70) rotate(-60)" font-size="5.0" text-anchor="end" fill="#444444">SERPINE2</text>
<line x1="221.71" x2="221.71" y1="545.3" y2="547.00" stroke="#333" stroke-width="0.6"/>
<text transform="translate(224.61,549.70) rotate(-60)" font-size="5.0" text-anchor="end" fill="#444444">TNFRSF10C</text>
<line x1="227.23" x2="227.23" y1="545.3" y2="547.00" stroke="#333" stroke-width="0.6"/>
<text transform="translate(230.13,549.70) rotate(-60)" font-size="5.0" text-anchor="end" fill="#444444">FGF21</text>
<line x1="232.75" x2="232.75" y1="545.3" y2="547.00" stroke="#333" stroke-width="0.6"/>
<text transform="translate(235.65,549.70) rotate(-60)" font-size="5.0" text-anchor="end" fill="#444444">REN</text>
<line x1="238.27" x2="238.27" y1="545.3" y2="547.00" stroke="#333" stroke-width="0.6"/>
<text transform="translate(241.17,549.70) rotate(-60)" font-size="5.0" text-anchor="end" fill="#444444">EGFL7</text>
<line x1="243.79" x2="243.79" y1="545.3" y2="547.00" stroke="#333" stroke-width="0.6"/>
<text transform="translate(246.69,549.70) rotate(-60)" font-size="5.0" text-anchor="end" fill="#444444">KRT18</text>
<line x1="249.32" x2="249.32" y1="545.3" y2="547.00" stroke="#333" stroke-width="0.6"/>
<text transform="translate(252.22,549.70) rotate(-60)" font-size="5.0" text-anchor="end" fill="#444444">CEACAM8</text>
<line x1="254.84" x2="254.84" y1="545.3" y2="547.00" stroke="#333" stroke-width="0.6"/>
<text transform="translate(257.74,549.70) rotate(-60)" font-size="5.0" text-anchor="end" fill="#444444">MAD1L1</text>
<line x1="260.36" x2="260.36" y1="545.3" y2="547.00" stroke="#333" stroke-width="0.6"/>
<text transform="translate(263.26,549.70) rotate(-60)" font-size="5.0" text-anchor="end" fill="#444444">MNDA</text>
<line x1="265.88" x2="265.88" y1="545.3" y2="547.00" stroke="#333" stroke-width="0.6"/>
<text transform="translate(268.78,549.70) rotate(-60)" font-size="5.0" text-anchor="end" fill="#444444">IL6</text>
<line x1="271.40" x2="271.40" y1="545.3" y2="547.00" stroke="#333" stroke-width="0.6"/>
<text transform="translate(274.30,549.70) rotate(-60)" font-size="5.0" text-anchor="end" fill="#444444">DDAH1</text>
<line x1="276.93" x2="276.93" y1="545.3" y2="547.00" stroke="#333" stroke-width="0.6"/>
<text transform="translate(279.83,549.70) rotate(-60)" font-size="5.0" text-anchor="end" fill="#444444">FOLR1</text>
<line x1="282.45" x2="282.45" y1="545.3" y2="547.00" stroke="#333" stroke-width="0.6"/>
<text transform="translate(285.35,549.70) rotate(-60)" font-size="5.0" text-anchor="end" fill="#444444">IL15RA</text>
<line x1="287.97" x2="287.97" y1="545.3" y2="547.00" stroke="#333" stroke-width="0.6"/>
<text transform="translate(290.87,549.70) rotate(-60)" font-size="5.0" text-anchor="end" fill="#444444">CAPG</text>
<line x1="293.49" x2="293.49" y1="545.3" y2="547.00" stroke="#333" stroke-width="0.6"/>
<text transform="translate(296.39,549.70) rotate(-60)" font-size="5.0" text-anchor="end" fill="#444444">FSTL1</text>
<line x1="299.01" x2="299.01" y1="545.3" y2="547.00" stroke="#333" stroke-width="0.6"/>
<text transform="translate(301.91,549.70) rotate(-60)" font-size="5.0" text-anchor="end" fill="#444444">SLITRK2</text>
<line x1="304.54" x2="304.54" y1="545.3" y2="547.00" stroke="#333" stroke-width="0.6"/>
<text transform="translate(307.44,549.70) rotate(-60)" font-size="5.0" text-anchor="end" fill="#444444">GALNT10</text>
<line x1="310.06" x2="310.06" y1="545.3" y2="547.00" stroke="#333" stroke-width="0.6"/>
<text transform="translate(312.96,549.70) rotate(-60)" font-size="5.0" text-anchor="end" fill="#444444">MMP3</text>
<line x1="315.58" x2="315.58" y1="545.3" y2="547.00" stroke="#333" stroke-width="0.6"/>
<text transform="translate(318.48,549.70) rotate(-60)" font-size="5.0" text-anchor="end" fill="#444444">RARRES2</text>
<line x1="321.10" x2="321.10" y1="545.3" y2="547.00" stroke="#333" stroke-width="0.6"/>
<text transform="translate(324.00,549.70) rotate(-60)" font-size="5.0" text-anchor="end" fill="#444444">CXCL13</text>
<line x1="326.62" x2="326.62" y1="545.3" y2="547.00" stroke="#333" stroke-width="0.6"/>
<text transform="translate(329.52,549.70) rotate(-60)" font-size="5.0" text-anchor="end" fill="#444444">EZR</text>
<line x1="332.15" x2="332.15" y1="545.3" y2="547.00" stroke="#333" stroke-width="0.6"/>
<text transform="translate(335.05,549.70) rotate(-60)" font-size="5.0" text-anchor="end" fill="#444444">TNFRSF13B</text>
<line x1="337.67" x2="337.67" y1="545.3" y2="547.00" stroke="#333" stroke-width="0.6"/>
<text transform="translate(340.57,549.70) rotate(-60)" font-size="5.0" text-anchor="end" fill="#444444">SLITRK1</text>
<line x1="343.19" x2="343.19" y1="545.3" y2="547.00" stroke="#333" stroke-width="0.6"/>
<text transform="translate(346.09,549.70) rotate(-60)" font-size="5.0" text-anchor="end" fill="#444444">MME</text>
<line x1="348.71" x2="348.71" y1="545.3" y2="547.00" stroke="#333" stroke-width="0.6"/>
<text transform="translate(351.61,549.70) rotate(-60)" font-size="5.0" text-anchor="end" fill="#444444">ELOA</text>
<line x1="354.23" x2="354.23" y1="545.3" y2="547.00" stroke="#333" stroke-width="0.6"/>
<text transform="translate(357.13,549.70) rotate(-60)" font-size="5.0" text-anchor="end" fill="#444444">CXCL5</text>
<line x1="359.76" x2="359.76" y1="545.3" y2="547.00" stroke="#333" stroke-width="0.6"/>
<text transform="translate(362.66,549.70) rotate(-60)" font-size="5.0" text-anchor="end" fill="#444444">SLAMF8</text>
<line x1="365.28" x2="365.28" y1="545.3" y2="547.00" stroke="#333" stroke-width="0.6"/>
<text transform="translate(368.18,549.70) rotate(-60)" font-size="5.0" text-anchor="end" fill="#444444">LAMP3</text>
<line x1="370.80" x2="370.80" y1="545.3" y2="547.00" stroke="#333" stroke-width="0.6"/>
<text transform="translate(373.70,549.70) rotate(-60)" font-size="5.0" text-anchor="end" fill="#444444">SMOC1</text>
<line x1="376.32" x2="376.32" y1="545.3" y2="547.00" stroke="#333" stroke-width="0.6"/>
<text transform="translate(379.22,549.70) rotate(-60)" font-size="5.0" text-anchor="end" fill="#444444">CD38</text>
<line x1="381.84" x2="381.84" y1="545.3" y2="547.00" stroke="#333" stroke-width="0.6"/>
<text transform="translate(384.74,549.70) rotate(-60)" font-size="5.0" text-anchor="end" fill="#444444">LTBP3</text>
<line x1="387.37" x2="387.37" y1="545.3" y2="547.00" stroke="#333" stroke-width="0.6"/>
<text transform="translate(390.27,549.70) rotate(-60)" font-size="5.0" text-anchor="end" fill="#444444">TNFRSF11A</text>
<line x1="392.89" x2="392.89" y1="545.3" y2="547.00" stroke="#333" stroke-width="0.6"/>
<text transform="translate(395.79,549.70) rotate(-60)" font-size="5.0" text-anchor="end" fill="#444444">CCL25</text>
<line x1="398.41" x2="398.41" y1="545.3" y2="547.00" stroke="#333" stroke-width="0.6"/>
<text transform="translate(401.31,549.70) rotate(-60)" font-size="5.0" text-anchor="end" fill="#444444">HEPH</text>
<line x1="403.93" x2="403.93" y1="545.3" y2="547.00" stroke="#333" stroke-width="0.6"/>
<text transform="translate(406.83,549.70) rotate(-60)" font-size="5.0" text-anchor="end" fill="#444444">MFGE8</text>
<line x1="409.45" x2="409.45" y1="545.3" y2="547.00" stroke="#333" stroke-width="0.6"/>
<text transform="translate(412.35,549.70) rotate(-60)" font-size="5.0" text-anchor="end" fill="#444444">HNMT</text>
<line x1="414.98" x2="414.98" y1="545.3" y2="547.00" stroke="#333" stroke-width="0.6"/>
<text transform="translate(417.88,549.70) rotate(-60)" font-size="5.0" text-anchor="end" fill="#444444">NCR1</text>
<line x1="420.50" x2="420.50" y1="545.3" y2="547.00" stroke="#333" stroke-width="0.6"/>
<text transform="translate(423.40,549.70) rotate(-60)" font-size="5.0" text-anchor="end" fill="#444444">HAVCR2</text>
<line x1="426.02" x2="426.02" y1="545.3" y2="547.00" stroke="#333" stroke-width="0.6"/>
<text transform="translate(428.92,549.70) rotate(-60)" font-size="5.0" text-anchor="end" fill="#444444">TNFRSF6B</text>
<line x1="431.54" x2="431.54" y1="545.3" y2="547.00" stroke="#333" stroke-width="0.6"/>
<text transform="translate(434.44,549.70) rotate(-60)" font-size="5.0" text-anchor="end" fill="#444444">CD300C</text>
<line x1="437.06" x2="437.06" y1="545.3" y2="547.00" stroke="#333" stroke-width="0.6"/>
<text transform="translate(439.96,549.70) rotate(-60)" font-size="5.0" text-anchor="end" fill="#444444">SPON2</text>
<line x1="442.59" x2="442.59" y1="545.3" y2="547.00" stroke="#333" stroke-width="0.6"/>
<text transform="translate(445.49,549.70) rotate(-60)" font-size="5.0" text-anchor="end" fill="#444444">RNASE1</text>
<rect x="446.55" y="512.15" width="8.10" height="33.20" fill="#bdd5a2" stroke="#4e5f40" stroke-width="0.7"/>
<text transform="translate(449.00,528.35) rotate(90)" font-size="4.8" text-anchor="middle" fill="#1a1a1a">Negative</text>
<text transform="translate(4.25,495.80) rotate(-90)" font-size="6.0" text-anchor="middle" fill="#000" stroke="#000" stroke-width="0.08">weight</text>
<text x="597.75" y="457.00" font-size="8.45" text-anchor="middle" fill="#111" >GO-BP enrichment</text>
<rect x="552.2" y="461.4" width="92.10" height="87.90" fill="#fff"/>
<rect x="556.39" y="462.58" width="83.73" height="7.06" fill="#9ebe7a"/>
<text x="549.00" y="468.61" font-size="5.65" text-anchor="end" fill="#4d4d4d" >taxis</text>
<rect x="556.39" y="470.43" width="83.73" height="7.06" fill="#9ebe7a"/>
<text x="549.00" y="476.46" font-size="5.65" text-anchor="end" fill="#4d4d4d" >chemotaxis</text>
<rect x="556.39" y="478.27" width="79.54" height="7.06" fill="#d7e3cd"/>
<text x="549.00" y="484.31" font-size="5.65" text-anchor="end" fill="#4d4d4d" >ameboidal-type cell migration</text>
<rect x="556.39" y="486.12" width="75.35" height="7.06" fill="#e7eee6"/>
<text x="549.00" y="492.15" font-size="5.65" text-anchor="end" fill="#4d4d4d" >positive regulation of MAPK cascade</text>
<rect x="556.39" y="493.97" width="71.17" height="7.06" fill="#d9e5cf"/>
<text x="549.00" y="500.00" font-size="5.65" text-anchor="end" fill="#4d4d4d" >leukocyte migration</text>
<rect x="556.39" y="501.82" width="66.98" height="7.06" fill="#eef2f4"/>
<text x="549.00" y="507.85" font-size="5.65" text-anchor="end" fill="#4d4d4d" >tissue migration</text>
<rect x="556.39" y="509.67" width="66.98" height="7.06" fill="#8fb566"/>
<text x="549.00" y="515.70" font-size="5.65" text-anchor="end" fill="#4d4d4d" >response to tumor necrosis factor</text>
<rect x="556.39" y="517.51" width="66.98" height="7.06" fill="#78a346"/>
<text x="549.00" y="523.55" font-size="5.65" text-anchor="end" fill="#4d4d4d" >myeloid leukocyte migration</text>
<rect x="556.39" y="525.36" width="66.98" height="7.06" fill="#ebefed"/>
<text x="549.00" y="531.39" font-size="5.65" text-anchor="end" fill="#4d4d4d" >epithelium migration</text>
<rect x="556.39" y="533.21" width="66.98" height="7.06" fill="#ebefed"/>
<text x="549.00" y="539.24" font-size="5.65" text-anchor="end" fill="#4d4d4d" >epithelial cell migration</text>
<rect x="556.39" y="541.06" width="66.98" height="7.06" fill="#cadcb8"/>
<text x="549.00" y="547.09" font-size="5.65" text-anchor="end" fill="#4d4d4d" >cell chemotaxis</text>
<rect x="552.2" y="461.4" width="92.10" height="87.90" fill="none" stroke="#6a6a6a" stroke-width="0.75"/>
<text x="556.39" y="556.40" font-size="4.9" text-anchor="middle" fill="#5e5e5e" >0</text>
<text x="577.32" y="556.40" font-size="4.9" text-anchor="middle" fill="#5e5e5e" >5</text>
<text x="598.25" y="556.40" font-size="4.9" text-anchor="middle" fill="#5e5e5e" >10</text>
<text x="619.18" y="556.40" font-size="4.9" text-anchor="middle" fill="#5e5e5e" >15</text>
<text x="640.11" y="556.40" font-size="4.9" text-anchor="middle" fill="#5e5e5e" >20</text>
<text x="598.35" y="563.30" font-size="6.3" text-anchor="middle" fill="#111" >Count</text>
<line x1="653.8" x2="656.4" y1="480.50" y2="480.50" stroke="#8a8a8a" stroke-width="0.6"/>
<text x="657.60" y="482.30" font-size="6.4" text-anchor="start" fill="#1a1a1a" >Log</text>
<text x="668.50" y="483.30" font-size="3.9" text-anchor="start" fill="#333" >10</text>
<text x="673.70" y="481.30" font-size="5.7" text-anchor="start" fill="#1a1a1a" font-weight="bold">P</text>
<text x="677.60" y="482.90" font-size="4.6" text-anchor="start" fill="#333" font-style="italic">adj</text>
<defs><linearGradient id="g140446396371840" x1="0" y1="0" x2="0" y2="1"><stop offset="0.000" stop-color="#78a346"/><stop offset="0.143" stop-color="#8aae5e"/><stop offset="0.286" stop-color="#9bb976"/><stop offset="0.429" stop-color="#acc48e"/><stop offset="0.571" stop-color="#bdcfa6"/><stop offset="0.714" stop-color="#cddabe"/><stop offset="0.857" stop-color="#dee5d7"/><stop offset="1.000" stop-color="#eef0f0"/></linearGradient></defs>
<rect x="653.3" y="487.4" width="9.9" height="47.10" fill="url(#g140446396371840)"/>
<line x1="653.3" x2="655.3" y1="501.0" y2="501.0" stroke="#fff" stroke-width="0.4" opacity="0.35"/>
<line x1="661.1999999999999" x2="663.1999999999999" y1="501.0" y2="501.0" stroke="#fff" stroke-width="0.4" opacity="0.35"/>
<text x="666.40" y="503.00" font-size="4.9" text-anchor="start" fill="#4d4d4d" >6</text>
<line x1="653.3" x2="655.3" y1="517.8" y2="517.8" stroke="#fff" stroke-width="0.4" opacity="0.35"/>
<line x1="661.1999999999999" x2="663.1999999999999" y1="517.8" y2="517.8" stroke="#fff" stroke-width="0.4" opacity="0.35"/>
<text x="666.40" y="519.80" font-size="4.9" text-anchor="start" fill="#4d4d4d" >5</text>
<line x1="653.3" x2="655.3" y1="534.6" y2="534.6" stroke="#fff" stroke-width="0.4" opacity="0.35"/>
<line x1="661.1999999999999" x2="663.1999999999999" y1="534.6" y2="534.6" stroke="#fff" stroke-width="0.4" opacity="0.35"/>
<text x="666.40" y="536.60" font-size="4.9" text-anchor="start" fill="#4d4d4d" >4</text>
<text x="232.80" y="579.50" font-size="5.7" text-anchor="middle" fill="#111" >Protein</text>
</svg></div>
</body></html>
